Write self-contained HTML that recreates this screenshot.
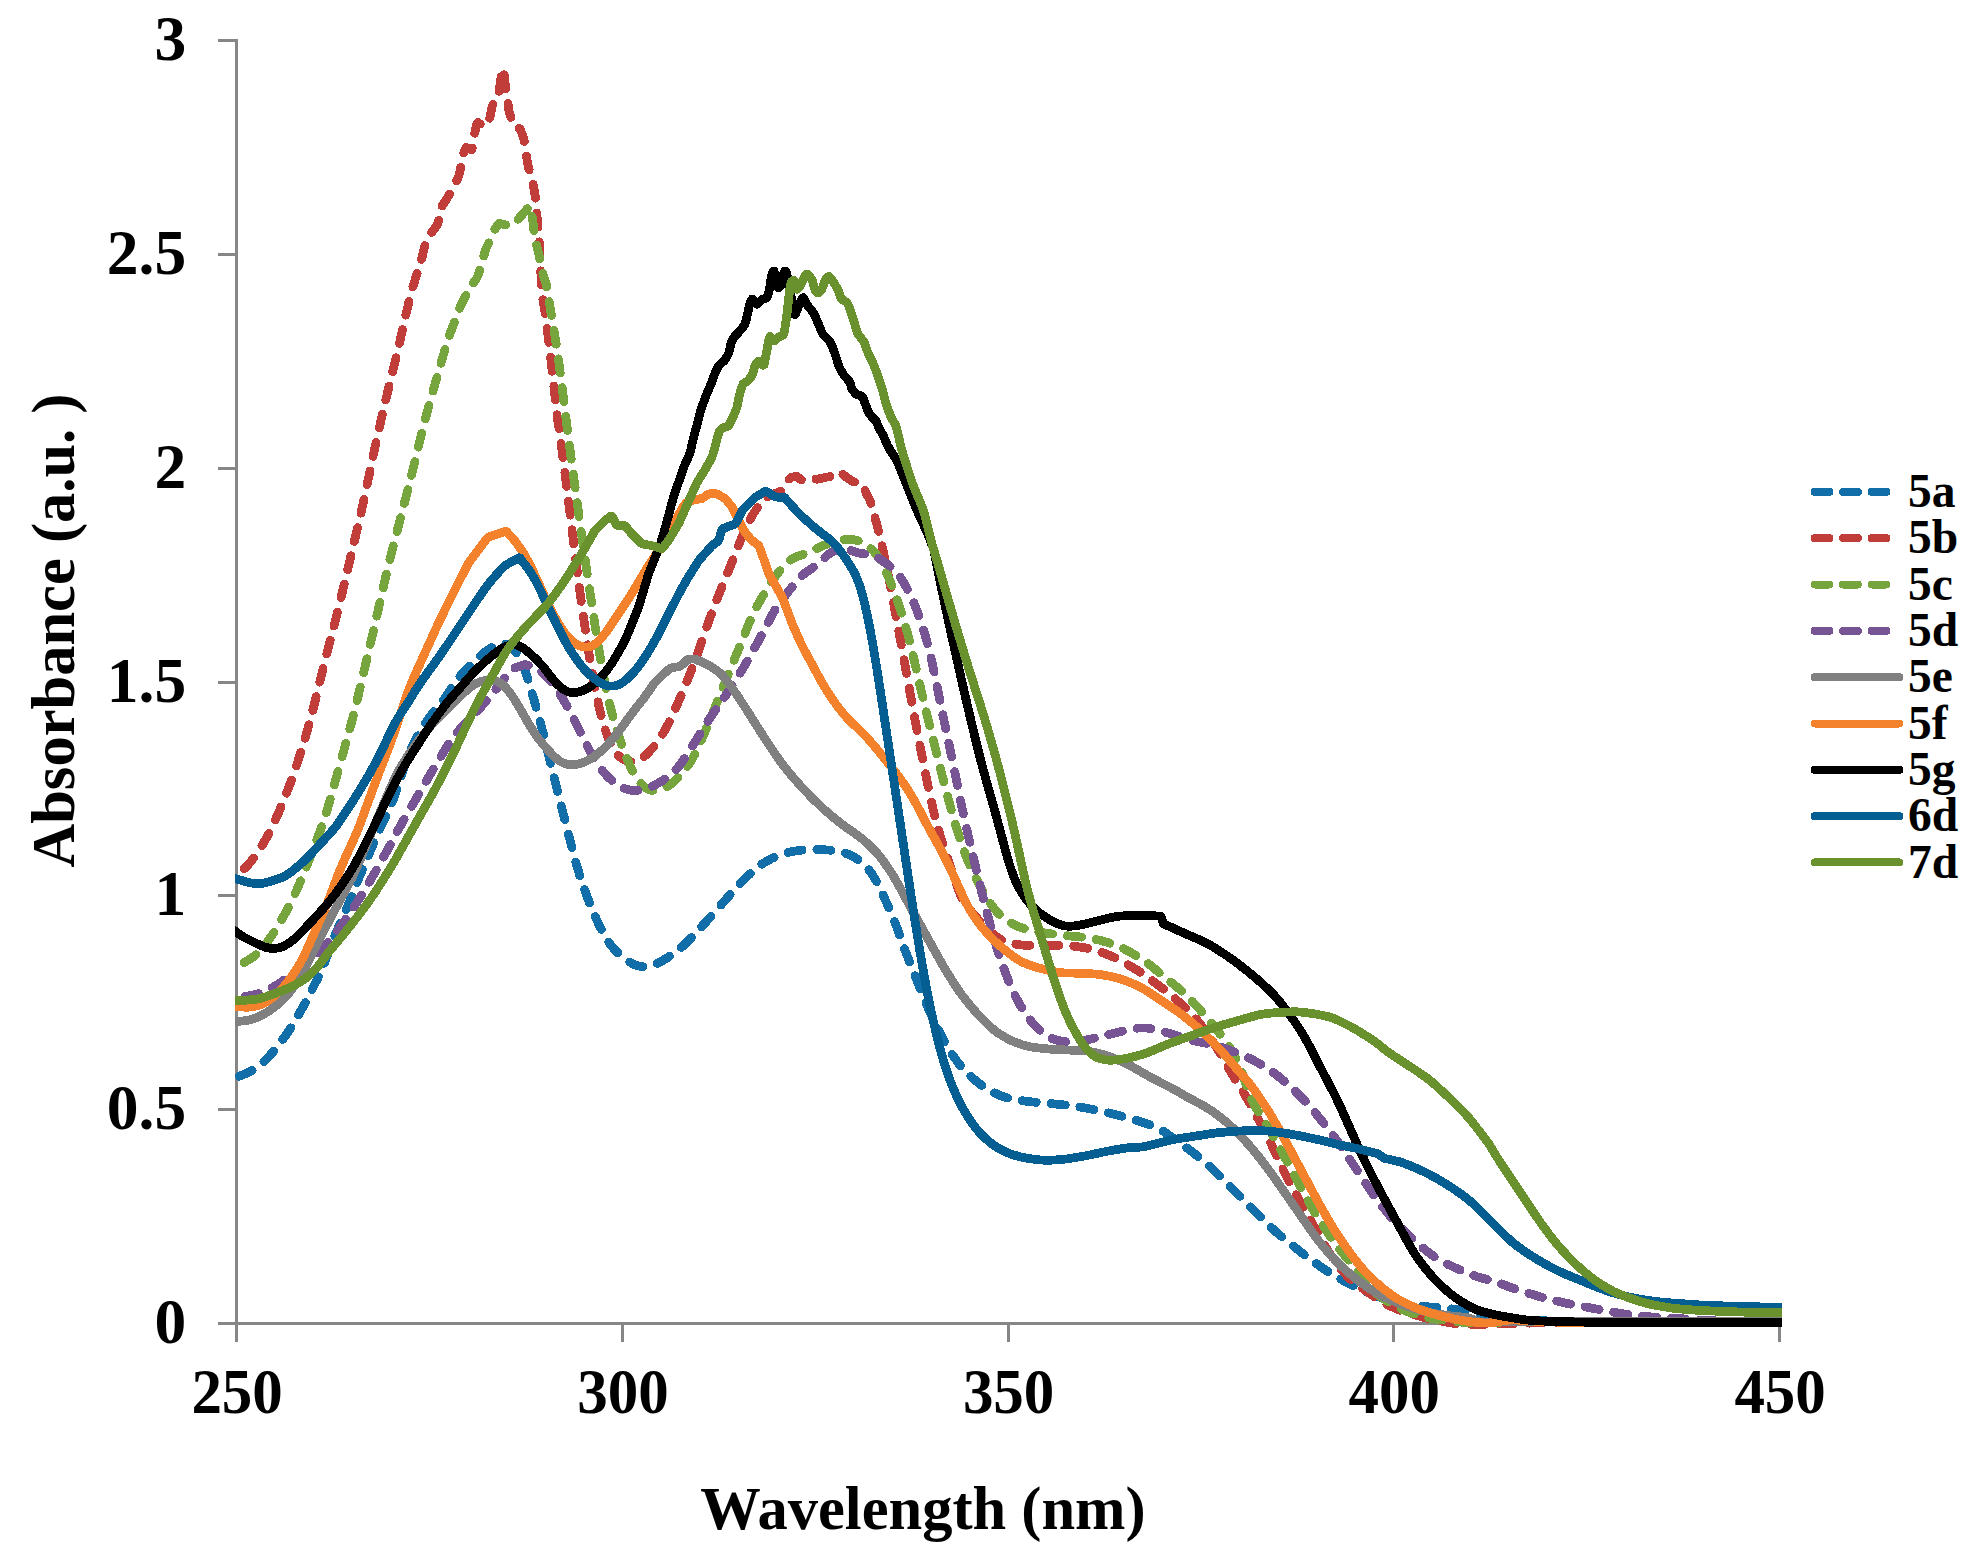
<!DOCTYPE html>
<html><head><meta charset="utf-8"><title>UV-Vis absorbance spectra</title>
<style>html,body{margin:0;padding:0;background:#fff}svg{display:block}</style></head>
<body>
<svg width="1972" height="1554" viewBox="0 0 1972 1554">
<rect width="1972" height="1554" fill="#fff"/>
<g stroke="#868686" stroke-width="3" fill="none" shape-rendering="crispEdges">
<path d="M236.5,39.0 V1342.0"/>
<path d="M218.0,1323.5 H1781.0"/>
<path d="M218.0,1109.7 H236.5"/>
<path d="M218.0,895.8 H236.5"/>
<path d="M218.0,682.0 H236.5"/>
<path d="M218.0,468.2 H236.5"/>
<path d="M218.0,254.3 H236.5"/>
<path d="M218.0,40.5 H236.5"/>
<path d="M622.2,1323.5 V1342.0"/>
<path d="M1008.0,1323.5 V1342.0"/>
<path d="M1393.8,1323.5 V1342.0"/>
<path d="M1779.5,1323.5 V1342.0"/>
</g>
<g font-family="'Liberation Serif', 'Times New Roman', serif" font-weight="bold" fill="#000">
<g font-size="63.5" text-anchor="end">
<text x="186.2" y="1343.1">0</text>
<text x="186.2" y="1129.3">0.5</text>
<text x="186.2" y="915.4">1</text>
<text x="186.2" y="701.6">1.5</text>
<text x="186.2" y="487.8">2</text>
<text x="186.2" y="273.9">2.5</text>
<text x="186.2" y="60.1">3</text>
</g>
<g font-size="63.5" text-anchor="middle">
<text transform="translate(237.1,1412.8) scale(0.96,1)">250</text>
<text transform="translate(622.9,1412.8) scale(0.96,1)">300</text>
<text transform="translate(1008.6,1412.8) scale(0.96,1)">350</text>
<text transform="translate(1394.3,1412.8) scale(0.96,1)">400</text>
<text transform="translate(1780.1,1412.8) scale(0.96,1)">450</text>
</g>
<text x="923" y="1528.7" font-size="60.5" text-anchor="middle">Wavelength (nm)</text>
<text transform="translate(73.6,630.5) rotate(-90)" font-size="60.5" text-anchor="middle">Absorbance (a.u. )</text>
<g font-size="47.5">
<text x="1908" y="507.0">5a</text>
<text x="1908" y="553.3">5b</text>
<text x="1908" y="599.7">5c</text>
<text x="1908" y="646.0">5d</text>
<text x="1908" y="692.3">5e</text>
<text x="1908" y="738.7">5f</text>
<text x="1908" y="785.0">5g</text>
<text x="1908" y="831.3">6d</text>
<text x="1908" y="877.6">7d</text>
</g>
</g>
<clipPath id="plotclip"><rect x="235" y="0" width="1547" height="1340"/></clipPath>
<g fill="none" stroke-width="8" stroke-linecap="round" stroke-linejoin="round" shape-rendering="crispEdges">
<path d="M1814.6,491.8 H1899.4" stroke="#116EA8" stroke-dasharray="14.8 13.7"/>
<path d="M1814.6,538.1 H1899.4" stroke="#C13D3A" stroke-dasharray="14.8 13.7"/>
<path d="M1814.6,584.5 H1899.4" stroke="#76A53E" stroke-dasharray="14.8 13.7"/>
<path d="M1814.6,630.8 H1899.4" stroke="#775494" stroke-dasharray="14.8 13.7"/>
<path d="M1814.6,677.1 H1899.4" stroke="#808080"/>
<path d="M1814.6,723.5 H1899.4" stroke="#F4822C"/>
<path d="M1814.6,769.8 H1899.4" stroke="#000000"/>
<path d="M1814.6,816.1 H1899.4" stroke="#055E92"/>
<path d="M1814.6,862.4 H1899.4" stroke="#69922F"/>
<g clip-path="url(#plotclip)" stroke-width="8.8">
<path d="M233.0,1078.9 L234.0,1078.5 L235.0,1078.1 L236.0,1077.6 L237.0,1077.2 L238.0,1076.8 L239.0,1076.4 L240.0,1075.9 L241.0,1075.5 L242.0,1075.1 L243.0,1074.7 L244.0,1074.2 L245.0,1073.8 L246.0,1073.4 L247.0,1072.9 L248.0,1072.5 L249.0,1072.0 L250.0,1071.6 L251.0,1071.1 L252.0,1070.6 L253.0,1070.0 L254.0,1069.4 L255.0,1068.8 L256.0,1068.1 L257.0,1067.4 L258.0,1066.7 L259.0,1065.9 L260.0,1065.0 L261.0,1064.1 L262.0,1063.2 L263.0,1062.3 L264.0,1061.3 L265.0,1060.4 L266.0,1059.4 L267.0,1058.4 L268.0,1057.4 L269.0,1056.3 L270.0,1055.3 L271.0,1054.2 L272.0,1053.1 L273.0,1052.0 L274.0,1050.9 L275.0,1049.6 L276.0,1048.4 L277.0,1047.1 L278.0,1045.8 L279.0,1044.5 L280.0,1043.1 L281.0,1041.8 L282.0,1040.4 L283.0,1039.1 L284.0,1037.7 L285.0,1036.4 L286.0,1035.0 L287.0,1033.6 L288.0,1032.2 L289.0,1030.7 L290.0,1029.2 L291.0,1027.6 L292.0,1026.0 L293.0,1024.3 L294.0,1022.5 L295.0,1020.8 L296.0,1019.0 L297.0,1017.3 L298.0,1015.5 L299.0,1013.8 L300.0,1012.1 L301.0,1010.3 L302.0,1008.6 L303.0,1006.9 L304.0,1005.1 L305.0,1003.3 L306.0,1001.4 L307.0,999.5 L308.0,997.5 L309.0,995.5 L310.0,993.5 L311.0,991.5 L312.0,989.5 L313.0,987.5 L314.0,985.6 L315.0,983.6 L316.0,981.7 L317.0,979.7 L318.0,977.7 L319.0,975.6 L320.0,973.4 L321.0,971.2 L322.0,968.8 L323.0,966.4 L324.0,964.0 L325.0,961.4 L326.0,958.8 L327.0,956.2 L328.0,953.6 L329.0,950.9 L330.0,948.3 L331.0,945.7 L332.0,943.1 L333.0,940.5 L334.0,938.0 L335.0,935.5 L336.0,933.0 L337.0,930.6 L338.0,928.2 L339.0,925.9 L340.0,923.6 L341.0,921.3 L342.0,919.0 L343.0,916.7 L344.0,914.5 L345.0,912.2 L346.0,909.9 L347.0,907.6 L348.0,905.2 L349.0,902.8 L350.0,900.4 L351.0,898.0 L352.0,895.5 L353.0,893.0 L354.0,890.5 L355.0,888.0 L356.0,885.4 L357.0,882.9 L358.0,880.4 L359.0,877.9 L360.0,875.4 L361.0,873.0 L362.0,870.5 L363.0,868.1 L364.0,865.7 L365.0,863.3 L366.0,861.0 L367.0,858.6 L368.0,856.2 L369.0,853.9 L370.0,851.6 L371.0,849.2 L372.0,846.9 L373.0,844.6 L374.0,842.2 L375.0,839.9 L376.0,837.6 L377.0,835.4 L378.0,833.1 L379.0,830.9 L380.0,828.7 L381.0,826.5 L382.0,824.4 L383.0,822.2 L384.0,820.1 L385.0,818.0 L386.0,815.9 L387.0,813.8 L388.0,811.6 L389.0,809.4 L390.0,807.2 L391.0,804.9 L392.0,802.5 L393.0,800.0 L394.0,797.4 L395.0,794.8 L396.0,792.0 L397.0,789.2 L398.0,786.2 L399.0,783.2 L400.0,780.2 L401.0,777.2 L402.0,774.1 L403.0,771.0 L404.0,768.0 L405.0,765.0 L406.0,762.1 L407.0,759.2 L408.0,756.5 L409.0,753.9 L410.0,751.4 L411.0,749.0 L412.0,746.8 L413.0,744.7 L414.0,742.7 L415.0,740.8 L416.0,738.9 L417.0,737.1 L418.0,735.4 L419.0,733.7 L420.0,732.0 L421.0,730.4 L422.0,728.7 L423.0,727.1 L424.0,725.5 L425.0,723.9 L426.0,722.4 L427.0,720.9 L428.0,719.4 L429.0,718.0 L430.0,716.6 L431.0,715.2 L432.0,713.9 L433.0,712.7 L434.0,711.4 L435.0,710.2 L436.0,709.1 L437.0,707.9 L438.0,706.7 L439.0,705.6 L440.0,704.4 L441.0,703.1 L442.0,701.9 L443.0,700.6 L444.0,699.2 L445.0,697.9 L446.0,696.4 L447.0,694.9 L448.0,693.4 L449.0,691.9 L450.0,690.4 L451.0,688.8 L452.0,687.3 L453.0,685.8 L454.0,684.3 L455.0,682.8 L456.0,681.4 L457.0,680.0 L458.0,678.7 L459.0,677.4 L460.0,676.2 L461.0,675.0 L462.0,673.8 L463.0,672.7 L464.0,671.7 L465.0,670.6 L466.0,669.6 L467.0,668.5 L468.0,667.5 L469.0,666.5 L470.0,665.6 L471.0,664.6 L472.0,663.6 L473.0,662.7 L474.0,661.7 L475.0,660.8 L476.0,659.9 L477.0,658.9 L478.0,658.0 L479.0,657.2 L480.0,656.3 L481.0,655.4 L482.0,654.6 L483.0,653.7 L484.0,652.9 L485.0,652.1 L486.0,651.4 L487.0,650.7 L488.0,650.0 L489.0,649.3 L490.0,648.7 L491.0,648.1 L492.0,647.5 L493.0,646.9 L494.0,646.4 L495.0,645.9 L496.0,645.4 L497.0,645.0 L498.0,644.6 L499.0,644.2 L500.0,643.9 L501.0,643.7 L502.0,643.5 L503.0,643.5 L504.0,643.6 L505.0,643.7 L506.0,644.0 L507.0,644.4 L508.0,644.9 L509.0,645.5 L510.0,646.2 L511.0,647.0 L512.0,647.9 L513.0,648.9 L514.0,650.0 L515.0,651.2 L516.0,652.5 L517.0,653.8 L518.0,655.4 L519.0,657.0 L520.0,658.8 L521.0,660.8 L522.0,663.0 L523.0,665.3 L524.0,667.8 L525.0,670.5 L526.0,673.4 L527.0,676.4 L528.0,679.5 L529.0,682.7 L530.0,686.0 L531.0,689.4 L532.0,692.8 L533.0,696.3 L534.0,699.7 L535.0,703.2 L536.0,706.8 L537.0,710.4 L538.0,714.0 L539.0,717.6 L540.0,721.3 L541.0,725.0 L542.0,728.8 L543.0,732.6 L544.0,736.5 L545.0,740.5 L546.0,744.5 L547.0,748.5 L548.0,752.6 L549.0,756.7 L550.0,760.9 L551.0,765.0 L552.0,769.1 L553.0,773.2 L554.0,777.3 L555.0,781.3 L556.0,785.3 L557.0,789.3 L558.0,793.2 L559.0,797.1 L560.0,801.0 L561.0,804.9 L562.0,808.8 L563.0,812.7 L564.0,816.6 L565.0,820.5 L566.0,824.4 L567.0,828.4 L568.0,832.3 L569.0,836.3 L570.0,840.3 L571.0,844.2 L572.0,848.1 L573.0,851.9 L574.0,855.7 L575.0,859.4 L576.0,863.0 L577.0,866.4 L578.0,869.8 L579.0,873.1 L580.0,876.3 L581.0,879.3 L582.0,882.3 L583.0,885.3 L584.0,888.1 L585.0,890.9 L586.0,893.6 L587.0,896.3 L588.0,899.0 L589.0,901.5 L590.0,904.1 L591.0,906.6 L592.0,909.1 L593.0,911.5 L594.0,913.8 L595.0,916.1 L596.0,918.3 L597.0,920.5 L598.0,922.6 L599.0,924.7 L600.0,926.7 L601.0,928.7 L602.0,930.6 L603.0,932.5 L604.0,934.3 L605.0,936.0 L606.0,937.7 L607.0,939.4 L608.0,940.9 L609.0,942.4 L610.0,943.9 L611.0,945.2 L612.0,946.5 L613.0,947.7 L614.0,948.9 L615.0,950.0 L616.0,951.0 L617.0,952.0 L618.0,953.0 L619.0,953.9 L620.0,954.8 L621.0,955.7 L622.0,956.6 L623.0,957.4 L624.0,958.2 L625.0,958.9 L626.0,959.7 L627.0,960.4 L628.0,961.0 L629.0,961.7 L630.0,962.3 L631.0,962.8 L632.0,963.4 L633.0,963.9 L634.0,964.4 L635.0,964.8 L636.0,965.2 L637.0,965.5 L638.0,965.9 L639.0,966.1 L640.0,966.3 L641.0,966.5 L642.0,966.6 L643.0,966.7 L644.0,966.7 L645.0,966.7 L646.0,966.7 L647.0,966.5 L648.0,966.4 L649.0,966.2 L650.0,966.0 L651.0,965.7 L652.0,965.4 L653.0,965.1 L654.0,964.8 L655.0,964.4 L656.0,963.9 L657.0,963.5 L658.0,963.0 L659.0,962.5 L660.0,962.0 L661.0,961.4 L662.0,960.9 L663.0,960.3 L664.0,959.7 L665.0,959.1 L666.0,958.5 L667.0,957.9 L668.0,957.2 L669.0,956.6 L670.0,955.9 L671.0,955.2 L672.0,954.5 L673.0,953.9 L674.0,953.1 L675.0,952.4 L676.0,951.7 L677.0,950.9 L678.0,950.1 L679.0,949.3 L680.0,948.5 L681.0,947.7 L682.0,946.8 L683.0,945.9 L684.0,945.0 L685.0,944.0 L686.0,943.0 L687.0,942.0 L688.0,941.0 L689.0,940.0 L690.0,939.0 L691.0,938.0 L692.0,936.9 L693.0,935.9 L694.0,934.8 L695.0,933.8 L696.0,932.7 L697.0,931.7 L698.0,930.6 L699.0,929.6 L700.0,928.5 L701.0,927.4 L702.0,926.3 L703.0,925.2 L704.0,924.1 L705.0,923.0 L706.0,921.9 L707.0,920.8 L708.0,919.7 L709.0,918.5 L710.0,917.4 L711.0,916.3 L712.0,915.2 L713.0,914.0 L714.0,912.9 L715.0,911.8 L716.0,910.6 L717.0,909.5 L718.0,908.4 L719.0,907.2 L720.0,906.1 L721.0,905.0 L722.0,903.8 L723.0,902.7 L724.0,901.6 L725.0,900.4 L726.0,899.3 L727.0,898.2 L728.0,897.0 L729.0,895.9 L730.0,894.8 L731.0,893.6 L732.0,892.5 L733.0,891.4 L734.0,890.3 L735.0,889.2 L736.0,888.1 L737.0,887.0 L738.0,885.9 L739.0,884.8 L740.0,883.7 L741.0,882.7 L742.0,881.7 L743.0,880.6 L744.0,879.6 L745.0,878.6 L746.0,877.6 L747.0,876.7 L748.0,875.7 L749.0,874.8 L750.0,873.8 L751.0,872.9 L752.0,872.0 L753.0,871.2 L754.0,870.3 L755.0,869.4 L756.0,868.6 L757.0,867.8 L758.0,867.0 L759.0,866.3 L760.0,865.5 L761.0,864.8 L762.0,864.1 L763.0,863.4 L764.0,862.8 L765.0,862.2 L766.0,861.6 L767.0,861.0 L768.0,860.4 L769.0,859.9 L770.0,859.3 L771.0,858.8 L772.0,858.3 L773.0,857.9 L774.0,857.4 L775.0,857.0 L776.0,856.5 L777.0,856.1 L778.0,855.7 L779.0,855.3 L780.0,855.0 L781.0,854.6 L782.0,854.3 L783.0,853.9 L784.0,853.6 L785.0,853.3 L786.0,853.0 L787.0,852.7 L788.0,852.5 L789.0,852.2 L790.0,852.0 L791.0,851.8 L792.0,851.6 L793.0,851.4 L794.0,851.2 L795.0,851.0 L796.0,850.9 L797.0,850.7 L798.0,850.6 L799.0,850.5 L800.0,850.3 L801.0,850.2 L802.0,850.1 L803.0,850.0 L804.0,849.9 L805.0,849.9 L806.0,849.8 L807.0,849.7 L808.0,849.7 L809.0,849.6 L810.0,849.6 L811.0,849.6 L812.0,849.5 L813.0,849.5 L814.0,849.5 L815.0,849.5 L816.0,849.5 L817.0,849.5 L818.0,849.5 L819.0,849.6 L820.0,849.6 L821.0,849.6 L822.0,849.7 L823.0,849.7 L824.0,849.8 L825.0,849.8 L826.0,849.9 L827.0,849.9 L828.0,850.0 L829.0,850.1 L830.0,850.2 L831.0,850.3 L832.0,850.4 L833.0,850.5 L834.0,850.6 L835.0,850.7 L836.0,850.9 L837.0,851.0 L838.0,851.2 L839.0,851.4 L840.0,851.6 L841.0,851.9 L842.0,852.1 L843.0,852.4 L844.0,852.7 L845.0,853.1 L846.0,853.4 L847.0,853.8 L848.0,854.2 L849.0,854.6 L850.0,855.1 L851.0,855.6 L852.0,856.1 L853.0,856.6 L854.0,857.1 L855.0,857.7 L856.0,858.3 L857.0,858.9 L858.0,859.6 L859.0,860.3 L860.0,861.0 L861.0,861.8 L862.0,862.6 L863.0,863.5 L864.0,864.4 L865.0,865.4 L866.0,866.4 L867.0,867.5 L868.0,868.7 L869.0,869.9 L870.0,871.2 L871.0,872.6 L872.0,874.1 L873.0,875.6 L874.0,877.3 L875.0,879.0 L876.0,880.7 L877.0,882.6 L878.0,884.5 L879.0,886.5 L880.0,888.6 L881.0,890.7 L882.0,892.8 L883.0,895.0 L884.0,897.1 L885.0,899.3 L886.0,901.5 L887.0,903.7 L888.0,905.8 L889.0,908.1 L890.0,910.3 L891.0,912.6 L892.0,914.9 L893.0,917.4 L894.0,919.9 L895.0,922.4 L896.0,925.1 L897.0,927.8 L898.0,930.6 L899.0,933.4 L900.0,936.2 L901.0,939.0 L902.0,941.8 L903.0,944.6 L904.0,947.3 L905.0,950.0 L906.0,952.7 L907.0,955.3 L908.0,957.9 L909.0,960.5 L910.0,963.1 L911.0,965.6 L912.0,968.1 L913.0,970.6 L914.0,973.2 L915.0,975.7 L916.0,978.2 L917.0,980.7 L918.0,983.2 L919.0,985.7 L920.0,988.1 L921.0,990.6 L922.0,993.1 L923.0,995.6 L924.0,998.0 L925.0,1000.5 L926.0,1002.9 L927.0,1005.3 L928.0,1007.6 L929.0,1010.0 L930.0,1012.2 L931.0,1014.5 L932.0,1016.7 L933.0,1018.8 L934.0,1021.0 L935.0,1023.1 L936.0,1025.1 L937.0,1027.2 L938.0,1029.2 L939.0,1031.2 L940.0,1033.2 L941.0,1035.1 L942.0,1037.1 L943.0,1039.0 L944.0,1040.8 L945.0,1042.6 L946.0,1044.4 L947.0,1046.1 L948.0,1047.8 L949.0,1049.4 L950.0,1051.0 L951.0,1052.6 L952.0,1054.1 L953.0,1055.5 L954.0,1057.0 L955.0,1058.4 L956.0,1059.8 L957.0,1061.2 L958.0,1062.5 L959.0,1063.9 L960.0,1065.1 L961.0,1066.4 L962.0,1067.6 L963.0,1068.8 L964.0,1069.9 L965.0,1071.0 L966.0,1072.0 L967.0,1073.0 L968.0,1074.0 L969.0,1074.9 L970.0,1075.8 L971.0,1076.7 L972.0,1077.6 L973.0,1078.4 L974.0,1079.3 L975.0,1080.1 L976.0,1080.9 L977.0,1081.7 L978.0,1082.5 L979.0,1083.3 L980.0,1084.1 L981.0,1084.9 L982.0,1085.6 L983.0,1086.3 L984.0,1087.0 L985.0,1087.6 L986.0,1088.2 L987.0,1088.8 L988.0,1089.4 L989.0,1090.0 L990.0,1090.5 L991.0,1091.0 L992.0,1091.6 L993.0,1092.1 L994.0,1092.6 L995.0,1093.1 L996.0,1093.5 L997.0,1094.0 L998.0,1094.5 L999.0,1095.0 L1000.0,1095.4 L1001.0,1095.8 L1002.0,1096.2 L1003.0,1096.6 L1004.0,1096.9 L1005.0,1097.2 L1006.0,1097.5 L1007.0,1097.8 L1008.0,1098.1 L1009.0,1098.3 L1010.0,1098.5 L1011.0,1098.7 L1012.0,1098.9 L1013.0,1099.1 L1014.0,1099.3 L1015.0,1099.4 L1016.0,1099.6 L1017.0,1099.8 L1018.0,1100.0 L1019.0,1100.1 L1020.0,1100.3 L1021.0,1100.5 L1022.0,1100.6 L1023.0,1100.8 L1024.0,1100.9 L1025.0,1101.1 L1026.0,1101.2 L1027.0,1101.3 L1028.0,1101.5 L1029.0,1101.6 L1030.0,1101.7 L1031.0,1101.8 L1032.0,1101.9 L1033.0,1102.0 L1034.0,1102.1 L1035.0,1102.2 L1036.0,1102.3 L1037.0,1102.4 L1038.0,1102.5 L1039.0,1102.6 L1040.0,1102.6 L1041.0,1102.7 L1042.0,1102.8 L1043.0,1102.9 L1044.0,1103.0 L1045.0,1103.1 L1046.0,1103.2 L1047.0,1103.3 L1048.0,1103.3 L1049.0,1103.4 L1050.0,1103.5 L1051.0,1103.6 L1052.0,1103.7 L1053.0,1103.8 L1054.0,1103.9 L1055.0,1104.0 L1056.0,1104.1 L1057.0,1104.2 L1058.0,1104.3 L1059.0,1104.4 L1060.0,1104.5 L1061.0,1104.6 L1062.0,1104.7 L1063.0,1104.8 L1064.0,1104.9 L1065.0,1105.0 L1066.0,1105.1 L1067.0,1105.2 L1068.0,1105.3 L1069.0,1105.4 L1070.0,1105.5 L1071.0,1105.7 L1072.0,1105.8 L1073.0,1105.9 L1074.0,1106.1 L1075.0,1106.2 L1076.0,1106.4 L1077.0,1106.5 L1078.0,1106.7 L1079.0,1106.8 L1080.0,1107.0 L1081.0,1107.2 L1082.0,1107.4 L1083.0,1107.6 L1084.0,1107.7 L1085.0,1107.9 L1086.0,1108.1 L1087.0,1108.3 L1088.0,1108.5 L1089.0,1108.7 L1090.0,1108.9 L1091.0,1109.0 L1092.0,1109.2 L1093.0,1109.4 L1094.0,1109.6 L1095.0,1109.8 L1096.0,1110.0 L1097.0,1110.2 L1098.0,1110.5 L1099.0,1110.7 L1100.0,1110.9 L1101.0,1111.1 L1102.0,1111.4 L1103.0,1111.6 L1104.0,1111.8 L1105.0,1112.1 L1106.0,1112.3 L1107.0,1112.5 L1108.0,1112.8 L1109.0,1113.0 L1110.0,1113.3 L1111.0,1113.5 L1112.0,1113.8 L1113.0,1114.0 L1114.0,1114.2 L1115.0,1114.5 L1116.0,1114.7 L1117.0,1115.0 L1118.0,1115.2 L1119.0,1115.5 L1120.0,1115.8 L1121.0,1116.0 L1122.0,1116.3 L1123.0,1116.6 L1124.0,1116.8 L1125.0,1117.1 L1126.0,1117.4 L1127.0,1117.7 L1128.0,1117.9 L1129.0,1118.2 L1130.0,1118.5 L1131.0,1118.8 L1132.0,1119.1 L1133.0,1119.4 L1134.0,1119.7 L1135.0,1119.9 L1136.0,1120.2 L1137.0,1120.5 L1138.0,1120.8 L1139.0,1121.1 L1140.0,1121.4 L1141.0,1121.7 L1142.0,1122.1 L1143.0,1122.4 L1144.0,1122.7 L1145.0,1123.1 L1146.0,1123.4 L1147.0,1123.8 L1148.0,1124.1 L1149.0,1124.5 L1150.0,1124.9 L1151.0,1125.3 L1152.0,1125.7 L1153.0,1126.1 L1154.0,1126.5 L1155.0,1126.9 L1156.0,1127.4 L1157.0,1127.8 L1158.0,1128.3 L1159.0,1128.8 L1160.0,1129.4 L1161.0,1129.9 L1162.0,1130.5 L1163.0,1131.1 L1164.0,1131.7 L1165.0,1132.4 L1166.0,1133.1 L1167.0,1133.8 L1168.0,1134.5 L1169.0,1135.2 L1170.0,1135.9 L1171.0,1136.7 L1172.0,1137.4 L1173.0,1138.1 L1174.0,1138.8 L1175.0,1139.6 L1176.0,1140.3 L1177.0,1141.0 L1178.0,1141.7 L1179.0,1142.4 L1180.0,1143.1 L1181.0,1143.8 L1182.0,1144.6 L1183.0,1145.3 L1184.0,1146.0 L1185.0,1146.7 L1186.0,1147.4 L1187.0,1148.1 L1188.0,1148.8 L1189.0,1149.6 L1190.0,1150.3 L1191.0,1151.0 L1192.0,1151.8 L1193.0,1152.6 L1194.0,1153.3 L1195.0,1154.1 L1196.0,1154.9 L1197.0,1155.7 L1198.0,1156.5 L1199.0,1157.2 L1200.0,1158.1 L1201.0,1158.9 L1202.0,1159.7 L1203.0,1160.5 L1204.0,1161.3 L1205.0,1162.2 L1206.0,1163.0 L1207.0,1163.9 L1208.0,1164.8 L1209.0,1165.7 L1210.0,1166.6 L1211.0,1167.6 L1212.0,1168.5 L1213.0,1169.5 L1214.0,1170.5 L1215.0,1171.4 L1216.0,1172.4 L1217.0,1173.4 L1218.0,1174.4 L1219.0,1175.4 L1220.0,1176.4 L1221.0,1177.4 L1222.0,1178.4 L1223.0,1179.4 L1224.0,1180.4 L1225.0,1181.4 L1226.0,1182.4 L1227.0,1183.4 L1228.0,1184.4 L1229.0,1185.4 L1230.0,1186.4 L1231.0,1187.4 L1232.0,1188.4 L1233.0,1189.4 L1234.0,1190.4 L1235.0,1191.4 L1236.0,1192.4 L1237.0,1193.4 L1238.0,1194.4 L1239.0,1195.4 L1240.0,1196.4 L1241.0,1197.4 L1242.0,1198.4 L1243.0,1199.4 L1244.0,1200.4 L1245.0,1201.4 L1246.0,1202.4 L1247.0,1203.4 L1248.0,1204.4 L1249.0,1205.4 L1250.0,1206.4 L1251.0,1207.4 L1252.0,1208.4 L1253.0,1209.4 L1254.0,1210.4 L1255.0,1211.4 L1256.0,1212.4 L1257.0,1213.4 L1258.0,1214.4 L1259.0,1215.4 L1260.0,1216.4 L1261.0,1217.4 L1262.0,1218.4 L1263.0,1219.4 L1264.0,1220.4 L1265.0,1221.4 L1266.0,1222.4 L1267.0,1223.4 L1268.0,1224.4 L1269.0,1225.4 L1270.0,1226.3 L1271.0,1227.3 L1272.0,1228.2 L1273.0,1229.2 L1274.0,1230.1 L1275.0,1231.0 L1276.0,1231.9 L1277.0,1232.8 L1278.0,1233.6 L1279.0,1234.5 L1280.0,1235.3 L1281.0,1236.2 L1282.0,1237.0 L1283.0,1237.8 L1284.0,1238.6 L1285.0,1239.4 L1286.0,1240.2 L1287.0,1241.0 L1288.0,1241.8 L1289.0,1242.6 L1290.0,1243.4 L1291.0,1244.2 L1292.0,1245.0 L1293.0,1245.8 L1294.0,1246.6 L1295.0,1247.4 L1296.0,1248.2 L1297.0,1249.0 L1298.0,1249.8 L1299.0,1250.6 L1300.0,1251.4 L1301.0,1252.2 L1302.0,1253.0 L1303.0,1253.8 L1304.0,1254.6 L1305.0,1255.3 L1306.0,1256.1 L1307.0,1256.9 L1308.0,1257.6 L1309.0,1258.4 L1310.0,1259.1 L1311.0,1259.9 L1312.0,1260.6 L1313.0,1261.3 L1314.0,1262.0 L1315.0,1262.7 L1316.0,1263.4 L1317.0,1264.1 L1318.0,1264.8 L1319.0,1265.5 L1320.0,1266.2 L1321.0,1266.9 L1322.0,1267.6 L1323.0,1268.3 L1324.0,1268.9 L1325.0,1269.6 L1326.0,1270.2 L1327.0,1270.9 L1328.0,1271.5 L1329.0,1272.1 L1330.0,1272.7 L1331.0,1273.3 L1332.0,1274.0 L1333.0,1274.6 L1334.0,1275.2 L1335.0,1275.8 L1336.0,1276.4 L1337.0,1276.9 L1338.0,1277.5 L1339.0,1278.1 L1340.0,1278.7 L1341.0,1279.2 L1342.0,1279.8 L1343.0,1280.3 L1344.0,1280.9 L1345.0,1281.4 L1346.0,1281.9 L1347.0,1282.4 L1348.0,1282.9 L1349.0,1283.5 L1350.0,1284.0 L1351.0,1284.5 L1352.0,1285.0 L1353.0,1285.5 L1354.0,1286.0 L1355.0,1286.5 L1356.0,1287.0 L1357.0,1287.4 L1358.0,1287.9 L1359.0,1288.4 L1360.0,1288.9 L1361.0,1289.4 L1362.0,1289.8 L1363.0,1290.3 L1364.0,1290.7 L1365.0,1291.2 L1366.0,1291.6 L1367.0,1292.0 L1368.0,1292.5 L1369.0,1292.9 L1370.0,1293.3 L1371.0,1293.7 L1372.0,1294.1 L1373.0,1294.5 L1374.0,1295.0 L1375.0,1295.4 L1376.0,1295.8 L1377.0,1296.2 L1378.0,1296.6 L1379.0,1296.9 L1380.0,1297.3 L1381.0,1297.6 L1382.0,1298.0 L1383.0,1298.3 L1384.0,1298.6 L1385.0,1298.9 L1386.0,1299.2 L1387.0,1299.5 L1388.0,1299.8 L1389.0,1300.0 L1390.0,1300.3 L1391.0,1300.6 L1392.0,1300.8 L1393.0,1301.1 L1394.0,1301.3 L1395.0,1301.6 L1396.0,1301.8 L1397.0,1302.0 L1398.0,1302.3 L1399.0,1302.5 L1400.0,1302.7 L1401.0,1302.9 L1402.0,1303.1 L1403.0,1303.3 L1404.0,1303.5 L1405.0,1303.7 L1406.0,1303.9 L1407.0,1304.0 L1408.0,1304.2 L1409.0,1304.3 L1410.0,1304.5 L1411.0,1304.6 L1412.0,1304.8 L1413.0,1304.9 L1414.0,1305.1 L1415.0,1305.2 L1416.0,1305.3 L1417.0,1305.5 L1418.0,1305.6 L1419.0,1305.8 L1420.0,1305.9 L1421.0,1306.0 L1422.0,1306.2 L1423.0,1306.3 L1424.0,1306.4 L1425.0,1306.5 L1426.0,1306.6 L1427.0,1306.7 L1428.0,1306.8 L1429.0,1306.9 L1430.0,1307.0 L1431.0,1307.1 L1432.0,1307.2 L1433.0,1307.2 L1434.0,1307.3 L1435.0,1307.4 L1436.0,1307.5 L1437.0,1307.5 L1438.0,1307.6 L1439.0,1307.7 L1440.0,1307.8 L1441.0,1307.8 L1442.0,1307.9 L1443.0,1308.0 L1444.0,1308.1 L1445.0,1308.1 L1446.0,1308.2 L1447.0,1308.3 L1448.0,1308.4 L1449.0,1308.5 L1450.0,1308.6 L1451.0,1308.8 L1452.0,1308.9 L1453.0,1309.0 L1454.0,1309.1 L1455.0,1309.3 L1456.0,1309.4 L1457.0,1309.5 L1458.0,1309.7 L1459.0,1309.8 L1460.0,1310.0 L1461.0,1310.1 L1462.0,1310.2 L1463.0,1310.4 L1464.0,1310.5 L1465.0,1310.7 L1466.0,1310.8 L1467.0,1311.0 L1468.0,1311.1 L1469.0,1311.3 L1470.0,1311.4 L1471.0,1311.6 L1472.0,1311.8 L1473.0,1311.9 L1474.0,1312.1 L1475.0,1312.3 L1476.0,1312.5 L1477.0,1312.6 L1478.0,1312.8 L1479.0,1313.0 L1480.0,1313.2 L1481.0,1313.4 L1482.0,1313.6 L1483.0,1313.8 L1484.0,1313.9 L1485.0,1314.1 L1486.0,1314.3 L1487.0,1314.5 L1488.0,1314.7 L1489.0,1314.9 L1490.0,1315.1 L1491.0,1315.3 L1492.0,1315.5 L1493.0,1315.7 L1494.0,1315.8 L1495.0,1316.0 L1496.0,1316.2 L1497.0,1316.4 L1498.0,1316.5 L1499.0,1316.7 L1500.0,1316.9 L1501.0,1317.0 L1502.0,1317.1 L1503.0,1317.3 L1504.0,1317.4 L1505.0,1317.6 L1506.0,1317.7 L1507.0,1317.8 L1508.0,1317.9 L1509.0,1318.0 L1510.0,1318.2 L1511.0,1318.3 L1512.0,1318.4 L1513.0,1318.5 L1514.0,1318.6 L1515.0,1318.8 L1516.0,1318.9 L1517.0,1319.0 L1518.0,1319.1 L1519.0,1319.2 L1520.0,1319.3 L1521.0,1319.4 L1522.0,1319.6 L1523.0,1319.7 L1524.0,1319.8 L1525.0,1319.9 L1526.0,1320.0 L1527.0,1320.1 L1528.0,1320.2 L1529.0,1320.2 L1530.0,1320.3 L1531.0,1320.4 L1532.0,1320.4 L1533.0,1320.5 L1534.0,1320.5 L1535.0,1320.6 L1536.0,1320.6 L1537.0,1320.6 L1538.0,1320.7 L1539.0,1320.7 L1540.0,1320.7 L1541.0,1320.7 L1542.0,1320.8 L1543.0,1320.8 L1544.0,1320.8 L1545.0,1320.8 L1546.0,1320.8 L1547.0,1320.9 L1548.0,1320.9 L1549.0,1320.9 L1550.0,1320.9 L1551.0,1320.9 L1552.0,1321.0 L1553.0,1321.0 L1554.0,1321.0 L1555.0,1321.0 L1556.0,1321.1 L1557.0,1321.1 L1558.0,1321.1 L1559.0,1321.1 L1560.0,1321.1 L1561.0,1321.2 L1562.0,1321.2 L1563.0,1321.2 L1564.0,1321.2 L1565.0,1321.3 L1566.0,1321.3 L1567.0,1321.3 L1568.0,1321.3 L1569.0,1321.3 L1570.0,1321.4 L1571.0,1321.4 L1572.0,1321.4 L1573.0,1321.4 L1574.0,1321.4 L1575.0,1321.5 L1576.0,1321.5 L1577.0,1321.5 L1578.0,1321.5 L1579.0,1321.6 L1580.0,1321.6 L1581.0,1321.6 L1582.0,1321.6 L1583.0,1321.6 L1584.0,1321.7 L1585.0,1321.7 L1586.0,1321.7 L1587.0,1321.7 L1588.0,1321.7 L1589.0,1321.8 L1590.0,1321.8 L1591.0,1321.8 L1592.0,1321.8 L1593.0,1321.8 L1594.0,1321.9 L1595.0,1321.9 L1596.0,1321.9 L1597.0,1321.9 L1598.0,1321.9 L1599.0,1322.0 L1600.0,1322.0 L1601.0,1322.0 L1602.0,1322.0 L1603.0,1322.0 L1604.0,1322.0 L1605.0,1322.0 L1606.0,1322.0 L1607.0,1322.0 L1608.0,1322.0 L1609.0,1322.0 L1610.0,1322.0 L1611.0,1322.0 L1612.0,1322.0 L1613.0,1322.0 L1614.0,1322.0 L1615.0,1322.0 L1616.0,1322.0 L1617.0,1322.0 L1618.0,1322.0 L1619.0,1322.1 L1620.0,1322.1 L1621.0,1322.1 L1622.0,1322.1 L1623.0,1322.1 L1624.0,1322.1 L1625.0,1322.1 L1626.0,1322.1 L1627.0,1322.1 L1628.0,1322.1 L1629.0,1322.1 L1630.0,1322.1 L1631.0,1322.1 L1632.0,1322.1 L1633.0,1322.1 L1634.0,1322.1 L1635.0,1322.1 L1636.0,1322.1 L1637.0,1322.1 L1638.0,1322.1 L1639.0,1322.1 L1640.0,1322.1 L1641.0,1322.1 L1642.0,1322.1 L1643.0,1322.1 L1644.0,1322.1 L1645.0,1322.1 L1646.0,1322.1 L1647.0,1322.1 L1648.0,1322.1 L1649.0,1322.1 L1650.0,1322.1 L1651.0,1322.1 L1652.0,1322.1 L1653.0,1322.1 L1654.0,1322.1 L1655.0,1322.1 L1656.0,1322.2 L1657.0,1322.2 L1658.0,1322.2 L1659.0,1322.2 L1660.0,1322.2 L1661.0,1322.2 L1662.0,1322.2 L1663.0,1322.2 L1664.0,1322.2 L1665.0,1322.2 L1666.0,1322.2 L1667.0,1322.2 L1668.0,1322.2 L1669.0,1322.2 L1670.0,1322.2 L1671.0,1322.2 L1672.0,1322.2 L1673.0,1322.2 L1674.0,1322.2 L1675.0,1322.2 L1676.0,1322.2 L1677.0,1322.2 L1678.0,1322.2 L1679.0,1322.2 L1680.0,1322.2 L1681.0,1322.2 L1682.0,1322.2 L1683.0,1322.2 L1684.0,1322.2 L1685.0,1322.2 L1686.0,1322.2 L1687.0,1322.2 L1688.0,1322.2 L1689.0,1322.2 L1690.0,1322.2 L1691.0,1322.2 L1692.0,1322.2 L1693.0,1322.3 L1694.0,1322.3 L1695.0,1322.3 L1696.0,1322.3 L1697.0,1322.3 L1698.0,1322.3 L1699.0,1322.3 L1700.0,1322.3 L1701.0,1322.3 L1702.0,1322.3 L1703.0,1322.3 L1704.0,1322.3 L1705.0,1322.3 L1706.0,1322.3 L1707.0,1322.3 L1708.0,1322.3 L1709.0,1322.3 L1710.0,1322.3 L1711.0,1322.3 L1712.0,1322.3 L1713.0,1322.3 L1714.0,1322.3 L1715.0,1322.3 L1716.0,1322.3 L1717.0,1322.3 L1718.0,1322.3 L1719.0,1322.3 L1720.0,1322.3 L1721.0,1322.3 L1722.0,1322.3 L1723.0,1322.3 L1724.0,1322.3 L1725.0,1322.3 L1726.0,1322.3 L1727.0,1322.3 L1728.0,1322.3 L1729.0,1322.3 L1730.0,1322.4 L1731.0,1322.4 L1732.0,1322.4 L1733.0,1322.4 L1734.0,1322.4 L1735.0,1322.4 L1736.0,1322.4 L1737.0,1322.4 L1738.0,1322.4 L1739.0,1322.4 L1740.0,1322.4 L1741.0,1322.4 L1742.0,1322.4 L1743.0,1322.4 L1744.0,1322.4 L1745.0,1322.4 L1746.0,1322.4 L1747.0,1322.4 L1748.0,1322.4 L1749.0,1322.4 L1750.0,1322.4 L1751.0,1322.4 L1752.0,1322.4 L1753.0,1322.4 L1754.0,1322.4 L1755.0,1322.4 L1756.0,1322.4 L1757.0,1322.4 L1758.0,1322.4 L1759.0,1322.4 L1760.0,1322.4 L1761.0,1322.4 L1762.0,1322.4 L1763.0,1322.4 L1764.0,1322.4 L1765.0,1322.4 L1766.0,1322.4 L1767.0,1322.5 L1768.0,1322.5 L1769.0,1322.5 L1770.0,1322.5 L1771.0,1322.5 L1772.0,1322.5 L1773.0,1322.5 L1774.0,1322.5 L1775.0,1322.5 L1776.0,1322.5 L1777.0,1322.5 L1778.0,1322.5 L1779.0,1322.5 L1780.0,1322.5 L1781.0,1322.5 L1782.0,1322.5 L1783.0,1322.5 L1784.0,1322.5 L1785.0,1322.5" stroke="#116EA8" stroke-dasharray="14.2 14.8" stroke-dashoffset="22.2"/>
<path d="M233.0,878.9 L234.0,878.0 L235.0,877.1 L236.0,876.2 L237.0,875.3 L238.0,874.4 L239.0,873.5 L240.0,872.6 L241.0,871.7 L242.0,870.8 L243.0,869.9 L244.0,868.9 L245.0,868.0 L246.0,867.0 L247.0,865.9 L248.0,864.9 L249.0,863.7 L250.0,862.6 L251.0,861.4 L252.0,860.1 L253.0,858.8 L254.0,857.5 L255.0,856.1 L256.0,854.7 L257.0,853.2 L258.0,851.7 L259.0,850.2 L260.0,848.7 L261.0,847.1 L262.0,845.5 L263.0,843.9 L264.0,842.3 L265.0,840.5 L266.0,838.8 L267.0,836.9 L268.0,835.1 L269.0,833.1 L270.0,831.1 L271.0,829.1 L272.0,827.0 L273.0,824.9 L274.0,822.8 L275.0,820.6 L276.0,818.4 L277.0,816.2 L278.0,813.9 L279.0,811.6 L280.0,809.3 L281.0,807.0 L282.0,804.6 L283.0,802.2 L284.0,799.7 L285.0,797.2 L286.0,794.6 L287.0,792.0 L288.0,789.4 L289.0,786.7 L290.0,784.0 L291.0,781.3 L292.0,778.5 L293.0,775.7 L294.0,772.8 L295.0,769.9 L296.0,767.0 L297.0,764.0 L298.0,761.0 L299.0,757.9 L300.0,754.8 L301.0,751.6 L302.0,748.5 L303.0,745.2 L304.0,741.9 L305.0,738.6 L306.0,735.2 L307.0,731.8 L308.0,728.2 L309.0,724.6 L310.0,721.0 L311.0,717.2 L312.0,713.4 L313.0,709.5 L314.0,705.5 L315.0,701.5 L316.0,697.4 L317.0,693.3 L318.0,689.2 L319.0,685.1 L320.0,681.0 L321.0,676.9 L322.0,672.8 L323.0,668.7 L324.0,664.7 L325.0,660.7 L326.0,656.8 L327.0,652.9 L328.0,649.0 L329.0,645.2 L330.0,641.3 L331.0,637.5 L332.0,633.6 L333.0,629.8 L334.0,625.9 L335.0,622.0 L336.0,618.0 L337.0,614.1 L338.0,610.0 L339.0,606.0 L340.0,601.9 L341.0,597.8 L342.0,593.6 L343.0,589.4 L344.0,585.2 L345.0,581.0 L346.0,576.7 L347.0,572.5 L348.0,568.2 L349.0,564.0 L350.0,559.8 L351.0,555.5 L352.0,551.3 L353.0,547.1 L354.0,542.8 L355.0,538.6 L356.0,534.4 L357.0,530.2 L358.0,525.9 L359.0,521.6 L360.0,517.3 L361.0,512.9 L362.0,508.4 L363.0,503.9 L364.0,499.3 L365.0,494.7 L366.0,490.0 L367.0,485.2 L368.0,480.5 L369.0,475.7 L370.0,470.9 L371.0,466.1 L372.0,461.4 L373.0,456.6 L374.0,452.0 L375.0,447.4 L376.0,442.8 L377.0,438.3 L378.0,433.8 L379.0,429.3 L380.0,424.9 L381.0,420.5 L382.0,416.1 L383.0,411.8 L384.0,407.5 L385.0,403.2 L386.0,399.0 L387.0,394.8 L388.0,390.6 L389.0,386.5 L390.0,382.4 L391.0,378.3 L392.0,374.2 L393.0,370.2 L394.0,366.1 L395.0,362.0 L396.0,357.8 L397.0,353.7 L398.0,349.4 L399.0,345.1 L400.0,340.8 L401.0,336.4 L402.0,331.9 L403.0,327.5 L404.0,323.0 L405.0,318.6 L406.0,314.2 L407.0,309.9 L408.0,305.7 L409.0,301.6 L410.0,297.6 L411.0,293.8 L412.0,290.2 L413.0,286.6 L414.0,283.3 L415.0,280.0 L416.0,276.8 L417.0,274.0 L418.0,271.3 L419.0,268.1 L420.0,264.8 L421.0,261.3 L422.0,257.6 L423.0,253.2 L424.0,248.7 L425.0,245.0 L426.0,242.8 L427.0,240.8 L428.0,238.8 L429.0,236.8 L430.0,234.9 L431.0,233.3 L432.0,231.9 L433.0,230.6 L434.0,229.3 L435.0,227.9 L436.0,226.6 L437.0,225.2 L438.0,223.2 L439.0,218.6 L440.0,213.6 L441.0,208.8 L442.0,206.2 L443.0,204.6 L444.0,203.0 L445.0,201.4 L446.0,199.9 L447.0,198.3 L448.0,196.6 L449.0,195.0 L450.0,193.3 L451.0,191.6 L452.0,190.0 L453.0,188.3 L454.0,186.6 L455.0,184.7 L456.0,182.4 L457.0,180.1 L458.0,177.7 L459.0,175.2 L460.0,171.2 L461.0,164.9 L462.0,158.6 L463.0,154.9 L464.0,152.1 L465.0,149.5 L466.0,147.5 L467.0,147.7 L468.0,148.2 L469.0,148.8 L470.0,149.3 L471.0,149.8 L472.0,149.6 L473.0,143.9 L474.0,136.8 L475.0,132.0 L476.0,127.5 L477.0,123.4 L478.0,122.6 L479.0,123.2 L480.0,123.9 L481.0,124.5 L482.0,125.2 L483.0,125.9 L484.0,126.5 L485.0,126.4 L486.0,124.9 L487.0,123.3 L488.0,121.6 L489.0,119.8 L490.0,117.1 L491.0,112.1 L492.0,107.0 L493.0,104.1 L494.0,102.3 L495.0,100.5 L496.0,98.8 L497.0,97.0 L498.0,95.2 L499.0,92.6 L500.0,84.5 L501.0,77.2 L502.0,72.2 L503.0,68.7 L504.0,73.8 L505.0,82.0 L506.0,91.2 L507.0,96.0 L508.0,103.5 L509.0,110.9 L510.0,114.7 L511.0,118.0 L512.0,121.3 L513.0,124.4 L514.0,125.7 L515.0,126.2 L516.0,126.7 L517.0,127.2 L518.0,127.7 L519.0,128.3 L520.0,129.1 L521.0,131.3 L522.0,133.7 L523.0,136.1 L524.0,139.1 L525.0,145.7 L526.0,153.0 L527.0,159.4 L528.0,165.3 L529.0,169.5 L530.0,172.7 L531.0,175.9 L532.0,179.3 L533.0,183.6 L534.0,188.9 L535.0,194.7 L536.0,203.7 L537.0,215.7 L538.0,227.9 L539.0,237.3 L540.0,253.6 L541.0,275.6 L542.0,293.1 L543.0,300.5 L544.0,306.5 L545.0,312.6 L546.0,319.7 L547.0,327.6 L548.0,335.6 L549.0,343.7 L550.0,352.2 L551.0,360.8 L552.0,369.5 L553.0,378.4 L554.0,387.3 L555.0,396.1 L556.0,405.4 L557.0,414.5 L558.0,422.3 L559.0,428.5 L560.0,435.5 L561.0,443.1 L562.0,450.6 L563.0,458.2 L564.0,465.8 L565.0,473.5 L566.0,481.4 L567.0,489.3 L568.0,497.3 L569.0,505.4 L570.0,513.6 L571.0,521.7 L572.0,529.8 L573.0,537.9 L574.0,545.9 L575.0,553.8 L576.0,561.7 L577.0,569.4 L578.0,577.0 L579.0,584.6 L580.0,592.0 L581.0,599.4 L582.0,606.6 L583.0,613.7 L584.0,620.8 L585.0,627.6 L586.0,634.4 L587.0,641.0 L588.0,647.4 L589.0,653.7 L590.0,659.8 L591.0,665.8 L592.0,671.5 L593.0,677.1 L594.0,682.5 L595.0,687.8 L596.0,692.8 L597.0,697.6 L598.0,702.3 L599.0,706.7 L600.0,710.9 L601.0,714.9 L602.0,718.7 L603.0,722.4 L604.0,725.8 L605.0,729.0 L606.0,732.0 L607.0,734.9 L608.0,737.5 L609.0,740.0 L610.0,742.3 L611.0,744.5 L612.0,746.5 L613.0,748.3 L614.0,750.0 L615.0,751.5 L616.0,752.9 L617.0,754.1 L618.0,755.2 L619.0,756.2 L620.0,757.0 L621.0,757.8 L622.0,758.5 L623.0,759.1 L624.0,759.6 L625.0,760.1 L626.0,760.5 L627.0,760.8 L628.0,761.1 L629.0,761.4 L630.0,761.6 L631.0,761.7 L632.0,761.8 L633.0,761.8 L634.0,761.7 L635.0,761.6 L636.0,761.4 L637.0,761.0 L638.0,760.7 L639.0,760.2 L640.0,759.6 L641.0,759.0 L642.0,758.3 L643.0,757.5 L644.0,756.7 L645.0,755.8 L646.0,754.9 L647.0,753.9 L648.0,752.9 L649.0,751.9 L650.0,750.8 L651.0,749.7 L652.0,748.6 L653.0,747.4 L654.0,746.2 L655.0,745.0 L656.0,743.7 L657.0,742.4 L658.0,741.0 L659.0,739.6 L660.0,738.2 L661.0,736.6 L662.0,735.1 L663.0,733.4 L664.0,731.7 L665.0,730.0 L666.0,728.2 L667.0,726.3 L668.0,724.4 L669.0,722.4 L670.0,720.4 L671.0,718.3 L672.0,716.1 L673.0,713.9 L674.0,711.7 L675.0,709.5 L676.0,707.2 L677.0,704.9 L678.0,702.6 L679.0,700.3 L680.0,697.9 L681.0,695.6 L682.0,693.2 L683.0,690.8 L684.0,688.5 L685.0,686.1 L686.0,683.6 L687.0,681.2 L688.0,678.7 L689.0,676.2 L690.0,673.7 L691.0,671.1 L692.0,668.5 L693.0,665.9 L694.0,663.2 L695.0,660.5 L696.0,657.8 L697.0,655.1 L698.0,652.3 L699.0,649.5 L700.0,646.6 L701.0,643.8 L702.0,640.9 L703.0,638.0 L704.0,635.1 L705.0,632.2 L706.0,629.3 L707.0,626.4 L708.0,623.6 L709.0,620.8 L710.0,618.0 L711.0,615.2 L712.0,612.5 L713.0,609.8 L714.0,607.1 L715.0,604.4 L716.0,601.8 L717.0,599.3 L718.0,596.7 L719.0,594.2 L720.0,591.7 L721.0,589.2 L722.0,586.8 L723.0,584.3 L724.0,581.9 L725.0,579.4 L726.0,577.0 L727.0,574.5 L728.0,572.1 L729.0,569.6 L730.0,567.1 L731.0,564.5 L732.0,562.0 L733.0,559.4 L734.0,556.9 L735.0,554.3 L736.0,551.8 L737.0,549.3 L738.0,546.8 L739.0,544.3 L740.0,541.9 L741.0,539.5 L742.0,537.2 L743.0,534.9 L744.0,532.6 L745.0,530.3 L746.0,528.1 L747.0,526.0 L748.0,523.9 L749.0,521.8 L750.0,519.9 L751.0,518.0 L752.0,516.2 L753.0,514.5 L754.0,512.8 L755.0,511.3 L756.0,509.8 L757.0,508.3 L758.0,507.0 L759.0,505.7 L760.0,504.5 L761.0,503.3 L762.0,502.2 L763.0,501.2 L764.0,500.2 L765.0,499.3 L766.0,498.3 L767.0,497.5 L768.0,496.8 L769.0,496.1 L770.0,495.6 L771.0,495.1 L772.0,494.7 L773.0,494.2 L774.0,493.8 L775.0,493.5 L776.0,493.1 L777.0,492.7 L778.0,492.3 L779.0,491.9 L780.0,491.6 L781.0,491.1 L782.0,489.9 L783.0,488.3 L784.0,486.6 L785.0,484.9 L786.0,483.1 L787.0,481.5 L788.0,480.3 L789.0,479.2 L790.0,478.3 L791.0,477.6 L792.0,477.2 L793.0,476.9 L794.0,476.7 L795.0,476.4 L796.0,476.2 L797.0,476.5 L798.0,477.2 L799.0,478.1 L800.0,478.9 L801.0,479.7 L802.0,480.0 L803.0,479.9 L804.0,479.7 L805.0,479.5 L806.0,479.3 L807.0,479.1 L808.0,479.0 L809.0,478.8 L810.0,478.6 L811.0,478.5 L812.0,478.6 L813.0,478.8 L814.0,478.9 L815.0,479.0 L816.0,479.1 L817.0,479.2 L818.0,479.1 L819.0,478.9 L820.0,478.6 L821.0,478.4 L822.0,478.1 L823.0,477.9 L824.0,477.7 L825.0,477.5 L826.0,477.3 L827.0,477.1 L828.0,477.0 L829.0,476.8 L830.0,476.4 L831.0,475.9 L832.0,475.5 L833.0,475.0 L834.0,474.5 L835.0,474.1 L836.0,473.6 L837.0,473.1 L838.0,472.7 L839.0,472.2 L840.0,471.9 L841.0,472.6 L842.0,473.5 L843.0,474.4 L844.0,475.2 L845.0,476.1 L846.0,476.9 L847.0,477.6 L848.0,478.3 L849.0,479.1 L850.0,479.8 L851.0,480.5 L852.0,481.0 L853.0,481.4 L854.0,481.7 L855.0,482.0 L856.0,482.3 L857.0,482.6 L858.0,482.9 L859.0,483.2 L860.0,483.5 L861.0,483.8 L862.0,484.2 L863.0,485.5 L864.0,487.9 L865.0,490.4 L866.0,492.8 L867.0,494.7 L868.0,496.6 L869.0,498.5 L870.0,500.5 L871.0,503.8 L872.0,507.3 L873.0,510.8 L874.0,514.3 L875.0,517.8 L876.0,521.4 L877.0,525.2 L878.0,529.2 L879.0,533.2 L880.0,537.3 L881.0,541.4 L882.0,545.6 L883.0,550.0 L884.0,554.5 L885.0,559.3 L886.0,564.0 L887.0,568.8 L888.0,573.8 L889.0,578.9 L890.0,584.1 L891.0,589.4 L892.0,594.7 L893.0,600.1 L894.0,605.5 L895.0,610.9 L896.0,616.3 L897.0,621.7 L898.0,627.1 L899.0,632.5 L900.0,637.9 L901.0,643.3 L902.0,648.7 L903.0,654.2 L904.0,659.6 L905.0,665.1 L906.0,670.6 L907.0,676.1 L908.0,681.6 L909.0,687.1 L910.0,692.6 L911.0,698.0 L912.0,703.5 L913.0,708.9 L914.0,714.3 L915.0,719.7 L916.0,725.0 L917.0,730.2 L918.0,735.4 L919.0,740.6 L920.0,745.7 L921.0,750.8 L922.0,755.9 L923.0,760.9 L924.0,765.9 L925.0,770.9 L926.0,775.9 L927.0,780.8 L928.0,785.7 L929.0,790.5 L930.0,795.2 L931.0,799.8 L932.0,804.3 L933.0,808.7 L934.0,812.9 L935.0,816.9 L936.0,820.8 L937.0,824.6 L938.0,828.2 L939.0,831.6 L940.0,835.0 L941.0,838.3 L942.0,841.4 L943.0,844.6 L944.0,847.7 L945.0,850.7 L946.0,853.8 L947.0,856.8 L948.0,859.8 L949.0,862.8 L950.0,865.8 L951.0,868.8 L952.0,871.7 L953.0,874.7 L954.0,877.6 L955.0,880.5 L956.0,883.3 L957.0,886.0 L958.0,888.6 L959.0,891.2 L960.0,893.5 L961.0,895.8 L962.0,897.9 L963.0,899.8 L964.0,901.6 L965.0,903.2 L966.0,904.7 L967.0,906.1 L968.0,907.4 L969.0,908.7 L970.0,909.9 L971.0,911.1 L972.0,912.2 L973.0,913.4 L974.0,914.5 L975.0,915.7 L976.0,916.9 L977.0,918.0 L978.0,919.2 L979.0,920.4 L980.0,921.5 L981.0,922.7 L982.0,923.8 L983.0,924.9 L984.0,926.0 L985.0,927.0 L986.0,928.1 L987.0,929.0 L988.0,930.0 L989.0,930.9 L990.0,931.7 L991.0,932.6 L992.0,933.4 L993.0,934.1 L994.0,934.9 L995.0,935.6 L996.0,936.3 L997.0,937.0 L998.0,937.6 L999.0,938.3 L1000.0,938.9 L1001.0,939.4 L1002.0,940.0 L1003.0,940.5 L1004.0,941.0 L1005.0,941.4 L1006.0,941.8 L1007.0,942.1 L1008.0,942.4 L1009.0,942.7 L1010.0,943.0 L1011.0,943.2 L1012.0,943.5 L1013.0,943.7 L1014.0,943.9 L1015.0,944.1 L1016.0,944.2 L1017.0,944.4 L1018.0,944.5 L1019.0,944.7 L1020.0,944.8 L1021.0,944.9 L1022.0,945.0 L1023.0,945.1 L1024.0,945.1 L1025.0,945.2 L1026.0,945.2 L1027.0,945.2 L1028.0,945.2 L1029.0,945.2 L1030.0,945.3 L1031.0,945.3 L1032.0,945.3 L1033.0,945.3 L1034.0,945.3 L1035.0,945.3 L1036.0,945.3 L1037.0,945.3 L1038.0,945.3 L1039.0,945.3 L1040.0,945.3 L1041.0,945.3 L1042.0,945.3 L1043.0,945.3 L1044.0,945.3 L1045.0,945.3 L1046.0,945.3 L1047.0,945.3 L1048.0,945.3 L1049.0,945.3 L1050.0,945.3 L1051.0,945.3 L1052.0,945.3 L1053.0,945.3 L1054.0,945.3 L1055.0,945.3 L1056.0,945.3 L1057.0,945.3 L1058.0,945.3 L1059.0,945.3 L1060.0,945.3 L1061.0,945.3 L1062.0,945.3 L1063.0,945.3 L1064.0,945.4 L1065.0,945.4 L1066.0,945.5 L1067.0,945.5 L1068.0,945.6 L1069.0,945.7 L1070.0,945.8 L1071.0,945.9 L1072.0,946.0 L1073.0,946.1 L1074.0,946.2 L1075.0,946.4 L1076.0,946.5 L1077.0,946.6 L1078.0,946.8 L1079.0,946.9 L1080.0,947.1 L1081.0,947.2 L1082.0,947.3 L1083.0,947.5 L1084.0,947.7 L1085.0,947.8 L1086.0,948.0 L1087.0,948.2 L1088.0,948.4 L1089.0,948.6 L1090.0,948.8 L1091.0,949.1 L1092.0,949.3 L1093.0,949.6 L1094.0,949.9 L1095.0,950.2 L1096.0,950.5 L1097.0,950.8 L1098.0,951.2 L1099.0,951.5 L1100.0,951.9 L1101.0,952.2 L1102.0,952.6 L1103.0,952.9 L1104.0,953.3 L1105.0,953.6 L1106.0,954.0 L1107.0,954.4 L1108.0,954.8 L1109.0,955.1 L1110.0,955.5 L1111.0,955.9 L1112.0,956.4 L1113.0,956.8 L1114.0,957.2 L1115.0,957.7 L1116.0,958.2 L1117.0,958.7 L1118.0,959.2 L1119.0,959.7 L1120.0,960.3 L1121.0,960.8 L1122.0,961.4 L1123.0,961.9 L1124.0,962.5 L1125.0,963.1 L1126.0,963.6 L1127.0,964.2 L1128.0,964.8 L1129.0,965.4 L1130.0,965.9 L1131.0,966.5 L1132.0,967.1 L1133.0,967.7 L1134.0,968.3 L1135.0,968.9 L1136.0,969.5 L1137.0,970.1 L1138.0,970.8 L1139.0,971.4 L1140.0,972.1 L1141.0,972.8 L1142.0,973.5 L1143.0,974.1 L1144.0,974.8 L1145.0,975.5 L1146.0,976.2 L1147.0,977.0 L1148.0,977.7 L1149.0,978.4 L1150.0,979.1 L1151.0,979.8 L1152.0,980.5 L1153.0,981.2 L1154.0,982.0 L1155.0,982.7 L1156.0,983.4 L1157.0,984.2 L1158.0,984.9 L1159.0,985.6 L1160.0,986.4 L1161.0,987.2 L1162.0,987.9 L1163.0,988.7 L1164.0,989.5 L1165.0,990.3 L1166.0,991.1 L1167.0,992.0 L1168.0,992.8 L1169.0,993.6 L1170.0,994.4 L1171.0,995.3 L1172.0,996.1 L1173.0,996.9 L1174.0,997.8 L1175.0,998.6 L1176.0,999.5 L1177.0,1000.3 L1178.0,1001.2 L1179.0,1002.1 L1180.0,1003.0 L1181.0,1003.9 L1182.0,1004.8 L1183.0,1005.7 L1184.0,1006.7 L1185.0,1007.6 L1186.0,1008.6 L1187.0,1009.6 L1188.0,1010.6 L1189.0,1011.6 L1190.0,1012.6 L1191.0,1013.6 L1192.0,1014.6 L1193.0,1015.7 L1194.0,1016.8 L1195.0,1017.9 L1196.0,1019.0 L1197.0,1020.1 L1198.0,1021.3 L1199.0,1022.5 L1200.0,1023.8 L1201.0,1025.1 L1202.0,1026.4 L1203.0,1027.7 L1204.0,1029.0 L1205.0,1030.4 L1206.0,1031.8 L1207.0,1033.2 L1208.0,1034.6 L1209.0,1036.0 L1210.0,1037.5 L1211.0,1038.9 L1212.0,1040.4 L1213.0,1042.0 L1214.0,1043.5 L1215.0,1045.1 L1216.0,1046.7 L1217.0,1048.3 L1218.0,1049.9 L1219.0,1051.6 L1220.0,1053.3 L1221.0,1055.0 L1222.0,1056.7 L1223.0,1058.4 L1224.0,1060.2 L1225.0,1061.9 L1226.0,1063.6 L1227.0,1065.4 L1228.0,1067.1 L1229.0,1068.8 L1230.0,1070.5 L1231.0,1072.2 L1232.0,1073.9 L1233.0,1075.6 L1234.0,1077.3 L1235.0,1078.9 L1236.0,1080.5 L1237.0,1082.1 L1238.0,1083.7 L1239.0,1085.3 L1240.0,1086.9 L1241.0,1088.5 L1242.0,1090.1 L1243.0,1091.8 L1244.0,1093.4 L1245.0,1095.1 L1246.0,1096.8 L1247.0,1098.5 L1248.0,1100.2 L1249.0,1102.0 L1250.0,1103.8 L1251.0,1105.6 L1252.0,1107.5 L1253.0,1109.3 L1254.0,1111.2 L1255.0,1113.0 L1256.0,1114.9 L1257.0,1116.8 L1258.0,1118.6 L1259.0,1120.5 L1260.0,1122.4 L1261.0,1124.3 L1262.0,1126.2 L1263.0,1128.0 L1264.0,1129.9 L1265.0,1131.8 L1266.0,1133.7 L1267.0,1135.7 L1268.0,1137.6 L1269.0,1139.6 L1270.0,1141.6 L1271.0,1143.6 L1272.0,1145.7 L1273.0,1147.7 L1274.0,1149.9 L1275.0,1152.0 L1276.0,1154.2 L1277.0,1156.3 L1278.0,1158.5 L1279.0,1160.7 L1280.0,1162.9 L1281.0,1165.1 L1282.0,1167.2 L1283.0,1169.3 L1284.0,1171.4 L1285.0,1173.5 L1286.0,1175.5 L1287.0,1177.5 L1288.0,1179.5 L1289.0,1181.4 L1290.0,1183.3 L1291.0,1185.2 L1292.0,1187.1 L1293.0,1188.9 L1294.0,1190.8 L1295.0,1192.6 L1296.0,1194.4 L1297.0,1196.2 L1298.0,1198.0 L1299.0,1199.7 L1300.0,1201.5 L1301.0,1203.2 L1302.0,1204.9 L1303.0,1206.7 L1304.0,1208.4 L1305.0,1210.2 L1306.0,1211.9 L1307.0,1213.7 L1308.0,1215.4 L1309.0,1217.2 L1310.0,1219.0 L1311.0,1220.9 L1312.0,1222.7 L1313.0,1224.5 L1314.0,1226.3 L1315.0,1228.2 L1316.0,1230.0 L1317.0,1231.8 L1318.0,1233.6 L1319.0,1235.4 L1320.0,1237.2 L1321.0,1239.0 L1322.0,1240.7 L1323.0,1242.4 L1324.0,1244.1 L1325.0,1245.8 L1326.0,1247.4 L1327.0,1249.0 L1328.0,1250.6 L1329.0,1252.2 L1330.0,1253.8 L1331.0,1255.3 L1332.0,1256.8 L1333.0,1258.3 L1334.0,1259.8 L1335.0,1261.2 L1336.0,1262.6 L1337.0,1263.9 L1338.0,1265.2 L1339.0,1266.5 L1340.0,1267.8 L1341.0,1269.0 L1342.0,1270.2 L1343.0,1271.4 L1344.0,1272.6 L1345.0,1273.7 L1346.0,1274.8 L1347.0,1275.9 L1348.0,1276.9 L1349.0,1277.9 L1350.0,1278.9 L1351.0,1279.8 L1352.0,1280.7 L1353.0,1281.5 L1354.0,1282.3 L1355.0,1283.1 L1356.0,1283.8 L1357.0,1284.6 L1358.0,1285.3 L1359.0,1286.0 L1360.0,1286.7 L1361.0,1287.4 L1362.0,1288.1 L1363.0,1288.8 L1364.0,1289.5 L1365.0,1290.2 L1366.0,1290.9 L1367.0,1291.6 L1368.0,1292.3 L1369.0,1293.0 L1370.0,1293.7 L1371.0,1294.4 L1372.0,1295.1 L1373.0,1295.8 L1374.0,1296.5 L1375.0,1297.2 L1376.0,1297.9 L1377.0,1298.5 L1378.0,1299.2 L1379.0,1299.9 L1380.0,1300.5 L1381.0,1301.1 L1382.0,1301.7 L1383.0,1302.3 L1384.0,1302.9 L1385.0,1303.4 L1386.0,1303.9 L1387.0,1304.4 L1388.0,1304.9 L1389.0,1305.4 L1390.0,1305.9 L1391.0,1306.4 L1392.0,1306.8 L1393.0,1307.3 L1394.0,1307.8 L1395.0,1308.2 L1396.0,1308.6 L1397.0,1309.1 L1398.0,1309.5 L1399.0,1309.9 L1400.0,1310.3 L1401.0,1310.7 L1402.0,1311.1 L1403.0,1311.5 L1404.0,1311.8 L1405.0,1312.2 L1406.0,1312.5 L1407.0,1312.8 L1408.0,1313.1 L1409.0,1313.4 L1410.0,1313.7 L1411.0,1313.9 L1412.0,1314.2 L1413.0,1314.5 L1414.0,1314.8 L1415.0,1315.0 L1416.0,1315.3 L1417.0,1315.5 L1418.0,1315.8 L1419.0,1316.1 L1420.0,1316.3 L1421.0,1316.6 L1422.0,1316.9 L1423.0,1317.1 L1424.0,1317.4 L1425.0,1317.6 L1426.0,1317.9 L1427.0,1318.2 L1428.0,1318.4 L1429.0,1318.6 L1430.0,1318.9 L1431.0,1319.1 L1432.0,1319.3 L1433.0,1319.5 L1434.0,1319.8 L1435.0,1320.0 L1436.0,1320.2 L1437.0,1320.4 L1438.0,1320.6 L1439.0,1320.8 L1440.0,1320.9 L1441.0,1321.1 L1442.0,1321.3 L1443.0,1321.5 L1444.0,1321.7 L1445.0,1321.9 L1446.0,1322.1 L1447.0,1322.3 L1448.0,1322.4 L1449.0,1322.6 L1450.0,1322.8 L1451.0,1323.0 L1452.0,1323.1 L1453.0,1323.3 L1454.0,1323.4 L1455.0,1323.6 L1456.0,1323.7 L1457.0,1323.8 L1458.0,1323.9 L1459.0,1324.0 L1460.0,1324.0 L1461.0,1324.1 L1462.0,1324.1 L1463.0,1324.2 L1464.0,1324.2 L1465.0,1324.2 L1466.0,1324.2 L1467.0,1324.2 L1468.0,1324.3 L1469.0,1324.3 L1470.0,1324.3 L1471.0,1324.3 L1472.0,1324.3 L1473.0,1324.3 L1474.0,1324.4 L1475.0,1324.4 L1476.0,1324.4 L1477.0,1324.4 L1478.0,1324.4 L1479.0,1324.4 L1480.0,1324.4 L1481.0,1324.4 L1482.0,1324.4 L1483.0,1324.4 L1484.0,1324.3 L1485.0,1324.3 L1486.0,1324.3 L1487.0,1324.3 L1488.0,1324.3 L1489.0,1324.2 L1490.0,1324.2 L1491.0,1324.2 L1492.0,1324.1 L1493.0,1324.1 L1494.0,1324.1 L1495.0,1324.0 L1496.0,1324.0 L1497.0,1324.0 L1498.0,1324.0 L1499.0,1323.9 L1500.0,1323.9 L1501.0,1323.9 L1502.0,1323.8 L1503.0,1323.8 L1504.0,1323.8 L1505.0,1323.8 L1506.0,1323.7 L1507.0,1323.7 L1508.0,1323.7 L1509.0,1323.6 L1510.0,1323.6 L1511.0,1323.6 L1512.0,1323.5 L1513.0,1323.5 L1514.0,1323.5 L1515.0,1323.5 L1516.0,1323.4 L1517.0,1323.4 L1518.0,1323.4 L1519.0,1323.3 L1520.0,1323.3 L1521.0,1323.3 L1522.0,1323.2 L1523.0,1323.2 L1524.0,1323.2 L1525.0,1323.2 L1526.0,1323.1 L1527.0,1323.1 L1528.0,1323.1 L1529.0,1323.1 L1530.0,1323.1 L1531.0,1323.0 L1532.0,1323.0 L1533.0,1323.0 L1534.0,1323.0 L1535.0,1323.0 L1536.0,1323.0 L1537.0,1323.0 L1538.0,1323.0 L1539.0,1323.0 L1540.0,1323.0 L1541.0,1323.0 L1542.0,1323.0 L1543.0,1323.0 L1544.0,1323.0 L1545.0,1323.0 L1546.0,1323.0 L1547.0,1323.0 L1548.0,1323.0 L1549.0,1323.0 L1550.0,1323.0 L1551.0,1323.0 L1552.0,1323.0 L1553.0,1323.0 L1554.0,1323.0 L1555.0,1323.0 L1556.0,1322.9 L1557.0,1322.9 L1558.0,1322.9 L1559.0,1322.9 L1560.0,1322.9 L1561.0,1322.9 L1562.0,1322.9 L1563.0,1322.9 L1564.0,1322.9 L1565.0,1322.9 L1566.0,1322.9 L1567.0,1322.9 L1568.0,1322.9 L1569.0,1322.9 L1570.0,1322.9 L1571.0,1322.9 L1572.0,1322.9 L1573.0,1322.9 L1574.0,1322.9 L1575.0,1322.9 L1576.0,1322.9 L1577.0,1322.9 L1578.0,1322.9 L1579.0,1322.9 L1580.0,1322.9 L1581.0,1322.9 L1582.0,1322.9 L1583.0,1322.9 L1584.0,1322.9 L1585.0,1322.9 L1586.0,1322.9 L1587.0,1322.9 L1588.0,1322.9 L1589.0,1322.9 L1590.0,1322.9 L1591.0,1322.9 L1592.0,1322.9 L1593.0,1322.9 L1594.0,1322.9 L1595.0,1322.9 L1596.0,1322.9 L1597.0,1322.9 L1598.0,1322.9 L1599.0,1322.9 L1600.0,1322.9 L1601.0,1322.9 L1602.0,1322.9 L1603.0,1322.9 L1604.0,1322.9 L1605.0,1322.9 L1606.0,1322.9 L1607.0,1322.8 L1608.0,1322.8 L1609.0,1322.8 L1610.0,1322.8 L1611.0,1322.8 L1612.0,1322.8 L1613.0,1322.8 L1614.0,1322.8 L1615.0,1322.8 L1616.0,1322.8 L1617.0,1322.8 L1618.0,1322.8 L1619.0,1322.8 L1620.0,1322.8 L1621.0,1322.8 L1622.0,1322.8 L1623.0,1322.8 L1624.0,1322.8 L1625.0,1322.8 L1626.0,1322.8 L1627.0,1322.8 L1628.0,1322.8 L1629.0,1322.8 L1630.0,1322.8 L1631.0,1322.8 L1632.0,1322.8 L1633.0,1322.8 L1634.0,1322.8 L1635.0,1322.8 L1636.0,1322.8 L1637.0,1322.8 L1638.0,1322.8 L1639.0,1322.8 L1640.0,1322.8 L1641.0,1322.8 L1642.0,1322.8 L1643.0,1322.8 L1644.0,1322.8 L1645.0,1322.8 L1646.0,1322.8 L1647.0,1322.8 L1648.0,1322.8 L1649.0,1322.8 L1650.0,1322.8 L1651.0,1322.8 L1652.0,1322.8 L1653.0,1322.8 L1654.0,1322.8 L1655.0,1322.8 L1656.0,1322.8 L1657.0,1322.8 L1658.0,1322.7 L1659.0,1322.7 L1660.0,1322.7 L1661.0,1322.7 L1662.0,1322.7 L1663.0,1322.7 L1664.0,1322.7 L1665.0,1322.7 L1666.0,1322.7 L1667.0,1322.7 L1668.0,1322.7 L1669.0,1322.7 L1670.0,1322.7 L1671.0,1322.7 L1672.0,1322.7 L1673.0,1322.7 L1674.0,1322.7 L1675.0,1322.7 L1676.0,1322.7 L1677.0,1322.7 L1678.0,1322.7 L1679.0,1322.7 L1680.0,1322.7 L1681.0,1322.7 L1682.0,1322.7 L1683.0,1322.7 L1684.0,1322.7 L1685.0,1322.7 L1686.0,1322.7 L1687.0,1322.7 L1688.0,1322.7 L1689.0,1322.7 L1690.0,1322.7 L1691.0,1322.7 L1692.0,1322.7 L1693.0,1322.7 L1694.0,1322.7 L1695.0,1322.7 L1696.0,1322.7 L1697.0,1322.7 L1698.0,1322.7 L1699.0,1322.7 L1700.0,1322.7 L1701.0,1322.7 L1702.0,1322.7 L1703.0,1322.7 L1704.0,1322.7 L1705.0,1322.7 L1706.0,1322.7 L1707.0,1322.7 L1708.0,1322.7 L1709.0,1322.6 L1710.0,1322.6 L1711.0,1322.6 L1712.0,1322.6 L1713.0,1322.6 L1714.0,1322.6 L1715.0,1322.6 L1716.0,1322.6 L1717.0,1322.6 L1718.0,1322.6 L1719.0,1322.6 L1720.0,1322.6 L1721.0,1322.6 L1722.0,1322.6 L1723.0,1322.6 L1724.0,1322.6 L1725.0,1322.6 L1726.0,1322.6 L1727.0,1322.6 L1728.0,1322.6 L1729.0,1322.6 L1730.0,1322.6 L1731.0,1322.6 L1732.0,1322.6 L1733.0,1322.6 L1734.0,1322.6 L1735.0,1322.6 L1736.0,1322.6 L1737.0,1322.6 L1738.0,1322.6 L1739.0,1322.6 L1740.0,1322.6 L1741.0,1322.6 L1742.0,1322.6 L1743.0,1322.6 L1744.0,1322.6 L1745.0,1322.6 L1746.0,1322.6 L1747.0,1322.6 L1748.0,1322.6 L1749.0,1322.6 L1750.0,1322.6 L1751.0,1322.6 L1752.0,1322.6 L1753.0,1322.6 L1754.0,1322.6 L1755.0,1322.6 L1756.0,1322.6 L1757.0,1322.6 L1758.0,1322.6 L1759.0,1322.6 L1760.0,1322.5 L1761.0,1322.5 L1762.0,1322.5 L1763.0,1322.5 L1764.0,1322.5 L1765.0,1322.5 L1766.0,1322.5 L1767.0,1322.5 L1768.0,1322.5 L1769.0,1322.5 L1770.0,1322.5 L1771.0,1322.5 L1772.0,1322.5 L1773.0,1322.5 L1774.0,1322.5 L1775.0,1322.5 L1776.0,1322.5 L1777.0,1322.5 L1778.0,1322.5 L1779.0,1322.5 L1780.0,1322.5 L1781.0,1322.5 L1782.0,1322.5 L1783.0,1322.5 L1784.0,1322.5 L1785.0,1322.5" stroke="#C13D3A" stroke-dasharray="14.2 14.8" stroke-dashoffset="13.7"/>
<path d="M233.0,968.6 L234.0,968.0 L235.0,967.5 L236.0,966.9 L237.0,966.4 L238.0,965.8 L239.0,965.2 L240.0,964.7 L241.0,964.1 L242.0,963.6 L243.0,963.0 L244.0,962.5 L245.0,961.9 L246.0,961.3 L247.0,960.8 L248.0,960.2 L249.0,959.6 L250.0,959.0 L251.0,958.4 L252.0,957.7 L253.0,957.0 L254.0,956.3 L255.0,955.5 L256.0,954.7 L257.0,953.8 L258.0,952.9 L259.0,951.9 L260.0,950.9 L261.0,949.8 L262.0,948.6 L263.0,947.4 L264.0,946.2 L265.0,945.0 L266.0,943.7 L267.0,942.4 L268.0,941.0 L269.0,939.6 L270.0,938.2 L271.0,936.8 L272.0,935.3 L273.0,933.8 L274.0,932.3 L275.0,930.7 L276.0,929.1 L277.0,927.5 L278.0,925.9 L279.0,924.2 L280.0,922.5 L281.0,920.8 L282.0,919.1 L283.0,917.3 L284.0,915.5 L285.0,913.6 L286.0,911.8 L287.0,909.9 L288.0,907.9 L289.0,906.0 L290.0,904.0 L291.0,902.0 L292.0,900.0 L293.0,897.9 L294.0,895.8 L295.0,893.7 L296.0,891.5 L297.0,889.3 L298.0,887.0 L299.0,884.8 L300.0,882.4 L301.0,880.1 L302.0,877.7 L303.0,875.3 L304.0,872.8 L305.0,870.4 L306.0,867.9 L307.0,865.4 L308.0,862.9 L309.0,860.3 L310.0,857.8 L311.0,855.2 L312.0,852.7 L313.0,850.1 L314.0,847.4 L315.0,844.8 L316.0,842.1 L317.0,839.4 L318.0,836.7 L319.0,834.0 L320.0,831.2 L321.0,828.4 L322.0,825.5 L323.0,822.6 L324.0,819.6 L325.0,816.6 L326.0,813.5 L327.0,810.3 L328.0,807.0 L329.0,803.6 L330.0,800.2 L331.0,796.7 L332.0,793.2 L333.0,789.6 L334.0,786.0 L335.0,782.3 L336.0,778.7 L337.0,775.0 L338.0,771.4 L339.0,767.7 L340.0,764.1 L341.0,760.5 L342.0,757.0 L343.0,753.4 L344.0,749.8 L345.0,746.3 L346.0,742.7 L347.0,739.2 L348.0,735.6 L349.0,731.9 L350.0,728.2 L351.0,724.5 L352.0,720.7 L353.0,716.8 L354.0,712.9 L355.0,708.9 L356.0,704.8 L357.0,700.7 L358.0,696.5 L359.0,692.4 L360.0,688.1 L361.0,683.9 L362.0,679.7 L363.0,675.4 L364.0,671.1 L365.0,666.9 L366.0,662.6 L367.0,658.3 L368.0,654.1 L369.0,649.8 L370.0,645.5 L371.0,641.3 L372.0,637.0 L373.0,632.7 L374.0,628.3 L375.0,624.0 L376.0,619.6 L377.0,615.3 L378.0,610.9 L379.0,606.4 L380.0,602.0 L381.0,597.5 L382.0,593.1 L383.0,588.7 L384.0,584.2 L385.0,579.9 L386.0,575.5 L387.0,571.2 L388.0,567.0 L389.0,562.9 L390.0,558.8 L391.0,554.8 L392.0,550.8 L393.0,546.9 L394.0,543.0 L395.0,539.2 L396.0,535.3 L397.0,531.5 L398.0,527.7 L399.0,523.9 L400.0,520.0 L401.0,516.2 L402.0,512.3 L403.0,508.4 L404.0,504.5 L405.0,500.7 L406.0,496.8 L407.0,492.9 L408.0,489.0 L409.0,485.0 L410.0,481.1 L411.0,477.1 L412.0,473.1 L413.0,469.1 L414.0,465.0 L415.0,460.9 L416.0,456.8 L417.0,452.7 L418.0,448.6 L419.0,444.4 L420.0,440.3 L421.0,436.2 L422.0,432.1 L423.0,428.1 L424.0,424.1 L425.0,420.2 L426.0,416.4 L427.0,412.6 L428.0,408.9 L429.0,405.2 L430.0,401.6 L431.0,398.0 L432.0,394.5 L433.0,390.9 L434.0,387.4 L435.0,383.9 L436.0,380.5 L437.0,377.0 L438.0,373.5 L439.0,370.0 L440.0,366.5 L441.0,363.0 L442.0,359.5 L443.0,356.2 L444.0,352.9 L445.0,349.7 L446.0,346.5 L447.0,343.3 L448.0,340.1 L449.0,336.9 L450.0,333.7 L451.0,331.0 L452.0,328.4 L453.0,325.8 L454.0,323.2 L455.0,320.6 L456.0,318.0 L457.0,315.3 L458.0,312.7 L459.0,310.1 L460.0,307.5 L461.0,305.0 L462.0,302.9 L463.0,301.0 L464.0,299.0 L465.0,297.0 L466.0,295.0 L467.0,293.0 L468.0,291.0 L469.0,289.2 L470.0,287.7 L471.0,286.3 L472.0,284.9 L473.0,283.5 L474.0,282.1 L475.0,280.7 L476.0,279.3 L477.0,277.8 L478.0,275.3 L479.0,272.3 L480.0,269.3 L481.0,266.3 L482.0,263.2 L483.0,259.5 L484.0,255.5 L485.0,251.6 L486.0,248.5 L487.0,246.4 L488.0,244.4 L489.0,242.4 L490.0,240.3 L491.0,238.2 L492.0,235.8 L493.0,233.4 L494.0,231.0 L495.0,228.9 L496.0,227.4 L497.0,226.0 L498.0,224.6 L499.0,223.4 L500.0,223.5 L501.0,223.7 L502.0,224.0 L503.0,224.2 L504.0,224.5 L505.0,224.7 L506.0,225.0 L507.0,225.2 L508.0,225.5 L509.0,225.7 L510.0,225.4 L511.0,225.1 L512.0,224.8 L513.0,224.4 L514.0,224.0 L515.0,222.9 L516.0,221.8 L517.0,220.6 L518.0,219.5 L519.0,218.3 L520.0,217.2 L521.0,216.1 L522.0,214.9 L523.0,213.8 L524.0,212.7 L525.0,211.6 L526.0,210.5 L527.0,209.2 L528.0,207.7 L529.0,206.3 L530.0,205.8 L531.0,210.2 L532.0,215.4 L533.0,222.6 L534.0,231.0 L535.0,237.1 L536.0,242.4 L537.0,247.2 L538.0,251.3 L539.0,255.3 L540.0,259.5 L541.0,264.7 L542.0,269.9 L543.0,274.0 L544.0,277.2 L545.0,280.2 L546.0,283.5 L547.0,287.4 L548.0,293.0 L549.0,299.7 L550.0,306.3 L551.0,312.7 L552.0,318.7 L553.0,324.4 L554.0,330.3 L555.0,336.5 L556.0,342.9 L557.0,349.6 L558.0,356.5 L559.0,363.6 L560.0,371.0 L561.0,378.6 L562.0,386.4 L563.0,394.4 L564.0,402.4 L565.0,410.4 L566.0,418.4 L567.0,426.3 L568.0,434.2 L569.0,441.9 L570.0,449.6 L571.0,457.2 L572.0,464.7 L573.0,472.1 L574.0,479.5 L575.0,486.9 L576.0,494.2 L577.0,501.5 L578.0,508.8 L579.0,516.0 L580.0,523.2 L581.0,530.3 L582.0,537.4 L583.0,544.4 L584.0,551.4 L585.0,558.3 L586.0,565.2 L587.0,572.1 L588.0,578.8 L589.0,585.6 L590.0,592.3 L591.0,599.0 L592.0,605.6 L593.0,612.2 L594.0,618.7 L595.0,625.2 L596.0,631.6 L597.0,637.9 L598.0,644.0 L599.0,650.1 L600.0,656.0 L601.0,661.8 L602.0,667.4 L603.0,672.8 L604.0,678.0 L605.0,683.0 L606.0,687.9 L607.0,692.6 L608.0,697.1 L609.0,701.4 L610.0,705.5 L611.0,709.5 L612.0,713.4 L613.0,717.1 L614.0,720.7 L615.0,724.1 L616.0,727.5 L617.0,730.7 L618.0,733.9 L619.0,736.9 L620.0,739.9 L621.0,742.8 L622.0,745.6 L623.0,748.3 L624.0,751.0 L625.0,753.6 L626.0,756.1 L627.0,758.6 L628.0,761.0 L629.0,763.4 L630.0,765.6 L631.0,767.8 L632.0,769.8 L633.0,771.8 L634.0,773.6 L635.0,775.4 L636.0,777.0 L637.0,778.5 L638.0,779.9 L639.0,781.2 L640.0,782.4 L641.0,783.6 L642.0,784.6 L643.0,785.6 L644.0,786.5 L645.0,787.3 L646.0,788.0 L647.0,788.6 L648.0,789.1 L649.0,789.6 L650.0,789.9 L651.0,790.2 L652.0,790.3 L653.0,790.4 L654.0,790.5 L655.0,790.4 L656.0,790.3 L657.0,790.2 L658.0,790.0 L659.0,789.8 L660.0,789.5 L661.0,789.2 L662.0,788.9 L663.0,788.5 L664.0,788.0 L665.0,787.5 L666.0,787.0 L667.0,786.5 L668.0,785.9 L669.0,785.2 L670.0,784.6 L671.0,783.9 L672.0,783.1 L673.0,782.3 L674.0,781.5 L675.0,780.6 L676.0,779.7 L677.0,778.7 L678.0,777.7 L679.0,776.7 L680.0,775.6 L681.0,774.5 L682.0,773.3 L683.0,772.1 L684.0,770.9 L685.0,769.6 L686.0,768.4 L687.0,767.0 L688.0,765.6 L689.0,764.2 L690.0,762.7 L691.0,761.0 L692.0,759.4 L693.0,757.6 L694.0,755.7 L695.0,753.8 L696.0,751.8 L697.0,749.7 L698.0,747.6 L699.0,745.4 L700.0,743.2 L701.0,741.0 L702.0,738.7 L703.0,736.4 L704.0,734.1 L705.0,731.7 L706.0,729.4 L707.0,727.0 L708.0,724.5 L709.0,722.1 L710.0,719.7 L711.0,717.2 L712.0,714.7 L713.0,712.2 L714.0,709.8 L715.0,707.3 L716.0,704.8 L717.0,702.3 L718.0,699.8 L719.0,697.3 L720.0,694.8 L721.0,692.3 L722.0,689.8 L723.0,687.3 L724.0,684.8 L725.0,682.3 L726.0,679.8 L727.0,677.3 L728.0,674.9 L729.0,672.4 L730.0,670.0 L731.0,667.5 L732.0,665.1 L733.0,662.7 L734.0,660.3 L735.0,657.8 L736.0,655.4 L737.0,653.0 L738.0,650.6 L739.0,648.2 L740.0,645.8 L741.0,643.3 L742.0,640.8 L743.0,638.3 L744.0,635.8 L745.0,633.3 L746.0,630.8 L747.0,628.3 L748.0,625.9 L749.0,623.5 L750.0,621.1 L751.0,618.8 L752.0,616.5 L753.0,614.3 L754.0,612.2 L755.0,610.2 L756.0,608.2 L757.0,606.3 L758.0,604.4 L759.0,602.6 L760.0,600.8 L761.0,599.0 L762.0,597.3 L763.0,595.6 L764.0,593.9 L765.0,592.3 L766.0,590.7 L767.0,589.0 L768.0,587.5 L769.0,585.9 L770.0,584.4 L771.0,582.8 L772.0,581.3 L773.0,579.9 L774.0,578.4 L775.0,577.0 L776.0,575.6 L777.0,574.3 L778.0,573.0 L779.0,571.7 L780.0,570.5 L781.0,569.3 L782.0,568.1 L783.0,567.0 L784.0,566.0 L785.0,564.9 L786.0,564.0 L787.0,563.0 L788.0,562.1 L789.0,561.3 L790.0,560.5 L791.0,559.7 L792.0,559.0 L793.0,558.4 L794.0,557.9 L795.0,557.4 L796.0,556.9 L797.0,556.5 L798.0,556.1 L799.0,555.8 L800.0,555.4 L801.0,555.1 L802.0,554.8 L803.0,554.4 L804.0,554.1 L805.0,553.8 L806.0,553.4 L807.0,553.0 L808.0,552.6 L809.0,552.2 L810.0,551.7 L811.0,551.3 L812.0,550.8 L813.0,550.3 L814.0,549.8 L815.0,549.3 L816.0,548.9 L817.0,548.4 L818.0,547.9 L819.0,547.4 L820.0,547.0 L821.0,546.5 L822.0,546.1 L823.0,545.6 L824.0,545.2 L825.0,544.8 L826.0,544.4 L827.0,544.0 L828.0,543.6 L829.0,543.2 L830.0,542.9 L831.0,542.5 L832.0,542.2 L833.0,541.9 L834.0,541.6 L835.0,541.3 L836.0,541.1 L837.0,540.9 L838.0,540.7 L839.0,540.5 L840.0,540.3 L841.0,540.2 L842.0,540.0 L843.0,539.9 L844.0,539.8 L845.0,539.7 L846.0,539.6 L847.0,539.6 L848.0,539.5 L849.0,539.5 L850.0,539.5 L851.0,539.5 L852.0,539.6 L853.0,539.6 L854.0,539.8 L855.0,539.9 L856.0,540.2 L857.0,540.4 L858.0,540.7 L859.0,541.1 L860.0,541.5 L861.0,542.0 L862.0,542.5 L863.0,543.0 L864.0,543.6 L865.0,544.2 L866.0,544.9 L867.0,545.6 L868.0,546.3 L869.0,547.1 L870.0,547.9 L871.0,548.8 L872.0,549.7 L873.0,550.7 L874.0,551.8 L875.0,552.9 L876.0,554.1 L877.0,555.4 L878.0,556.7 L879.0,558.2 L880.0,559.8 L881.0,561.5 L882.0,563.4 L883.0,565.3 L884.0,567.3 L885.0,569.4 L886.0,571.6 L887.0,573.9 L888.0,576.2 L889.0,578.5 L890.0,581.0 L891.0,583.5 L892.0,586.0 L893.0,588.6 L894.0,591.2 L895.0,593.9 L896.0,596.7 L897.0,599.6 L898.0,602.5 L899.0,605.4 L900.0,608.5 L901.0,611.6 L902.0,614.7 L903.0,617.9 L904.0,621.2 L905.0,624.6 L906.0,628.0 L907.0,631.6 L908.0,635.2 L909.0,639.0 L910.0,642.9 L911.0,646.9 L912.0,651.0 L913.0,655.2 L914.0,659.5 L915.0,663.8 L916.0,668.1 L917.0,672.5 L918.0,676.9 L919.0,681.2 L920.0,685.5 L921.0,689.8 L922.0,694.1 L923.0,698.3 L924.0,702.4 L925.0,706.6 L926.0,710.7 L927.0,714.7 L928.0,718.8 L929.0,722.8 L930.0,726.8 L931.0,730.8 L932.0,734.8 L933.0,738.9 L934.0,742.9 L935.0,746.9 L936.0,750.8 L937.0,754.8 L938.0,758.8 L939.0,762.8 L940.0,766.8 L941.0,770.7 L942.0,774.7 L943.0,778.6 L944.0,782.5 L945.0,786.4 L946.0,790.2 L947.0,794.0 L948.0,797.8 L949.0,801.5 L950.0,805.2 L951.0,808.8 L952.0,812.4 L953.0,815.9 L954.0,819.4 L955.0,822.8 L956.0,826.2 L957.0,829.5 L958.0,832.8 L959.0,836.0 L960.0,839.1 L961.0,842.1 L962.0,845.1 L963.0,847.9 L964.0,850.7 L965.0,853.4 L966.0,856.0 L967.0,858.6 L968.0,861.0 L969.0,863.4 L970.0,865.7 L971.0,867.9 L972.0,870.1 L973.0,872.2 L974.0,874.3 L975.0,876.3 L976.0,878.2 L977.0,880.2 L978.0,882.1 L979.0,884.0 L980.0,885.9 L981.0,887.7 L982.0,889.6 L983.0,891.4 L984.0,893.2 L985.0,895.0 L986.0,896.7 L987.0,898.3 L988.0,899.9 L989.0,901.5 L990.0,902.9 L991.0,904.4 L992.0,905.7 L993.0,907.0 L994.0,908.3 L995.0,909.6 L996.0,910.7 L997.0,911.9 L998.0,913.0 L999.0,914.0 L1000.0,915.0 L1001.0,915.9 L1002.0,916.8 L1003.0,917.6 L1004.0,918.4 L1005.0,919.1 L1006.0,919.8 L1007.0,920.5 L1008.0,921.2 L1009.0,921.8 L1010.0,922.4 L1011.0,923.0 L1012.0,923.5 L1013.0,924.1 L1014.0,924.6 L1015.0,925.1 L1016.0,925.6 L1017.0,926.0 L1018.0,926.5 L1019.0,926.8 L1020.0,927.2 L1021.0,927.6 L1022.0,927.9 L1023.0,928.2 L1024.0,928.5 L1025.0,928.7 L1026.0,929.0 L1027.0,929.3 L1028.0,929.5 L1029.0,929.8 L1030.0,930.0 L1031.0,930.3 L1032.0,930.5 L1033.0,930.7 L1034.0,931.0 L1035.0,931.2 L1036.0,931.4 L1037.0,931.6 L1038.0,931.8 L1039.0,932.0 L1040.0,932.1 L1041.0,932.3 L1042.0,932.5 L1043.0,932.6 L1044.0,932.8 L1045.0,933.0 L1046.0,933.1 L1047.0,933.2 L1048.0,933.4 L1049.0,933.5 L1050.0,933.7 L1051.0,933.8 L1052.0,934.0 L1053.0,934.1 L1054.0,934.2 L1055.0,934.4 L1056.0,934.5 L1057.0,934.6 L1058.0,934.8 L1059.0,934.9 L1060.0,935.0 L1061.0,935.1 L1062.0,935.2 L1063.0,935.3 L1064.0,935.4 L1065.0,935.5 L1066.0,935.6 L1067.0,935.7 L1068.0,935.8 L1069.0,935.9 L1070.0,936.0 L1071.0,936.1 L1072.0,936.2 L1073.0,936.2 L1074.0,936.3 L1075.0,936.4 L1076.0,936.5 L1077.0,936.6 L1078.0,936.7 L1079.0,936.8 L1080.0,937.0 L1081.0,937.1 L1082.0,937.2 L1083.0,937.3 L1084.0,937.5 L1085.0,937.6 L1086.0,937.8 L1087.0,937.9 L1088.0,938.1 L1089.0,938.3 L1090.0,938.4 L1091.0,938.6 L1092.0,938.8 L1093.0,938.9 L1094.0,939.1 L1095.0,939.3 L1096.0,939.5 L1097.0,939.7 L1098.0,939.9 L1099.0,940.1 L1100.0,940.3 L1101.0,940.6 L1102.0,940.8 L1103.0,941.1 L1104.0,941.4 L1105.0,941.7 L1106.0,942.0 L1107.0,942.3 L1108.0,942.6 L1109.0,942.9 L1110.0,943.3 L1111.0,943.6 L1112.0,943.9 L1113.0,944.3 L1114.0,944.6 L1115.0,945.0 L1116.0,945.3 L1117.0,945.7 L1118.0,946.1 L1119.0,946.5 L1120.0,946.9 L1121.0,947.4 L1122.0,947.8 L1123.0,948.3 L1124.0,948.8 L1125.0,949.3 L1126.0,949.9 L1127.0,950.4 L1128.0,950.9 L1129.0,951.5 L1130.0,952.1 L1131.0,952.6 L1132.0,953.2 L1133.0,953.8 L1134.0,954.3 L1135.0,954.9 L1136.0,955.5 L1137.0,956.1 L1138.0,956.7 L1139.0,957.3 L1140.0,957.9 L1141.0,958.5 L1142.0,959.2 L1143.0,959.8 L1144.0,960.5 L1145.0,961.2 L1146.0,961.9 L1147.0,962.7 L1148.0,963.4 L1149.0,964.2 L1150.0,965.0 L1151.0,965.8 L1152.0,966.6 L1153.0,967.4 L1154.0,968.3 L1155.0,969.1 L1156.0,969.9 L1157.0,970.8 L1158.0,971.6 L1159.0,972.4 L1160.0,973.2 L1161.0,974.1 L1162.0,974.9 L1163.0,975.7 L1164.0,976.5 L1165.0,977.3 L1166.0,978.2 L1167.0,979.0 L1168.0,979.8 L1169.0,980.6 L1170.0,981.4 L1171.0,982.2 L1172.0,983.0 L1173.0,983.8 L1174.0,984.6 L1175.0,985.5 L1176.0,986.3 L1177.0,987.1 L1178.0,988.0 L1179.0,988.8 L1180.0,989.7 L1181.0,990.6 L1182.0,991.5 L1183.0,992.4 L1184.0,993.3 L1185.0,994.3 L1186.0,995.2 L1187.0,996.2 L1188.0,997.2 L1189.0,998.2 L1190.0,999.2 L1191.0,1000.2 L1192.0,1001.2 L1193.0,1002.2 L1194.0,1003.3 L1195.0,1004.3 L1196.0,1005.4 L1197.0,1006.4 L1198.0,1007.5 L1199.0,1008.6 L1200.0,1009.8 L1201.0,1010.9 L1202.0,1012.1 L1203.0,1013.2 L1204.0,1014.4 L1205.0,1015.6 L1206.0,1016.8 L1207.0,1018.0 L1208.0,1019.2 L1209.0,1020.4 L1210.0,1021.6 L1211.0,1022.8 L1212.0,1024.0 L1213.0,1025.2 L1214.0,1026.4 L1215.0,1027.6 L1216.0,1028.9 L1217.0,1030.1 L1218.0,1031.4 L1219.0,1032.6 L1220.0,1033.9 L1221.0,1035.1 L1222.0,1036.4 L1223.0,1037.7 L1224.0,1039.1 L1225.0,1040.4 L1226.0,1041.8 L1227.0,1043.3 L1228.0,1044.8 L1229.0,1046.3 L1230.0,1047.9 L1231.0,1049.5 L1232.0,1051.1 L1233.0,1052.9 L1234.0,1054.7 L1235.0,1056.6 L1236.0,1058.5 L1237.0,1060.6 L1238.0,1062.8 L1239.0,1065.1 L1240.0,1067.6 L1241.0,1070.2 L1242.0,1072.9 L1243.0,1075.7 L1244.0,1078.6 L1245.0,1081.5 L1246.0,1084.4 L1247.0,1087.3 L1248.0,1090.1 L1249.0,1092.8 L1250.0,1095.3 L1251.0,1097.7 L1252.0,1100.0 L1253.0,1102.1 L1254.0,1104.1 L1255.0,1106.0 L1256.0,1107.8 L1257.0,1109.5 L1258.0,1111.2 L1259.0,1112.9 L1260.0,1114.5 L1261.0,1116.1 L1262.0,1117.7 L1263.0,1119.3 L1264.0,1120.9 L1265.0,1122.6 L1266.0,1124.2 L1267.0,1125.9 L1268.0,1127.5 L1269.0,1129.2 L1270.0,1130.9 L1271.0,1132.6 L1272.0,1134.4 L1273.0,1136.1 L1274.0,1137.9 L1275.0,1139.6 L1276.0,1141.4 L1277.0,1143.2 L1278.0,1145.0 L1279.0,1146.8 L1280.0,1148.6 L1281.0,1150.4 L1282.0,1152.2 L1283.0,1154.1 L1284.0,1155.9 L1285.0,1157.7 L1286.0,1159.6 L1287.0,1161.4 L1288.0,1163.2 L1289.0,1165.1 L1290.0,1167.0 L1291.0,1168.8 L1292.0,1170.7 L1293.0,1172.6 L1294.0,1174.4 L1295.0,1176.3 L1296.0,1178.2 L1297.0,1180.1 L1298.0,1181.9 L1299.0,1183.8 L1300.0,1185.7 L1301.0,1187.6 L1302.0,1189.4 L1303.0,1191.3 L1304.0,1193.2 L1305.0,1195.1 L1306.0,1196.9 L1307.0,1198.8 L1308.0,1200.6 L1309.0,1202.4 L1310.0,1204.3 L1311.0,1206.0 L1312.0,1207.8 L1313.0,1209.5 L1314.0,1211.2 L1315.0,1212.9 L1316.0,1214.6 L1317.0,1216.2 L1318.0,1217.8 L1319.0,1219.4 L1320.0,1221.0 L1321.0,1222.6 L1322.0,1224.1 L1323.0,1225.7 L1324.0,1227.2 L1325.0,1228.7 L1326.0,1230.2 L1327.0,1231.7 L1328.0,1233.2 L1329.0,1234.7 L1330.0,1236.1 L1331.0,1237.5 L1332.0,1238.9 L1333.0,1240.4 L1334.0,1241.7 L1335.0,1243.1 L1336.0,1244.5 L1337.0,1245.8 L1338.0,1247.2 L1339.0,1248.5 L1340.0,1249.8 L1341.0,1251.1 L1342.0,1252.4 L1343.0,1253.6 L1344.0,1254.8 L1345.0,1256.0 L1346.0,1257.1 L1347.0,1258.3 L1348.0,1259.4 L1349.0,1260.5 L1350.0,1261.7 L1351.0,1262.8 L1352.0,1264.0 L1353.0,1265.3 L1354.0,1266.6 L1355.0,1267.9 L1356.0,1269.4 L1357.0,1270.9 L1358.0,1272.4 L1359.0,1274.0 L1360.0,1275.5 L1361.0,1277.1 L1362.0,1278.6 L1363.0,1280.0 L1364.0,1281.4 L1365.0,1282.7 L1366.0,1283.9 L1367.0,1285.1 L1368.0,1286.1 L1369.0,1287.1 L1370.0,1288.1 L1371.0,1289.0 L1372.0,1289.9 L1373.0,1290.7 L1374.0,1291.6 L1375.0,1292.4 L1376.0,1293.2 L1377.0,1294.0 L1378.0,1294.8 L1379.0,1295.6 L1380.0,1296.3 L1381.0,1297.1 L1382.0,1297.8 L1383.0,1298.5 L1384.0,1299.2 L1385.0,1299.8 L1386.0,1300.5 L1387.0,1301.1 L1388.0,1301.7 L1389.0,1302.3 L1390.0,1302.9 L1391.0,1303.5 L1392.0,1304.1 L1393.0,1304.7 L1394.0,1305.3 L1395.0,1305.8 L1396.0,1306.4 L1397.0,1306.9 L1398.0,1307.5 L1399.0,1308.0 L1400.0,1308.5 L1401.0,1309.0 L1402.0,1309.4 L1403.0,1309.9 L1404.0,1310.3 L1405.0,1310.7 L1406.0,1311.1 L1407.0,1311.5 L1408.0,1311.8 L1409.0,1312.1 L1410.0,1312.5 L1411.0,1312.8 L1412.0,1313.1 L1413.0,1313.4 L1414.0,1313.8 L1415.0,1314.1 L1416.0,1314.4 L1417.0,1314.7 L1418.0,1315.0 L1419.0,1315.3 L1420.0,1315.6 L1421.0,1315.9 L1422.0,1316.2 L1423.0,1316.5 L1424.0,1316.8 L1425.0,1317.1 L1426.0,1317.4 L1427.0,1317.6 L1428.0,1317.8 L1429.0,1318.1 L1430.0,1318.3 L1431.0,1318.5 L1432.0,1318.6 L1433.0,1318.8 L1434.0,1319.0 L1435.0,1319.1 L1436.0,1319.2 L1437.0,1319.4 L1438.0,1319.5 L1439.0,1319.6 L1440.0,1319.8 L1441.0,1319.9 L1442.0,1320.0 L1443.0,1320.1 L1444.0,1320.2 L1445.0,1320.4 L1446.0,1320.5 L1447.0,1320.6 L1448.0,1320.7 L1449.0,1320.8 L1450.0,1321.0 L1451.0,1321.1 L1452.0,1321.2 L1453.0,1321.3 L1454.0,1321.4 L1455.0,1321.5 L1456.0,1321.7 L1457.0,1321.8 L1458.0,1321.9 L1459.0,1322.0 L1460.0,1322.0 L1461.0,1322.1 L1462.0,1322.2 L1463.0,1322.3 L1464.0,1322.3 L1465.0,1322.3 L1466.0,1322.4 L1467.0,1322.4 L1468.0,1322.4 L1469.0,1322.4 L1470.0,1322.5 L1471.0,1322.5 L1472.0,1322.5 L1473.0,1322.5 L1474.0,1322.5 L1475.0,1322.5 L1476.0,1322.5 L1477.0,1322.5 L1478.0,1322.5 L1479.0,1322.5 L1480.0,1322.5 L1481.0,1322.5 L1482.0,1322.4 L1483.0,1322.4 L1484.0,1322.4 L1485.0,1322.4 L1486.0,1322.4 L1487.0,1322.4 L1488.0,1322.4 L1489.0,1322.3 L1490.0,1322.3 L1491.0,1322.3 L1492.0,1322.3 L1493.0,1322.3 L1494.0,1322.3 L1495.0,1322.2 L1496.0,1322.2 L1497.0,1322.2 L1498.0,1322.2 L1499.0,1322.2 L1500.0,1322.2 L1501.0,1322.2 L1502.0,1322.1 L1503.0,1322.1 L1504.0,1322.1 L1505.0,1322.1 L1506.0,1322.1 L1507.0,1322.1 L1508.0,1322.0 L1509.0,1322.0 L1510.0,1322.0 L1511.0,1322.0 L1512.0,1322.0 L1513.0,1322.0 L1514.0,1321.9 L1515.0,1321.9 L1516.0,1321.9 L1517.0,1321.9 L1518.0,1321.9 L1519.0,1321.8 L1520.0,1321.8 L1521.0,1321.8 L1522.0,1321.8 L1523.0,1321.8 L1524.0,1321.8 L1525.0,1321.8 L1526.0,1321.7 L1527.0,1321.7 L1528.0,1321.7 L1529.0,1321.7 L1530.0,1321.7 L1531.0,1321.7 L1532.0,1321.6 L1533.0,1321.6 L1534.0,1321.6 L1535.0,1321.6 L1536.0,1321.6 L1537.0,1321.6 L1538.0,1321.6 L1539.0,1321.5 L1540.0,1321.5 L1541.0,1321.5 L1542.0,1321.5 L1543.0,1321.5 L1544.0,1321.5 L1545.0,1321.5 L1546.0,1321.5 L1547.0,1321.5 L1548.0,1321.5 L1549.0,1321.5 L1550.0,1321.5 L1551.0,1321.5 L1552.0,1321.5 L1553.0,1321.5 L1554.0,1321.5 L1555.0,1321.5 L1556.0,1321.5 L1557.0,1321.5 L1558.0,1321.5 L1559.0,1321.5 L1560.0,1321.5 L1561.0,1321.5 L1562.0,1321.5 L1563.0,1321.5 L1564.0,1321.5 L1565.0,1321.5 L1566.0,1321.5 L1567.0,1321.5 L1568.0,1321.5 L1569.0,1321.5 L1570.0,1321.5 L1571.0,1321.5 L1572.0,1321.5 L1573.0,1321.5 L1574.0,1321.5 L1575.0,1321.5 L1576.0,1321.5 L1577.0,1321.5 L1578.0,1321.5 L1579.0,1321.5 L1580.0,1321.5 L1581.0,1321.5 L1582.0,1321.5 L1583.0,1321.5 L1584.0,1321.5 L1585.0,1321.5 L1586.0,1321.5 L1587.0,1321.5 L1588.0,1321.5 L1589.0,1321.5 L1590.0,1321.5 L1591.0,1321.5 L1592.0,1321.5 L1593.0,1321.5 L1594.0,1321.5 L1595.0,1321.5 L1596.0,1321.5 L1597.0,1321.5 L1598.0,1321.5 L1599.0,1321.5 L1600.0,1321.5 L1601.0,1321.5 L1602.0,1321.4 L1603.0,1321.4 L1604.0,1321.4 L1605.0,1321.4 L1606.0,1321.4 L1607.0,1321.4 L1608.0,1321.4 L1609.0,1321.4 L1610.0,1321.4 L1611.0,1321.4 L1612.0,1321.4 L1613.0,1321.4 L1614.0,1321.4 L1615.0,1321.4 L1616.0,1321.4 L1617.0,1321.4 L1618.0,1321.4 L1619.0,1321.4 L1620.0,1321.4 L1621.0,1321.4 L1622.0,1321.4 L1623.0,1321.4 L1624.0,1321.4 L1625.0,1321.4 L1626.0,1321.4 L1627.0,1321.4 L1628.0,1321.4 L1629.0,1321.4 L1630.0,1321.4 L1631.0,1321.4 L1632.0,1321.4 L1633.0,1321.4 L1634.0,1321.4 L1635.0,1321.4 L1636.0,1321.4 L1637.0,1321.4 L1638.0,1321.4 L1639.0,1321.4 L1640.0,1321.4 L1641.0,1321.4 L1642.0,1321.4 L1643.0,1321.4 L1644.0,1321.4 L1645.0,1321.4 L1646.0,1321.4 L1647.0,1321.4 L1648.0,1321.4 L1649.0,1321.4 L1650.0,1321.4 L1651.0,1321.4 L1652.0,1321.4 L1653.0,1321.4 L1654.0,1321.4 L1655.0,1321.4 L1656.0,1321.4 L1657.0,1321.4 L1658.0,1321.4 L1659.0,1321.4 L1660.0,1321.4 L1661.0,1321.4 L1662.0,1321.4 L1663.0,1321.4 L1664.0,1321.4 L1665.0,1321.4 L1666.0,1321.4 L1667.0,1321.4 L1668.0,1321.4 L1669.0,1321.4 L1670.0,1321.4 L1671.0,1321.4 L1672.0,1321.4 L1673.0,1321.4 L1674.0,1321.4 L1675.0,1321.4 L1676.0,1321.4 L1677.0,1321.4 L1678.0,1321.4 L1679.0,1321.4 L1680.0,1321.4 L1681.0,1321.4 L1682.0,1321.4 L1683.0,1321.4 L1684.0,1321.4 L1685.0,1321.4 L1686.0,1321.4 L1687.0,1321.4 L1688.0,1321.4 L1689.0,1321.4 L1690.0,1321.4 L1691.0,1321.4 L1692.0,1321.4 L1693.0,1321.4 L1694.0,1321.4 L1695.0,1321.4 L1696.0,1321.4 L1697.0,1321.4 L1698.0,1321.4 L1699.0,1321.4 L1700.0,1321.4 L1701.0,1321.4 L1702.0,1321.4 L1703.0,1321.4 L1704.0,1321.4 L1705.0,1321.4 L1706.0,1321.4 L1707.0,1321.4 L1708.0,1321.4 L1709.0,1321.4 L1710.0,1321.4 L1711.0,1321.4 L1712.0,1321.4 L1713.0,1321.4 L1714.0,1321.4 L1715.0,1321.4 L1716.0,1321.4 L1717.0,1321.4 L1718.0,1321.4 L1719.0,1321.4 L1720.0,1321.4 L1721.0,1321.4 L1722.0,1321.4 L1723.0,1321.4 L1724.0,1321.3 L1725.0,1321.3 L1726.0,1321.3 L1727.0,1321.3 L1728.0,1321.3 L1729.0,1321.3 L1730.0,1321.3 L1731.0,1321.3 L1732.0,1321.3 L1733.0,1321.3 L1734.0,1321.3 L1735.0,1321.3 L1736.0,1321.3 L1737.0,1321.3 L1738.0,1321.3 L1739.0,1321.3 L1740.0,1321.3 L1741.0,1321.3 L1742.0,1321.3 L1743.0,1321.3 L1744.0,1321.3 L1745.0,1321.3 L1746.0,1321.3 L1747.0,1321.3 L1748.0,1321.3 L1749.0,1321.3 L1750.0,1321.3 L1751.0,1321.3 L1752.0,1321.3 L1753.0,1321.3 L1754.0,1321.3 L1755.0,1321.3 L1756.0,1321.3 L1757.0,1321.3 L1758.0,1321.3 L1759.0,1321.3 L1760.0,1321.3 L1761.0,1321.3 L1762.0,1321.3 L1763.0,1321.3 L1764.0,1321.3 L1765.0,1321.3 L1766.0,1321.3 L1767.0,1321.3 L1768.0,1321.3 L1769.0,1321.3 L1770.0,1321.3 L1771.0,1321.3 L1772.0,1321.3 L1773.0,1321.3 L1774.0,1321.3 L1775.0,1321.3 L1776.0,1321.3 L1777.0,1321.3 L1778.0,1321.3 L1779.0,1321.3 L1780.0,1321.3 L1781.0,1321.3 L1782.0,1321.3 L1783.0,1321.3 L1784.0,1321.3 L1785.0,1321.3" stroke="#76A53E" stroke-dasharray="14.2 14.8" stroke-dashoffset="16.4"/>
<path d="M233.0,998.3 L234.0,998.2 L235.0,998.0 L236.0,997.9 L237.0,997.8 L238.0,997.6 L239.0,997.5 L240.0,997.3 L241.0,997.2 L242.0,997.0 L243.0,996.9 L244.0,996.7 L245.0,996.5 L246.0,996.4 L247.0,996.2 L248.0,996.0 L249.0,995.8 L250.0,995.6 L251.0,995.5 L252.0,995.3 L253.0,995.1 L254.0,994.9 L255.0,994.6 L256.0,994.4 L257.0,994.1 L258.0,993.9 L259.0,993.6 L260.0,993.2 L261.0,992.9 L262.0,992.5 L263.0,992.1 L264.0,991.7 L265.0,991.3 L266.0,990.8 L267.0,990.3 L268.0,989.9 L269.0,989.4 L270.0,988.9 L271.0,988.3 L272.0,987.8 L273.0,987.3 L274.0,986.7 L275.0,986.1 L276.0,985.5 L277.0,984.9 L278.0,984.3 L279.0,983.6 L280.0,983.0 L281.0,982.3 L282.0,981.6 L283.0,980.8 L284.0,980.1 L285.0,979.4 L286.0,978.6 L287.0,977.9 L288.0,977.1 L289.0,976.4 L290.0,975.6 L291.0,974.9 L292.0,974.1 L293.0,973.4 L294.0,972.6 L295.0,971.8 L296.0,971.0 L297.0,970.2 L298.0,969.5 L299.0,968.7 L300.0,967.8 L301.0,967.0 L302.0,966.2 L303.0,965.4 L304.0,964.6 L305.0,963.7 L306.0,962.9 L307.0,962.1 L308.0,961.3 L309.0,960.4 L310.0,959.6 L311.0,958.8 L312.0,957.9 L313.0,957.1 L314.0,956.3 L315.0,955.4 L316.0,954.6 L317.0,953.8 L318.0,952.9 L319.0,952.0 L320.0,951.1 L321.0,950.2 L322.0,949.2 L323.0,948.2 L324.0,947.1 L325.0,946.0 L326.0,944.9 L327.0,943.7 L328.0,942.5 L329.0,941.3 L330.0,940.1 L331.0,938.9 L332.0,937.6 L333.0,936.3 L334.0,935.1 L335.0,933.8 L336.0,932.5 L337.0,931.2 L338.0,929.9 L339.0,928.5 L340.0,927.2 L341.0,925.8 L342.0,924.4 L343.0,923.0 L344.0,921.6 L345.0,920.2 L346.0,918.8 L347.0,917.3 L348.0,915.9 L349.0,914.4 L350.0,912.9 L351.0,911.4 L352.0,909.9 L353.0,908.4 L354.0,906.9 L355.0,905.4 L356.0,903.8 L357.0,902.3 L358.0,900.7 L359.0,899.1 L360.0,897.5 L361.0,895.9 L362.0,894.2 L363.0,892.6 L364.0,891.0 L365.0,889.3 L366.0,887.6 L367.0,886.0 L368.0,884.3 L369.0,882.6 L370.0,880.9 L371.0,879.2 L372.0,877.5 L373.0,875.8 L374.0,874.0 L375.0,872.3 L376.0,870.6 L377.0,868.8 L378.0,867.1 L379.0,865.3 L380.0,863.5 L381.0,861.7 L382.0,859.9 L383.0,858.1 L384.0,856.3 L385.0,854.5 L386.0,852.7 L387.0,850.8 L388.0,849.0 L389.0,847.1 L390.0,845.3 L391.0,843.4 L392.0,841.5 L393.0,839.6 L394.0,837.7 L395.0,835.9 L396.0,834.0 L397.0,832.1 L398.0,830.3 L399.0,828.4 L400.0,826.6 L401.0,824.8 L402.0,823.0 L403.0,821.2 L404.0,819.5 L405.0,817.8 L406.0,816.0 L407.0,814.3 L408.0,812.6 L409.0,810.9 L410.0,809.2 L411.0,807.5 L412.0,805.8 L413.0,804.1 L414.0,802.4 L415.0,800.7 L416.0,798.9 L417.0,797.2 L418.0,795.5 L419.0,793.7 L420.0,792.0 L421.0,790.3 L422.0,788.5 L423.0,786.8 L424.0,785.0 L425.0,783.3 L426.0,781.6 L427.0,779.9 L428.0,778.1 L429.0,776.4 L430.0,774.7 L431.0,773.0 L432.0,771.3 L433.0,769.6 L434.0,768.0 L435.0,766.3 L436.0,764.6 L437.0,762.9 L438.0,761.3 L439.0,759.6 L440.0,757.9 L441.0,756.3 L442.0,754.7 L443.0,753.0 L444.0,751.4 L445.0,749.8 L446.0,748.2 L447.0,746.6 L448.0,745.0 L449.0,743.5 L450.0,742.0 L451.0,740.5 L452.0,739.1 L453.0,737.7 L454.0,736.3 L455.0,735.1 L456.0,733.8 L457.0,732.6 L458.0,731.4 L459.0,730.3 L460.0,729.2 L461.0,728.2 L462.0,727.1 L463.0,726.1 L464.0,725.1 L465.0,724.1 L466.0,723.0 L467.0,722.0 L468.0,721.0 L469.0,720.0 L470.0,719.0 L471.0,717.9 L472.0,716.9 L473.0,715.8 L474.0,714.8 L475.0,713.7 L476.0,712.6 L477.0,711.5 L478.0,710.3 L479.0,709.2 L480.0,708.1 L481.0,706.9 L482.0,705.8 L483.0,704.6 L484.0,703.4 L485.0,702.3 L486.0,701.1 L487.0,699.9 L488.0,698.8 L489.0,697.6 L490.0,696.4 L491.0,695.2 L492.0,694.0 L493.0,692.8 L494.0,691.6 L495.0,690.3 L496.0,689.1 L497.0,687.9 L498.0,686.6 L499.0,685.3 L500.0,684.0 L501.0,682.8 L502.0,681.5 L503.0,680.2 L504.0,678.9 L505.0,677.6 L506.0,676.3 L507.0,675.0 L508.0,673.7 L509.0,672.4 L510.0,671.1 L511.0,669.8 L512.0,669.2 L513.0,668.8 L514.0,668.4 L515.0,668.0 L516.0,667.6 L517.0,667.3 L518.0,666.9 L519.0,666.5 L520.0,666.1 L521.0,665.8 L522.0,665.4 L523.0,665.0 L524.0,664.7 L525.0,664.5 L526.0,664.8 L527.0,665.1 L528.0,665.4 L529.0,665.6 L530.0,665.9 L531.0,666.2 L532.0,666.4 L533.0,666.8 L534.0,667.2 L535.0,667.6 L536.0,668.1 L537.0,668.6 L538.0,669.2 L539.0,669.9 L540.0,670.6 L541.0,671.4 L542.0,672.2 L543.0,673.1 L544.0,674.0 L545.0,675.0 L546.0,676.0 L547.0,677.0 L548.0,678.1 L549.0,679.2 L550.0,680.4 L551.0,681.6 L552.0,682.9 L553.0,684.2 L554.0,685.5 L555.0,686.9 L556.0,688.3 L557.0,689.7 L558.0,691.2 L559.0,692.7 L560.0,694.3 L561.0,695.8 L562.0,697.5 L563.0,699.1 L564.0,700.8 L565.0,702.5 L566.0,704.3 L567.0,706.1 L568.0,708.0 L569.0,709.9 L570.0,711.8 L571.0,713.7 L572.0,715.7 L573.0,717.7 L574.0,719.6 L575.0,721.6 L576.0,723.6 L577.0,725.6 L578.0,727.6 L579.0,729.6 L580.0,731.6 L581.0,733.6 L582.0,735.6 L583.0,737.6 L584.0,739.6 L585.0,741.6 L586.0,743.6 L587.0,745.5 L588.0,747.5 L589.0,749.4 L590.0,751.3 L591.0,753.2 L592.0,755.0 L593.0,756.7 L594.0,758.4 L595.0,760.1 L596.0,761.7 L597.0,763.2 L598.0,764.7 L599.0,766.1 L600.0,767.5 L601.0,768.8 L602.0,770.1 L603.0,771.3 L604.0,772.5 L605.0,773.6 L606.0,774.8 L607.0,775.8 L608.0,776.9 L609.0,777.9 L610.0,778.8 L611.0,779.7 L612.0,780.6 L613.0,781.4 L614.0,782.2 L615.0,783.0 L616.0,783.7 L617.0,784.4 L618.0,785.1 L619.0,785.7 L620.0,786.3 L621.0,786.9 L622.0,787.4 L623.0,787.9 L624.0,788.3 L625.0,788.7 L626.0,789.0 L627.0,789.3 L628.0,789.6 L629.0,789.9 L630.0,790.1 L631.0,790.2 L632.0,790.4 L633.0,790.5 L634.0,790.6 L635.0,790.6 L636.0,790.6 L637.0,790.5 L638.0,790.4 L639.0,790.3 L640.0,790.1 L641.0,789.9 L642.0,789.7 L643.0,789.5 L644.0,789.2 L645.0,788.9 L646.0,788.6 L647.0,788.3 L648.0,787.9 L649.0,787.5 L650.0,787.1 L651.0,786.7 L652.0,786.3 L653.0,785.8 L654.0,785.4 L655.0,784.9 L656.0,784.4 L657.0,783.8 L658.0,783.3 L659.0,782.7 L660.0,782.1 L661.0,781.5 L662.0,780.9 L663.0,780.2 L664.0,779.5 L665.0,778.8 L666.0,778.1 L667.0,777.3 L668.0,776.5 L669.0,775.7 L670.0,774.9 L671.0,774.1 L672.0,773.3 L673.0,772.4 L674.0,771.5 L675.0,770.5 L676.0,769.5 L677.0,768.4 L678.0,767.3 L679.0,766.1 L680.0,764.8 L681.0,763.5 L682.0,762.1 L683.0,760.7 L684.0,759.2 L685.0,757.7 L686.0,756.2 L687.0,754.6 L688.0,753.1 L689.0,751.5 L690.0,749.9 L691.0,748.3 L692.0,746.7 L693.0,745.1 L694.0,743.5 L695.0,741.9 L696.0,740.3 L697.0,738.7 L698.0,737.1 L699.0,735.5 L700.0,733.9 L701.0,732.3 L702.0,730.7 L703.0,729.1 L704.0,727.5 L705.0,725.9 L706.0,724.4 L707.0,722.8 L708.0,721.2 L709.0,719.7 L710.0,718.1 L711.0,716.6 L712.0,715.1 L713.0,713.6 L714.0,712.1 L715.0,710.7 L716.0,709.2 L717.0,707.8 L718.0,706.4 L719.0,704.9 L720.0,703.5 L721.0,702.1 L722.0,700.7 L723.0,699.2 L724.0,697.8 L725.0,696.4 L726.0,694.9 L727.0,693.5 L728.0,692.0 L729.0,690.5 L730.0,689.0 L731.0,687.4 L732.0,685.9 L733.0,684.4 L734.0,682.8 L735.0,681.2 L736.0,679.6 L737.0,678.0 L738.0,676.4 L739.0,674.8 L740.0,673.2 L741.0,671.6 L742.0,669.9 L743.0,668.3 L744.0,666.6 L745.0,664.9 L746.0,663.2 L747.0,661.5 L748.0,659.8 L749.0,658.0 L750.0,656.3 L751.0,654.5 L752.0,652.7 L753.0,650.9 L754.0,649.1 L755.0,647.3 L756.0,645.5 L757.0,643.7 L758.0,641.9 L759.0,640.0 L760.0,638.2 L761.0,636.3 L762.0,634.4 L763.0,632.5 L764.0,630.6 L765.0,628.7 L766.0,626.7 L767.0,624.8 L768.0,622.9 L769.0,620.9 L770.0,619.0 L771.0,617.2 L772.0,615.3 L773.0,613.5 L774.0,611.8 L775.0,610.1 L776.0,608.4 L777.0,606.9 L778.0,605.4 L779.0,603.9 L780.0,602.5 L781.0,601.1 L782.0,599.8 L783.0,598.4 L784.0,597.1 L785.0,595.9 L786.0,594.6 L787.0,593.3 L788.0,592.1 L789.0,590.8 L790.0,589.6 L791.0,588.3 L792.0,587.1 L793.0,585.9 L794.0,584.6 L795.0,583.4 L796.0,582.2 L797.0,581.1 L798.0,579.9 L799.0,578.8 L800.0,577.7 L801.0,576.7 L802.0,575.7 L803.0,574.8 L804.0,573.9 L805.0,573.1 L806.0,572.3 L807.0,571.6 L808.0,570.9 L809.0,570.2 L810.0,569.6 L811.0,568.9 L812.0,568.2 L813.0,567.6 L814.0,566.9 L815.0,566.2 L816.0,565.5 L817.0,564.7 L818.0,563.9 L819.0,563.0 L820.0,562.2 L821.0,561.3 L822.0,560.3 L823.0,559.4 L824.0,558.4 L825.0,557.5 L826.0,556.5 L827.0,555.6 L828.0,554.8 L829.0,554.0 L830.0,553.3 L831.0,552.6 L832.0,552.0 L833.0,551.4 L834.0,550.9 L835.0,550.4 L836.0,550.0 L837.0,549.7 L838.0,549.4 L839.0,549.2 L840.0,549.0 L841.0,548.8 L842.0,548.8 L843.0,548.8 L844.0,548.8 L845.0,549.0 L846.0,549.1 L847.0,549.3 L848.0,549.6 L849.0,549.9 L850.0,550.2 L851.0,550.5 L852.0,550.9 L853.0,551.2 L854.0,551.6 L855.0,551.9 L856.0,552.2 L857.0,552.5 L858.0,552.7 L859.0,553.0 L860.0,553.2 L861.0,553.4 L862.0,553.5 L863.0,553.7 L864.0,553.8 L865.0,553.9 L866.0,554.0 L867.0,554.1 L868.0,554.2 L869.0,554.3 L870.0,554.5 L871.0,554.7 L872.0,555.0 L873.0,555.3 L874.0,555.7 L875.0,556.1 L876.0,556.6 L877.0,557.2 L878.0,557.8 L879.0,558.4 L880.0,559.1 L881.0,559.7 L882.0,560.4 L883.0,561.1 L884.0,561.9 L885.0,562.6 L886.0,563.3 L887.0,564.0 L888.0,564.8 L889.0,565.5 L890.0,566.3 L891.0,567.1 L892.0,567.9 L893.0,568.8 L894.0,569.7 L895.0,570.7 L896.0,571.7 L897.0,572.9 L898.0,574.1 L899.0,575.4 L900.0,576.8 L901.0,578.3 L902.0,579.9 L903.0,581.5 L904.0,583.1 L905.0,584.9 L906.0,586.6 L907.0,588.5 L908.0,590.4 L909.0,592.3 L910.0,594.4 L911.0,596.4 L912.0,598.6 L913.0,600.9 L914.0,603.2 L915.0,605.6 L916.0,608.1 L917.0,610.7 L918.0,613.4 L919.0,616.2 L920.0,619.1 L921.0,622.0 L922.0,625.0 L923.0,628.2 L924.0,631.4 L925.0,634.7 L926.0,638.2 L927.0,641.8 L928.0,645.5 L929.0,649.4 L930.0,653.5 L931.0,657.8 L932.0,662.2 L933.0,666.8 L934.0,671.4 L935.0,676.2 L936.0,681.1 L937.0,686.1 L938.0,691.1 L939.0,696.1 L940.0,701.0 L941.0,706.0 L942.0,710.9 L943.0,715.7 L944.0,720.5 L945.0,725.2 L946.0,729.9 L947.0,734.6 L948.0,739.3 L949.0,744.0 L950.0,748.7 L951.0,753.5 L952.0,758.3 L953.0,763.2 L954.0,768.1 L955.0,773.1 L956.0,778.1 L957.0,783.1 L958.0,788.1 L959.0,793.0 L960.0,797.9 L961.0,802.8 L962.0,807.6 L963.0,812.2 L964.0,816.9 L965.0,821.4 L966.0,825.9 L967.0,830.3 L968.0,834.6 L969.0,838.9 L970.0,843.2 L971.0,847.5 L972.0,851.8 L973.0,856.0 L974.0,860.2 L975.0,864.5 L976.0,868.7 L977.0,872.9 L978.0,877.0 L979.0,881.1 L980.0,885.2 L981.0,889.3 L982.0,893.3 L983.0,897.2 L984.0,901.2 L985.0,905.0 L986.0,908.9 L987.0,912.7 L988.0,916.5 L989.0,920.3 L990.0,924.0 L991.0,927.7 L992.0,931.3 L993.0,934.8 L994.0,938.2 L995.0,941.6 L996.0,945.0 L997.0,948.2 L998.0,951.4 L999.0,954.5 L1000.0,957.5 L1001.0,960.4 L1002.0,963.3 L1003.0,966.2 L1004.0,968.9 L1005.0,971.7 L1006.0,974.3 L1007.0,976.9 L1008.0,979.4 L1009.0,981.9 L1010.0,984.3 L1011.0,986.6 L1012.0,988.9 L1013.0,991.1 L1014.0,993.3 L1015.0,995.3 L1016.0,997.4 L1017.0,999.3 L1018.0,1001.2 L1019.0,1003.0 L1020.0,1004.8 L1021.0,1006.5 L1022.0,1008.2 L1023.0,1009.8 L1024.0,1011.3 L1025.0,1012.8 L1026.0,1014.3 L1027.0,1015.7 L1028.0,1017.1 L1029.0,1018.4 L1030.0,1019.7 L1031.0,1021.0 L1032.0,1022.2 L1033.0,1023.4 L1034.0,1024.6 L1035.0,1025.7 L1036.0,1026.7 L1037.0,1027.7 L1038.0,1028.7 L1039.0,1029.7 L1040.0,1030.6 L1041.0,1031.5 L1042.0,1032.3 L1043.0,1033.1 L1044.0,1033.9 L1045.0,1034.6 L1046.0,1035.3 L1047.0,1035.9 L1048.0,1036.5 L1049.0,1037.0 L1050.0,1037.5 L1051.0,1038.0 L1052.0,1038.4 L1053.0,1038.8 L1054.0,1039.1 L1055.0,1039.5 L1056.0,1039.8 L1057.0,1040.1 L1058.0,1040.4 L1059.0,1040.6 L1060.0,1040.9 L1061.0,1041.1 L1062.0,1041.3 L1063.0,1041.4 L1064.0,1041.5 L1065.0,1041.6 L1066.0,1041.7 L1067.0,1041.8 L1068.0,1041.8 L1069.0,1041.8 L1070.0,1041.7 L1071.0,1041.7 L1072.0,1041.6 L1073.0,1041.6 L1074.0,1041.5 L1075.0,1041.4 L1076.0,1041.3 L1077.0,1041.2 L1078.0,1041.1 L1079.0,1041.0 L1080.0,1040.9 L1081.0,1040.8 L1082.0,1040.7 L1083.0,1040.5 L1084.0,1040.4 L1085.0,1040.2 L1086.0,1040.0 L1087.0,1039.8 L1088.0,1039.6 L1089.0,1039.4 L1090.0,1039.2 L1091.0,1038.9 L1092.0,1038.7 L1093.0,1038.4 L1094.0,1038.2 L1095.0,1038.0 L1096.0,1037.7 L1097.0,1037.5 L1098.0,1037.2 L1099.0,1037.0 L1100.0,1036.7 L1101.0,1036.5 L1102.0,1036.2 L1103.0,1036.0 L1104.0,1035.7 L1105.0,1035.5 L1106.0,1035.2 L1107.0,1035.0 L1108.0,1034.7 L1109.0,1034.5 L1110.0,1034.2 L1111.0,1034.0 L1112.0,1033.7 L1113.0,1033.5 L1114.0,1033.2 L1115.0,1033.0 L1116.0,1032.7 L1117.0,1032.5 L1118.0,1032.2 L1119.0,1032.0 L1120.0,1031.7 L1121.0,1031.5 L1122.0,1031.3 L1123.0,1031.0 L1124.0,1030.8 L1125.0,1030.6 L1126.0,1030.4 L1127.0,1030.1 L1128.0,1029.9 L1129.0,1029.7 L1130.0,1029.5 L1131.0,1029.3 L1132.0,1029.1 L1133.0,1028.9 L1134.0,1028.7 L1135.0,1028.6 L1136.0,1028.4 L1137.0,1028.3 L1138.0,1028.1 L1139.0,1028.0 L1140.0,1028.0 L1141.0,1027.9 L1142.0,1027.9 L1143.0,1027.9 L1144.0,1027.9 L1145.0,1028.0 L1146.0,1028.0 L1147.0,1028.1 L1148.0,1028.2 L1149.0,1028.3 L1150.0,1028.5 L1151.0,1028.6 L1152.0,1028.8 L1153.0,1029.0 L1154.0,1029.2 L1155.0,1029.4 L1156.0,1029.6 L1157.0,1029.9 L1158.0,1030.1 L1159.0,1030.4 L1160.0,1030.6 L1161.0,1030.9 L1162.0,1031.2 L1163.0,1031.5 L1164.0,1031.8 L1165.0,1032.1 L1166.0,1032.4 L1167.0,1032.7 L1168.0,1033.0 L1169.0,1033.3 L1170.0,1033.6 L1171.0,1033.9 L1172.0,1034.3 L1173.0,1034.6 L1174.0,1034.9 L1175.0,1035.2 L1176.0,1035.6 L1177.0,1035.9 L1178.0,1036.2 L1179.0,1036.5 L1180.0,1036.9 L1181.0,1037.2 L1182.0,1037.5 L1183.0,1037.9 L1184.0,1038.2 L1185.0,1038.5 L1186.0,1038.8 L1187.0,1039.1 L1188.0,1039.4 L1189.0,1039.7 L1190.0,1040.0 L1191.0,1040.2 L1192.0,1040.5 L1193.0,1040.7 L1194.0,1040.9 L1195.0,1041.1 L1196.0,1041.3 L1197.0,1041.5 L1198.0,1041.7 L1199.0,1041.9 L1200.0,1042.1 L1201.0,1042.3 L1202.0,1042.4 L1203.0,1042.6 L1204.0,1042.8 L1205.0,1043.0 L1206.0,1043.2 L1207.0,1043.3 L1208.0,1043.5 L1209.0,1043.8 L1210.0,1044.0 L1211.0,1044.2 L1212.0,1044.5 L1213.0,1044.7 L1214.0,1045.0 L1215.0,1045.3 L1216.0,1045.6 L1217.0,1045.9 L1218.0,1046.2 L1219.0,1046.5 L1220.0,1046.9 L1221.0,1047.2 L1222.0,1047.5 L1223.0,1047.9 L1224.0,1048.2 L1225.0,1048.5 L1226.0,1048.9 L1227.0,1049.2 L1228.0,1049.6 L1229.0,1049.9 L1230.0,1050.3 L1231.0,1050.7 L1232.0,1051.0 L1233.0,1051.4 L1234.0,1051.8 L1235.0,1052.2 L1236.0,1052.6 L1237.0,1053.0 L1238.0,1053.4 L1239.0,1053.8 L1240.0,1054.2 L1241.0,1054.7 L1242.0,1055.1 L1243.0,1055.5 L1244.0,1055.9 L1245.0,1056.3 L1246.0,1056.8 L1247.0,1057.2 L1248.0,1057.7 L1249.0,1058.1 L1250.0,1058.6 L1251.0,1059.1 L1252.0,1059.6 L1253.0,1060.1 L1254.0,1060.6 L1255.0,1061.2 L1256.0,1061.7 L1257.0,1062.3 L1258.0,1062.8 L1259.0,1063.4 L1260.0,1064.0 L1261.0,1064.6 L1262.0,1065.1 L1263.0,1065.7 L1264.0,1066.3 L1265.0,1066.9 L1266.0,1067.5 L1267.0,1068.2 L1268.0,1068.8 L1269.0,1069.4 L1270.0,1070.1 L1271.0,1070.8 L1272.0,1071.5 L1273.0,1072.2 L1274.0,1073.0 L1275.0,1073.7 L1276.0,1074.5 L1277.0,1075.3 L1278.0,1076.1 L1279.0,1076.9 L1280.0,1077.7 L1281.0,1078.6 L1282.0,1079.4 L1283.0,1080.2 L1284.0,1081.1 L1285.0,1081.9 L1286.0,1082.8 L1287.0,1083.6 L1288.0,1084.5 L1289.0,1085.4 L1290.0,1086.3 L1291.0,1087.2 L1292.0,1088.1 L1293.0,1089.0 L1294.0,1089.9 L1295.0,1090.9 L1296.0,1091.9 L1297.0,1092.8 L1298.0,1093.8 L1299.0,1094.8 L1300.0,1095.8 L1301.0,1096.8 L1302.0,1097.8 L1303.0,1098.8 L1304.0,1099.9 L1305.0,1100.9 L1306.0,1102.0 L1307.0,1103.1 L1308.0,1104.2 L1309.0,1105.3 L1310.0,1106.5 L1311.0,1107.6 L1312.0,1108.8 L1313.0,1110.0 L1314.0,1111.2 L1315.0,1112.4 L1316.0,1113.7 L1317.0,1114.9 L1318.0,1116.2 L1319.0,1117.4 L1320.0,1118.6 L1321.0,1119.9 L1322.0,1121.1 L1323.0,1122.4 L1324.0,1123.6 L1325.0,1124.9 L1326.0,1126.2 L1327.0,1127.4 L1328.0,1128.7 L1329.0,1130.0 L1330.0,1131.2 L1331.0,1132.5 L1332.0,1133.8 L1333.0,1135.2 L1334.0,1136.5 L1335.0,1137.9 L1336.0,1139.2 L1337.0,1140.6 L1338.0,1142.1 L1339.0,1143.5 L1340.0,1144.9 L1341.0,1146.4 L1342.0,1147.9 L1343.0,1149.4 L1344.0,1150.8 L1345.0,1152.3 L1346.0,1153.8 L1347.0,1155.3 L1348.0,1156.8 L1349.0,1158.3 L1350.0,1159.8 L1351.0,1161.3 L1352.0,1162.8 L1353.0,1164.3 L1354.0,1165.8 L1355.0,1167.3 L1356.0,1168.8 L1357.0,1170.3 L1358.0,1171.8 L1359.0,1173.3 L1360.0,1174.8 L1361.0,1176.3 L1362.0,1177.8 L1363.0,1179.3 L1364.0,1180.8 L1365.0,1182.3 L1366.0,1183.8 L1367.0,1185.3 L1368.0,1186.8 L1369.0,1188.3 L1370.0,1189.7 L1371.0,1191.2 L1372.0,1192.6 L1373.0,1194.1 L1374.0,1195.5 L1375.0,1196.9 L1376.0,1198.3 L1377.0,1199.6 L1378.0,1200.9 L1379.0,1202.3 L1380.0,1203.6 L1381.0,1204.8 L1382.0,1206.1 L1383.0,1207.4 L1384.0,1208.6 L1385.0,1209.8 L1386.0,1211.1 L1387.0,1212.3 L1388.0,1213.5 L1389.0,1214.7 L1390.0,1215.9 L1391.0,1217.0 L1392.0,1218.2 L1393.0,1219.3 L1394.0,1220.5 L1395.0,1221.6 L1396.0,1222.7 L1397.0,1223.8 L1398.0,1224.9 L1399.0,1226.0 L1400.0,1227.0 L1401.0,1228.1 L1402.0,1229.1 L1403.0,1230.1 L1404.0,1231.1 L1405.0,1232.1 L1406.0,1233.0 L1407.0,1234.0 L1408.0,1234.9 L1409.0,1235.8 L1410.0,1236.7 L1411.0,1237.6 L1412.0,1238.5 L1413.0,1239.4 L1414.0,1240.3 L1415.0,1241.2 L1416.0,1242.1 L1417.0,1243.0 L1418.0,1243.8 L1419.0,1244.7 L1420.0,1245.5 L1421.0,1246.4 L1422.0,1247.2 L1423.0,1248.0 L1424.0,1248.8 L1425.0,1249.6 L1426.0,1250.4 L1427.0,1251.2 L1428.0,1252.0 L1429.0,1252.8 L1430.0,1253.6 L1431.0,1254.3 L1432.0,1255.1 L1433.0,1255.8 L1434.0,1256.5 L1435.0,1257.2 L1436.0,1257.8 L1437.0,1258.4 L1438.0,1259.1 L1439.0,1259.6 L1440.0,1260.2 L1441.0,1260.8 L1442.0,1261.3 L1443.0,1261.8 L1444.0,1262.3 L1445.0,1262.8 L1446.0,1263.4 L1447.0,1263.9 L1448.0,1264.4 L1449.0,1264.8 L1450.0,1265.3 L1451.0,1265.8 L1452.0,1266.3 L1453.0,1266.8 L1454.0,1267.3 L1455.0,1267.7 L1456.0,1268.2 L1457.0,1268.6 L1458.0,1269.1 L1459.0,1269.5 L1460.0,1270.0 L1461.0,1270.4 L1462.0,1270.8 L1463.0,1271.2 L1464.0,1271.7 L1465.0,1272.1 L1466.0,1272.5 L1467.0,1272.9 L1468.0,1273.3 L1469.0,1273.7 L1470.0,1274.1 L1471.0,1274.5 L1472.0,1274.9 L1473.0,1275.3 L1474.0,1275.6 L1475.0,1276.0 L1476.0,1276.3 L1477.0,1276.7 L1478.0,1277.0 L1479.0,1277.3 L1480.0,1277.6 L1481.0,1277.8 L1482.0,1278.1 L1483.0,1278.4 L1484.0,1278.6 L1485.0,1278.9 L1486.0,1279.1 L1487.0,1279.4 L1488.0,1279.7 L1489.0,1279.9 L1490.0,1280.2 L1491.0,1280.5 L1492.0,1280.7 L1493.0,1281.0 L1494.0,1281.3 L1495.0,1281.6 L1496.0,1281.9 L1497.0,1282.3 L1498.0,1282.6 L1499.0,1283.0 L1500.0,1283.3 L1501.0,1283.7 L1502.0,1284.1 L1503.0,1284.5 L1504.0,1284.8 L1505.0,1285.2 L1506.0,1285.6 L1507.0,1286.0 L1508.0,1286.4 L1509.0,1286.8 L1510.0,1287.1 L1511.0,1287.5 L1512.0,1287.9 L1513.0,1288.2 L1514.0,1288.6 L1515.0,1288.9 L1516.0,1289.2 L1517.0,1289.6 L1518.0,1289.9 L1519.0,1290.2 L1520.0,1290.5 L1521.0,1290.9 L1522.0,1291.2 L1523.0,1291.5 L1524.0,1291.8 L1525.0,1292.1 L1526.0,1292.4 L1527.0,1292.7 L1528.0,1293.1 L1529.0,1293.4 L1530.0,1293.7 L1531.0,1294.0 L1532.0,1294.3 L1533.0,1294.6 L1534.0,1294.9 L1535.0,1295.2 L1536.0,1295.5 L1537.0,1295.8 L1538.0,1296.1 L1539.0,1296.4 L1540.0,1296.7 L1541.0,1297.0 L1542.0,1297.2 L1543.0,1297.5 L1544.0,1297.8 L1545.0,1298.0 L1546.0,1298.3 L1547.0,1298.5 L1548.0,1298.8 L1549.0,1299.0 L1550.0,1299.3 L1551.0,1299.5 L1552.0,1299.8 L1553.0,1300.0 L1554.0,1300.3 L1555.0,1300.5 L1556.0,1300.8 L1557.0,1301.0 L1558.0,1301.3 L1559.0,1301.5 L1560.0,1301.8 L1561.0,1302.0 L1562.0,1302.3 L1563.0,1302.5 L1564.0,1302.7 L1565.0,1303.0 L1566.0,1303.2 L1567.0,1303.4 L1568.0,1303.6 L1569.0,1303.8 L1570.0,1304.0 L1571.0,1304.2 L1572.0,1304.4 L1573.0,1304.6 L1574.0,1304.8 L1575.0,1305.0 L1576.0,1305.2 L1577.0,1305.4 L1578.0,1305.6 L1579.0,1305.7 L1580.0,1305.9 L1581.0,1306.1 L1582.0,1306.3 L1583.0,1306.5 L1584.0,1306.7 L1585.0,1306.9 L1586.0,1307.1 L1587.0,1307.2 L1588.0,1307.4 L1589.0,1307.6 L1590.0,1307.8 L1591.0,1308.0 L1592.0,1308.2 L1593.0,1308.4 L1594.0,1308.6 L1595.0,1308.7 L1596.0,1308.9 L1597.0,1309.1 L1598.0,1309.3 L1599.0,1309.5 L1600.0,1309.7 L1601.0,1309.9 L1602.0,1310.1 L1603.0,1310.2 L1604.0,1310.4 L1605.0,1310.6 L1606.0,1310.8 L1607.0,1311.0 L1608.0,1311.2 L1609.0,1311.4 L1610.0,1311.6 L1611.0,1311.7 L1612.0,1311.9 L1613.0,1312.1 L1614.0,1312.3 L1615.0,1312.5 L1616.0,1312.6 L1617.0,1312.8 L1618.0,1313.0 L1619.0,1313.1 L1620.0,1313.3 L1621.0,1313.5 L1622.0,1313.6 L1623.0,1313.8 L1624.0,1313.9 L1625.0,1314.0 L1626.0,1314.2 L1627.0,1314.3 L1628.0,1314.4 L1629.0,1314.6 L1630.0,1314.7 L1631.0,1314.8 L1632.0,1314.9 L1633.0,1315.1 L1634.0,1315.2 L1635.0,1315.3 L1636.0,1315.4 L1637.0,1315.6 L1638.0,1315.7 L1639.0,1315.8 L1640.0,1315.9 L1641.0,1316.0 L1642.0,1316.1 L1643.0,1316.2 L1644.0,1316.4 L1645.0,1316.5 L1646.0,1316.5 L1647.0,1316.6 L1648.0,1316.7 L1649.0,1316.8 L1650.0,1316.8 L1651.0,1316.9 L1652.0,1317.0 L1653.0,1317.0 L1654.0,1317.1 L1655.0,1317.1 L1656.0,1317.2 L1657.0,1317.2 L1658.0,1317.3 L1659.0,1317.3 L1660.0,1317.3 L1661.0,1317.4 L1662.0,1317.4 L1663.0,1317.5 L1664.0,1317.5 L1665.0,1317.6 L1666.0,1317.7 L1667.0,1317.7 L1668.0,1317.8 L1669.0,1317.8 L1670.0,1317.9 L1671.0,1318.0 L1672.0,1318.0 L1673.0,1318.1 L1674.0,1318.2 L1675.0,1318.2 L1676.0,1318.3 L1677.0,1318.4 L1678.0,1318.5 L1679.0,1318.5 L1680.0,1318.6 L1681.0,1318.7 L1682.0,1318.7 L1683.0,1318.8 L1684.0,1318.9 L1685.0,1319.0 L1686.0,1319.0 L1687.0,1319.1 L1688.0,1319.2 L1689.0,1319.2 L1690.0,1319.3 L1691.0,1319.4 L1692.0,1319.4 L1693.0,1319.5 L1694.0,1319.6 L1695.0,1319.6 L1696.0,1319.7 L1697.0,1319.7 L1698.0,1319.8 L1699.0,1319.8 L1700.0,1319.9 L1701.0,1319.9 L1702.0,1320.0 L1703.0,1320.0 L1704.0,1320.1 L1705.0,1320.1 L1706.0,1320.2 L1707.0,1320.2 L1708.0,1320.3 L1709.0,1320.3 L1710.0,1320.4 L1711.0,1320.4 L1712.0,1320.5 L1713.0,1320.5 L1714.0,1320.6 L1715.0,1320.6 L1716.0,1320.7 L1717.0,1320.7 L1718.0,1320.7 L1719.0,1320.8 L1720.0,1320.8 L1721.0,1320.9 L1722.0,1320.9 L1723.0,1321.0 L1724.0,1321.0 L1725.0,1321.1 L1726.0,1321.1 L1727.0,1321.2 L1728.0,1321.2 L1729.0,1321.3 L1730.0,1321.3 L1731.0,1321.4 L1732.0,1321.4 L1733.0,1321.5 L1734.0,1321.5 L1735.0,1321.5 L1736.0,1321.6 L1737.0,1321.6 L1738.0,1321.7 L1739.0,1321.7 L1740.0,1321.7 L1741.0,1321.8 L1742.0,1321.8 L1743.0,1321.8 L1744.0,1321.8 L1745.0,1321.8 L1746.0,1321.9 L1747.0,1321.9 L1748.0,1321.9 L1749.0,1321.9 L1750.0,1321.9 L1751.0,1321.9 L1752.0,1321.9 L1753.0,1321.9 L1754.0,1322.0 L1755.0,1322.0 L1756.0,1322.0 L1757.0,1322.0 L1758.0,1322.0 L1759.0,1322.0 L1760.0,1322.0 L1761.0,1322.0 L1762.0,1322.0 L1763.0,1322.1 L1764.0,1322.1 L1765.0,1322.1 L1766.0,1322.1 L1767.0,1322.1 L1768.0,1322.1 L1769.0,1322.1 L1770.0,1322.1 L1771.0,1322.1 L1772.0,1322.2 L1773.0,1322.2 L1774.0,1322.2 L1775.0,1322.2 L1776.0,1322.2 L1777.0,1322.2 L1778.0,1322.2 L1779.0,1322.2 L1780.0,1322.2 L1781.0,1322.3 L1782.0,1322.3 L1783.0,1322.3 L1784.0,1322.3 L1785.0,1322.3" stroke="#775494" stroke-dasharray="14.2 14.8" stroke-dashoffset="17"/>
<path d="M233.0,1021.9 L234.0,1021.8 L235.0,1021.7 L236.0,1021.6 L237.0,1021.5 L238.0,1021.4 L239.0,1021.3 L240.0,1021.2 L241.0,1021.1 L242.0,1021.0 L243.0,1020.9 L244.0,1020.8 L245.0,1020.7 L246.0,1020.5 L247.0,1020.3 L248.0,1020.2 L249.0,1019.9 L250.0,1019.7 L251.0,1019.4 L252.0,1019.2 L253.0,1018.8 L254.0,1018.5 L255.0,1018.2 L256.0,1017.8 L257.0,1017.4 L258.0,1016.9 L259.0,1016.5 L260.0,1016.0 L261.0,1015.6 L262.0,1015.1 L263.0,1014.5 L264.0,1014.0 L265.0,1013.4 L266.0,1012.8 L267.0,1012.2 L268.0,1011.5 L269.0,1010.9 L270.0,1010.2 L271.0,1009.5 L272.0,1008.8 L273.0,1008.1 L274.0,1007.3 L275.0,1006.6 L276.0,1005.8 L277.0,1004.9 L278.0,1004.1 L279.0,1003.2 L280.0,1002.3 L281.0,1001.4 L282.0,1000.4 L283.0,999.5 L284.0,998.4 L285.0,997.4 L286.0,996.3 L287.0,995.2 L288.0,994.1 L289.0,992.9 L290.0,991.7 L291.0,990.4 L292.0,989.0 L293.0,987.7 L294.0,986.2 L295.0,984.7 L296.0,983.2 L297.0,981.6 L298.0,980.0 L299.0,978.4 L300.0,976.7 L301.0,975.0 L302.0,973.2 L303.0,971.4 L304.0,969.6 L305.0,967.8 L306.0,965.9 L307.0,964.1 L308.0,962.2 L309.0,960.3 L310.0,958.4 L311.0,956.5 L312.0,954.5 L313.0,952.6 L314.0,950.6 L315.0,948.6 L316.0,946.6 L317.0,944.6 L318.0,942.6 L319.0,940.6 L320.0,938.6 L321.0,936.6 L322.0,934.5 L323.0,932.5 L324.0,930.6 L325.0,928.6 L326.0,926.6 L327.0,924.7 L328.0,922.8 L329.0,920.9 L330.0,919.0 L331.0,917.1 L332.0,915.2 L333.0,913.3 L334.0,911.4 L335.0,909.6 L336.0,907.7 L337.0,905.8 L338.0,903.9 L339.0,902.1 L340.0,900.2 L341.0,898.3 L342.0,896.5 L343.0,894.6 L344.0,892.8 L345.0,890.9 L346.0,889.1 L347.0,887.3 L348.0,885.4 L349.0,883.5 L350.0,881.6 L351.0,879.7 L352.0,877.7 L353.0,875.7 L354.0,873.6 L355.0,871.5 L356.0,869.3 L357.0,867.0 L358.0,864.8 L359.0,862.4 L360.0,860.1 L361.0,857.7 L362.0,855.3 L363.0,852.9 L364.0,850.5 L365.0,848.1 L366.0,845.7 L367.0,843.3 L368.0,840.9 L369.0,838.5 L370.0,836.1 L371.0,833.7 L372.0,831.3 L373.0,828.9 L374.0,826.5 L375.0,824.1 L376.0,821.8 L377.0,819.4 L378.0,817.0 L379.0,814.7 L380.0,812.3 L381.0,810.0 L382.0,807.6 L383.0,805.3 L384.0,802.9 L385.0,800.6 L386.0,798.3 L387.0,795.9 L388.0,793.6 L389.0,791.3 L390.0,789.0 L391.0,786.8 L392.0,784.5 L393.0,782.3 L394.0,780.2 L395.0,778.1 L396.0,776.0 L397.0,774.1 L398.0,772.1 L399.0,770.3 L400.0,768.5 L401.0,766.8 L402.0,765.1 L403.0,763.5 L404.0,761.9 L405.0,760.3 L406.0,758.8 L407.0,757.2 L408.0,755.7 L409.0,754.2 L410.0,752.7 L411.0,751.3 L412.0,749.8 L413.0,748.4 L414.0,746.9 L415.0,745.5 L416.0,744.1 L417.0,742.8 L418.0,741.4 L419.0,740.1 L420.0,738.8 L421.0,737.6 L422.0,736.3 L423.0,735.1 L424.0,733.9 L425.0,732.7 L426.0,731.5 L427.0,730.4 L428.0,729.2 L429.0,728.0 L430.0,726.9 L431.0,725.7 L432.0,724.6 L433.0,723.4 L434.0,722.3 L435.0,721.2 L436.0,720.1 L437.0,719.0 L438.0,718.0 L439.0,716.9 L440.0,715.9 L441.0,714.9 L442.0,713.9 L443.0,712.9 L444.0,711.9 L445.0,710.9 L446.0,709.9 L447.0,709.0 L448.0,708.0 L449.0,707.0 L450.0,706.1 L451.0,705.1 L452.0,704.2 L453.0,703.2 L454.0,702.2 L455.0,701.3 L456.0,700.3 L457.0,699.4 L458.0,698.4 L459.0,697.4 L460.0,696.5 L461.0,695.5 L462.0,694.6 L463.0,693.6 L464.0,692.7 L465.0,691.8 L466.0,690.9 L467.0,690.0 L468.0,689.1 L469.0,688.3 L470.0,687.5 L471.0,686.7 L472.0,686.0 L473.0,685.4 L474.0,684.7 L475.0,684.1 L476.0,683.6 L477.0,683.1 L478.0,682.7 L479.0,682.2 L480.0,681.9 L481.0,681.5 L482.0,681.2 L483.0,680.9 L484.0,680.7 L485.0,680.5 L486.0,680.3 L487.0,680.2 L488.0,680.1 L489.0,680.0 L490.0,680.0 L491.0,680.0 L492.0,680.1 L493.0,680.2 L494.0,680.4 L495.0,680.7 L496.0,681.0 L497.0,681.3 L498.0,681.8 L499.0,682.3 L500.0,682.9 L501.0,683.6 L502.0,684.3 L503.0,685.1 L504.0,686.0 L505.0,687.0 L506.0,688.0 L507.0,689.2 L508.0,690.3 L509.0,691.6 L510.0,692.9 L511.0,694.3 L512.0,695.7 L513.0,697.2 L514.0,698.8 L515.0,700.4 L516.0,702.0 L517.0,703.6 L518.0,705.3 L519.0,707.0 L520.0,708.7 L521.0,710.4 L522.0,712.1 L523.0,713.9 L524.0,715.6 L525.0,717.3 L526.0,719.1 L527.0,720.8 L528.0,722.5 L529.0,724.2 L530.0,725.8 L531.0,727.5 L532.0,729.1 L533.0,730.7 L534.0,732.2 L535.0,733.7 L536.0,735.2 L537.0,736.6 L538.0,737.9 L539.0,739.2 L540.0,740.5 L541.0,741.8 L542.0,743.0 L543.0,744.2 L544.0,745.4 L545.0,746.6 L546.0,747.7 L547.0,748.8 L548.0,750.0 L549.0,751.1 L550.0,752.2 L551.0,753.2 L552.0,754.3 L553.0,755.3 L554.0,756.3 L555.0,757.2 L556.0,758.1 L557.0,759.0 L558.0,759.8 L559.0,760.5 L560.0,761.2 L561.0,761.8 L562.0,762.3 L563.0,762.8 L564.0,763.2 L565.0,763.6 L566.0,763.9 L567.0,764.2 L568.0,764.4 L569.0,764.5 L570.0,764.7 L571.0,764.7 L572.0,764.7 L573.0,764.7 L574.0,764.6 L575.0,764.5 L576.0,764.4 L577.0,764.2 L578.0,764.0 L579.0,763.7 L580.0,763.4 L581.0,763.1 L582.0,762.8 L583.0,762.5 L584.0,762.1 L585.0,761.7 L586.0,761.2 L587.0,760.8 L588.0,760.3 L589.0,759.7 L590.0,759.1 L591.0,758.5 L592.0,757.9 L593.0,757.3 L594.0,756.6 L595.0,755.9 L596.0,755.1 L597.0,754.4 L598.0,753.6 L599.0,752.8 L600.0,752.0 L601.0,751.1 L602.0,750.2 L603.0,749.3 L604.0,748.4 L605.0,747.4 L606.0,746.4 L607.0,745.4 L608.0,744.3 L609.0,743.2 L610.0,742.1 L611.0,741.0 L612.0,739.8 L613.0,738.6 L614.0,737.4 L615.0,736.1 L616.0,734.9 L617.0,733.6 L618.0,732.3 L619.0,731.0 L620.0,729.7 L621.0,728.3 L622.0,727.0 L623.0,725.6 L624.0,724.3 L625.0,722.9 L626.0,721.5 L627.0,720.1 L628.0,718.7 L629.0,717.4 L630.0,716.0 L631.0,714.6 L632.0,713.3 L633.0,712.0 L634.0,710.7 L635.0,709.4 L636.0,708.1 L637.0,706.8 L638.0,705.6 L639.0,704.3 L640.0,703.1 L641.0,701.8 L642.0,700.5 L643.0,699.2 L644.0,697.9 L645.0,696.5 L646.0,695.2 L647.0,693.8 L648.0,692.4 L649.0,691.0 L650.0,689.6 L651.0,688.1 L652.0,686.6 L653.0,685.1 L654.0,683.7 L655.0,682.6 L656.0,681.6 L657.0,680.6 L658.0,679.6 L659.0,678.6 L660.0,677.6 L661.0,676.6 L662.0,675.6 L663.0,674.6 L664.0,673.6 L665.0,672.7 L666.0,671.9 L667.0,671.0 L668.0,670.1 L669.0,669.2 L670.0,668.4 L671.0,667.9 L672.0,667.7 L673.0,667.6 L674.0,667.4 L675.0,667.2 L676.0,667.1 L677.0,666.9 L678.0,666.7 L679.0,666.6 L680.0,666.3 L681.0,665.7 L682.0,664.8 L683.0,663.8 L684.0,662.8 L685.0,661.8 L686.0,660.8 L687.0,659.9 L688.0,659.5 L689.0,659.4 L690.0,659.3 L691.0,659.1 L692.0,659.0 L693.0,658.9 L694.0,658.9 L695.0,659.2 L696.0,659.6 L697.0,660.0 L698.0,660.4 L699.0,660.8 L700.0,661.2 L701.0,661.6 L702.0,662.0 L703.0,662.5 L704.0,663.0 L705.0,663.5 L706.0,664.0 L707.0,664.5 L708.0,665.0 L709.0,665.6 L710.0,666.1 L711.0,666.7 L712.0,667.2 L713.0,667.9 L714.0,668.5 L715.0,669.2 L716.0,669.9 L717.0,670.6 L718.0,671.4 L719.0,672.2 L720.0,673.1 L721.0,674.0 L722.0,675.0 L723.0,676.1 L724.0,677.2 L725.0,678.4 L726.0,679.6 L727.0,680.9 L728.0,682.2 L729.0,683.6 L730.0,684.9 L731.0,686.4 L732.0,687.8 L733.0,689.2 L734.0,690.7 L735.0,692.2 L736.0,693.7 L737.0,695.1 L738.0,696.6 L739.0,698.1 L740.0,699.6 L741.0,701.2 L742.0,702.7 L743.0,704.2 L744.0,705.7 L745.0,707.3 L746.0,708.8 L747.0,710.4 L748.0,711.9 L749.0,713.5 L750.0,715.1 L751.0,716.7 L752.0,718.3 L753.0,719.9 L754.0,721.4 L755.0,723.0 L756.0,724.6 L757.0,726.2 L758.0,727.8 L759.0,729.4 L760.0,730.9 L761.0,732.5 L762.0,734.1 L763.0,735.6 L764.0,737.2 L765.0,738.7 L766.0,740.2 L767.0,741.7 L768.0,743.2 L769.0,744.8 L770.0,746.3 L771.0,747.8 L772.0,749.3 L773.0,750.8 L774.0,752.2 L775.0,753.7 L776.0,755.2 L777.0,756.7 L778.0,758.1 L779.0,759.5 L780.0,760.9 L781.0,762.3 L782.0,763.7 L783.0,765.0 L784.0,766.3 L785.0,767.6 L786.0,768.8 L787.0,770.1 L788.0,771.3 L789.0,772.5 L790.0,773.7 L791.0,774.9 L792.0,776.0 L793.0,777.2 L794.0,778.4 L795.0,779.5 L796.0,780.7 L797.0,781.8 L798.0,783.0 L799.0,784.1 L800.0,785.2 L801.0,786.3 L802.0,787.4 L803.0,788.5 L804.0,789.6 L805.0,790.6 L806.0,791.7 L807.0,792.7 L808.0,793.7 L809.0,794.8 L810.0,795.8 L811.0,796.8 L812.0,797.8 L813.0,798.8 L814.0,799.8 L815.0,800.8 L816.0,801.8 L817.0,802.7 L818.0,803.7 L819.0,804.7 L820.0,805.6 L821.0,806.6 L822.0,807.5 L823.0,808.4 L824.0,809.3 L825.0,810.2 L826.0,811.1 L827.0,812.0 L828.0,812.8 L829.0,813.7 L830.0,814.5 L831.0,815.4 L832.0,816.2 L833.0,817.0 L834.0,817.9 L835.0,818.7 L836.0,819.5 L837.0,820.3 L838.0,821.1 L839.0,821.9 L840.0,822.7 L841.0,823.5 L842.0,824.3 L843.0,825.0 L844.0,825.8 L845.0,826.5 L846.0,827.2 L847.0,827.9 L848.0,828.6 L849.0,829.3 L850.0,830.0 L851.0,830.7 L852.0,831.4 L853.0,832.1 L854.0,832.8 L855.0,833.5 L856.0,834.2 L857.0,834.9 L858.0,835.7 L859.0,836.4 L860.0,837.2 L861.0,838.0 L862.0,838.8 L863.0,839.7 L864.0,840.5 L865.0,841.4 L866.0,842.2 L867.0,843.1 L868.0,844.0 L869.0,844.9 L870.0,845.9 L871.0,846.8 L872.0,847.8 L873.0,848.8 L874.0,849.8 L875.0,850.9 L876.0,852.0 L877.0,853.1 L878.0,854.3 L879.0,855.5 L880.0,856.8 L881.0,858.1 L882.0,859.4 L883.0,860.7 L884.0,862.1 L885.0,863.5 L886.0,864.9 L887.0,866.3 L888.0,867.8 L889.0,869.2 L890.0,870.7 L891.0,872.3 L892.0,873.8 L893.0,875.4 L894.0,877.1 L895.0,878.8 L896.0,880.5 L897.0,882.2 L898.0,884.0 L899.0,885.8 L900.0,887.7 L901.0,889.5 L902.0,891.4 L903.0,893.2 L904.0,895.1 L905.0,896.9 L906.0,898.8 L907.0,900.7 L908.0,902.5 L909.0,904.4 L910.0,906.2 L911.0,908.1 L912.0,909.9 L913.0,911.7 L914.0,913.6 L915.0,915.4 L916.0,917.2 L917.0,919.0 L918.0,920.8 L919.0,922.6 L920.0,924.4 L921.0,926.2 L922.0,928.0 L923.0,929.8 L924.0,931.6 L925.0,933.4 L926.0,935.2 L927.0,937.0 L928.0,938.8 L929.0,940.6 L930.0,942.4 L931.0,944.2 L932.0,946.0 L933.0,947.8 L934.0,949.6 L935.0,951.4 L936.0,953.2 L937.0,955.0 L938.0,956.7 L939.0,958.5 L940.0,960.3 L941.0,962.0 L942.0,963.8 L943.0,965.5 L944.0,967.2 L945.0,968.9 L946.0,970.5 L947.0,972.2 L948.0,973.8 L949.0,975.5 L950.0,977.1 L951.0,978.7 L952.0,980.3 L953.0,981.9 L954.0,983.4 L955.0,985.0 L956.0,986.5 L957.0,988.1 L958.0,989.5 L959.0,991.0 L960.0,992.4 L961.0,993.8 L962.0,995.2 L963.0,996.5 L964.0,997.8 L965.0,999.1 L966.0,1000.4 L967.0,1001.6 L968.0,1002.8 L969.0,1004.1 L970.0,1005.3 L971.0,1006.4 L972.0,1007.6 L973.0,1008.8 L974.0,1009.9 L975.0,1011.1 L976.0,1012.2 L977.0,1013.3 L978.0,1014.4 L979.0,1015.5 L980.0,1016.6 L981.0,1017.6 L982.0,1018.6 L983.0,1019.7 L984.0,1020.7 L985.0,1021.7 L986.0,1022.7 L987.0,1023.7 L988.0,1024.6 L989.0,1025.6 L990.0,1026.5 L991.0,1027.4 L992.0,1028.3 L993.0,1029.1 L994.0,1029.9 L995.0,1030.7 L996.0,1031.4 L997.0,1032.2 L998.0,1032.9 L999.0,1033.5 L1000.0,1034.2 L1001.0,1034.8 L1002.0,1035.4 L1003.0,1036.0 L1004.0,1036.6 L1005.0,1037.2 L1006.0,1037.8 L1007.0,1038.3 L1008.0,1038.9 L1009.0,1039.4 L1010.0,1039.9 L1011.0,1040.4 L1012.0,1040.8 L1013.0,1041.3 L1014.0,1041.7 L1015.0,1042.1 L1016.0,1042.5 L1017.0,1042.9 L1018.0,1043.3 L1019.0,1043.6 L1020.0,1044.0 L1021.0,1044.3 L1022.0,1044.7 L1023.0,1045.0 L1024.0,1045.3 L1025.0,1045.6 L1026.0,1045.9 L1027.0,1046.1 L1028.0,1046.3 L1029.0,1046.6 L1030.0,1046.8 L1031.0,1046.9 L1032.0,1047.1 L1033.0,1047.3 L1034.0,1047.4 L1035.0,1047.5 L1036.0,1047.7 L1037.0,1047.8 L1038.0,1047.9 L1039.0,1048.0 L1040.0,1048.1 L1041.0,1048.3 L1042.0,1048.4 L1043.0,1048.5 L1044.0,1048.6 L1045.0,1048.7 L1046.0,1048.8 L1047.0,1048.8 L1048.0,1048.9 L1049.0,1049.0 L1050.0,1049.1 L1051.0,1049.1 L1052.0,1049.2 L1053.0,1049.3 L1054.0,1049.3 L1055.0,1049.4 L1056.0,1049.4 L1057.0,1049.5 L1058.0,1049.5 L1059.0,1049.6 L1060.0,1049.6 L1061.0,1049.7 L1062.0,1049.7 L1063.0,1049.8 L1064.0,1049.8 L1065.0,1049.9 L1066.0,1049.9 L1067.0,1050.0 L1068.0,1050.0 L1069.0,1050.0 L1070.0,1050.1 L1071.0,1050.1 L1072.0,1050.2 L1073.0,1050.2 L1074.0,1050.2 L1075.0,1050.3 L1076.0,1050.3 L1077.0,1050.3 L1078.0,1050.4 L1079.0,1050.4 L1080.0,1050.5 L1081.0,1050.5 L1082.0,1050.6 L1083.0,1050.6 L1084.0,1050.7 L1085.0,1050.8 L1086.0,1050.9 L1087.0,1051.0 L1088.0,1051.2 L1089.0,1051.3 L1090.0,1051.5 L1091.0,1051.7 L1092.0,1051.9 L1093.0,1052.1 L1094.0,1052.3 L1095.0,1052.6 L1096.0,1052.8 L1097.0,1053.1 L1098.0,1053.3 L1099.0,1053.6 L1100.0,1053.8 L1101.0,1054.1 L1102.0,1054.3 L1103.0,1054.6 L1104.0,1054.9 L1105.0,1055.2 L1106.0,1055.5 L1107.0,1055.8 L1108.0,1056.2 L1109.0,1056.5 L1110.0,1056.9 L1111.0,1057.2 L1112.0,1057.6 L1113.0,1058.0 L1114.0,1058.4 L1115.0,1058.8 L1116.0,1059.2 L1117.0,1059.6 L1118.0,1060.0 L1119.0,1060.4 L1120.0,1060.9 L1121.0,1061.3 L1122.0,1061.7 L1123.0,1062.2 L1124.0,1062.6 L1125.0,1063.1 L1126.0,1063.6 L1127.0,1064.0 L1128.0,1064.5 L1129.0,1065.0 L1130.0,1065.6 L1131.0,1066.1 L1132.0,1066.6 L1133.0,1067.2 L1134.0,1067.8 L1135.0,1068.3 L1136.0,1068.9 L1137.0,1069.5 L1138.0,1070.1 L1139.0,1070.6 L1140.0,1071.2 L1141.0,1071.8 L1142.0,1072.4 L1143.0,1073.0 L1144.0,1073.5 L1145.0,1074.1 L1146.0,1074.7 L1147.0,1075.2 L1148.0,1075.8 L1149.0,1076.3 L1150.0,1076.9 L1151.0,1077.4 L1152.0,1078.0 L1153.0,1078.5 L1154.0,1079.0 L1155.0,1079.6 L1156.0,1080.1 L1157.0,1080.6 L1158.0,1081.1 L1159.0,1081.6 L1160.0,1082.2 L1161.0,1082.7 L1162.0,1083.2 L1163.0,1083.7 L1164.0,1084.2 L1165.0,1084.7 L1166.0,1085.2 L1167.0,1085.7 L1168.0,1086.2 L1169.0,1086.8 L1170.0,1087.3 L1171.0,1087.8 L1172.0,1088.3 L1173.0,1088.9 L1174.0,1089.4 L1175.0,1090.0 L1176.0,1090.5 L1177.0,1091.1 L1178.0,1091.7 L1179.0,1092.3 L1180.0,1092.8 L1181.0,1093.4 L1182.0,1094.0 L1183.0,1094.6 L1184.0,1095.2 L1185.0,1095.7 L1186.0,1096.3 L1187.0,1096.9 L1188.0,1097.4 L1189.0,1098.0 L1190.0,1098.5 L1191.0,1099.1 L1192.0,1099.6 L1193.0,1100.1 L1194.0,1100.7 L1195.0,1101.2 L1196.0,1101.7 L1197.0,1102.2 L1198.0,1102.8 L1199.0,1103.3 L1200.0,1103.8 L1201.0,1104.4 L1202.0,1104.9 L1203.0,1105.5 L1204.0,1106.1 L1205.0,1106.7 L1206.0,1107.3 L1207.0,1107.9 L1208.0,1108.5 L1209.0,1109.2 L1210.0,1109.8 L1211.0,1110.5 L1212.0,1111.1 L1213.0,1111.8 L1214.0,1112.5 L1215.0,1113.2 L1216.0,1114.0 L1217.0,1114.7 L1218.0,1115.4 L1219.0,1116.2 L1220.0,1117.0 L1221.0,1117.8 L1222.0,1118.5 L1223.0,1119.4 L1224.0,1120.2 L1225.0,1121.0 L1226.0,1121.8 L1227.0,1122.7 L1228.0,1123.6 L1229.0,1124.4 L1230.0,1125.4 L1231.0,1126.3 L1232.0,1127.2 L1233.0,1128.2 L1234.0,1129.1 L1235.0,1130.1 L1236.0,1131.1 L1237.0,1132.2 L1238.0,1133.2 L1239.0,1134.2 L1240.0,1135.3 L1241.0,1136.4 L1242.0,1137.5 L1243.0,1138.5 L1244.0,1139.6 L1245.0,1140.7 L1246.0,1141.8 L1247.0,1142.9 L1248.0,1144.0 L1249.0,1145.1 L1250.0,1146.3 L1251.0,1147.4 L1252.0,1148.6 L1253.0,1149.8 L1254.0,1150.9 L1255.0,1152.2 L1256.0,1153.4 L1257.0,1154.6 L1258.0,1155.9 L1259.0,1157.1 L1260.0,1158.4 L1261.0,1159.7 L1262.0,1161.0 L1263.0,1162.3 L1264.0,1163.6 L1265.0,1164.9 L1266.0,1166.2 L1267.0,1167.6 L1268.0,1168.9 L1269.0,1170.2 L1270.0,1171.6 L1271.0,1173.0 L1272.0,1174.4 L1273.0,1175.8 L1274.0,1177.2 L1275.0,1178.6 L1276.0,1180.0 L1277.0,1181.4 L1278.0,1182.9 L1279.0,1184.3 L1280.0,1185.7 L1281.0,1187.2 L1282.0,1188.6 L1283.0,1190.1 L1284.0,1191.5 L1285.0,1192.9 L1286.0,1194.4 L1287.0,1195.8 L1288.0,1197.3 L1289.0,1198.7 L1290.0,1200.2 L1291.0,1201.6 L1292.0,1203.1 L1293.0,1204.5 L1294.0,1205.9 L1295.0,1207.4 L1296.0,1208.8 L1297.0,1210.3 L1298.0,1211.7 L1299.0,1213.2 L1300.0,1214.6 L1301.0,1216.1 L1302.0,1217.5 L1303.0,1218.9 L1304.0,1220.4 L1305.0,1221.8 L1306.0,1223.3 L1307.0,1224.7 L1308.0,1226.1 L1309.0,1227.6 L1310.0,1229.0 L1311.0,1230.4 L1312.0,1231.8 L1313.0,1233.2 L1314.0,1234.6 L1315.0,1235.9 L1316.0,1237.2 L1317.0,1238.6 L1318.0,1239.9 L1319.0,1241.2 L1320.0,1242.4 L1321.0,1243.7 L1322.0,1244.9 L1323.0,1246.2 L1324.0,1247.4 L1325.0,1248.6 L1326.0,1249.8 L1327.0,1251.0 L1328.0,1252.1 L1329.0,1253.3 L1330.0,1254.4 L1331.0,1255.5 L1332.0,1256.6 L1333.0,1257.7 L1334.0,1258.8 L1335.0,1259.8 L1336.0,1260.8 L1337.0,1261.9 L1338.0,1262.9 L1339.0,1263.9 L1340.0,1264.9 L1341.0,1265.8 L1342.0,1266.8 L1343.0,1267.8 L1344.0,1268.7 L1345.0,1269.6 L1346.0,1270.5 L1347.0,1271.4 L1348.0,1272.3 L1349.0,1273.1 L1350.0,1274.0 L1351.0,1274.8 L1352.0,1275.7 L1353.0,1276.5 L1354.0,1277.3 L1355.0,1278.1 L1356.0,1278.9 L1357.0,1279.6 L1358.0,1280.4 L1359.0,1281.2 L1360.0,1281.9 L1361.0,1282.7 L1362.0,1283.4 L1363.0,1284.1 L1364.0,1284.8 L1365.0,1285.5 L1366.0,1286.2 L1367.0,1286.9 L1368.0,1287.6 L1369.0,1288.2 L1370.0,1288.9 L1371.0,1289.5 L1372.0,1290.1 L1373.0,1290.8 L1374.0,1291.4 L1375.0,1292.0 L1376.0,1292.6 L1377.0,1293.2 L1378.0,1293.8 L1379.0,1294.4 L1380.0,1294.9 L1381.0,1295.5 L1382.0,1296.0 L1383.0,1296.5 L1384.0,1297.0 L1385.0,1297.4 L1386.0,1297.9 L1387.0,1298.3 L1388.0,1298.8 L1389.0,1299.2 L1390.0,1299.6 L1391.0,1300.0 L1392.0,1300.5 L1393.0,1300.9 L1394.0,1301.3 L1395.0,1301.7 L1396.0,1302.1 L1397.0,1302.5 L1398.0,1302.9 L1399.0,1303.3 L1400.0,1303.7 L1401.0,1304.0 L1402.0,1304.4 L1403.0,1304.8 L1404.0,1305.1 L1405.0,1305.5 L1406.0,1305.8 L1407.0,1306.1 L1408.0,1306.5 L1409.0,1306.8 L1410.0,1307.1 L1411.0,1307.4 L1412.0,1307.8 L1413.0,1308.1 L1414.0,1308.4 L1415.0,1308.7 L1416.0,1309.0 L1417.0,1309.3 L1418.0,1309.7 L1419.0,1310.0 L1420.0,1310.3 L1421.0,1310.5 L1422.0,1310.8 L1423.0,1311.1 L1424.0,1311.3 L1425.0,1311.6 L1426.0,1311.8 L1427.0,1312.0 L1428.0,1312.2 L1429.0,1312.4 L1430.0,1312.6 L1431.0,1312.8 L1432.0,1313.0 L1433.0,1313.2 L1434.0,1313.3 L1435.0,1313.5 L1436.0,1313.7 L1437.0,1313.9 L1438.0,1314.0 L1439.0,1314.2 L1440.0,1314.4 L1441.0,1314.5 L1442.0,1314.7 L1443.0,1314.8 L1444.0,1315.0 L1445.0,1315.1 L1446.0,1315.3 L1447.0,1315.4 L1448.0,1315.6 L1449.0,1315.7 L1450.0,1315.8 L1451.0,1316.0 L1452.0,1316.1 L1453.0,1316.2 L1454.0,1316.3 L1455.0,1316.4 L1456.0,1316.5 L1457.0,1316.6 L1458.0,1316.6 L1459.0,1316.7 L1460.0,1316.8 L1461.0,1316.9 L1462.0,1317.0 L1463.0,1317.1 L1464.0,1317.3 L1465.0,1317.4 L1466.0,1317.6 L1467.0,1317.8 L1468.0,1318.0 L1469.0,1318.3 L1470.0,1318.6 L1471.0,1318.9 L1472.0,1319.3 L1473.0,1319.6 L1474.0,1320.0 L1475.0,1320.4 L1476.0,1320.8 L1477.0,1321.1 L1478.0,1321.4 L1479.0,1321.7 L1480.0,1321.9 L1481.0,1322.1 L1482.0,1322.2 L1483.0,1322.3 L1484.0,1322.3 L1485.0,1322.3 L1486.0,1322.3 L1487.0,1322.2 L1488.0,1322.2 L1489.0,1322.1 L1490.0,1322.0 L1491.0,1321.9 L1492.0,1321.8 L1493.0,1321.7 L1494.0,1321.6 L1495.0,1321.6 L1496.0,1321.5 L1497.0,1321.4 L1498.0,1321.3 L1499.0,1321.3 L1500.0,1321.2 L1501.0,1321.2 L1502.0,1321.2 L1503.0,1321.1 L1504.0,1321.1 L1505.0,1321.1 L1506.0,1321.1 L1507.0,1321.1 L1508.0,1321.1 L1509.0,1321.1 L1510.0,1321.1 L1511.0,1321.1 L1512.0,1321.2 L1513.0,1321.2 L1514.0,1321.2 L1515.0,1321.2 L1516.0,1321.2 L1517.0,1321.2 L1518.0,1321.2 L1519.0,1321.3 L1520.0,1321.3 L1521.0,1321.3 L1522.0,1321.3 L1523.0,1321.3 L1524.0,1321.3 L1525.0,1321.3 L1526.0,1321.3 L1527.0,1321.4 L1528.0,1321.4 L1529.0,1321.4 L1530.0,1321.4 L1531.0,1321.4 L1532.0,1321.4 L1533.0,1321.4 L1534.0,1321.5 L1535.0,1321.5 L1536.0,1321.5 L1537.0,1321.5 L1538.0,1321.5 L1539.0,1321.5 L1540.0,1321.5 L1541.0,1321.5 L1542.0,1321.6 L1543.0,1321.6 L1544.0,1321.6 L1545.0,1321.6 L1546.0,1321.6 L1547.0,1321.6 L1548.0,1321.6 L1549.0,1321.7 L1550.0,1321.7 L1551.0,1321.7 L1552.0,1321.7 L1553.0,1321.7 L1554.0,1321.7 L1555.0,1321.7 L1556.0,1321.7 L1557.0,1321.7 L1558.0,1321.8 L1559.0,1321.8 L1560.0,1321.8 L1561.0,1321.8 L1562.0,1321.8 L1563.0,1321.8 L1564.0,1321.8 L1565.0,1321.8 L1566.0,1321.8 L1567.0,1321.8 L1568.0,1321.8 L1569.0,1321.8 L1570.0,1321.8 L1571.0,1321.8 L1572.0,1321.8 L1573.0,1321.8 L1574.0,1321.8 L1575.0,1321.8 L1576.0,1321.8 L1577.0,1321.8 L1578.0,1321.8 L1579.0,1321.8 L1580.0,1321.8 L1581.0,1321.8 L1582.0,1321.8 L1583.0,1321.8 L1584.0,1321.8 L1585.0,1321.8 L1586.0,1321.8 L1587.0,1321.8 L1588.0,1321.8 L1589.0,1321.8 L1590.0,1321.8 L1591.0,1321.8 L1592.0,1321.8 L1593.0,1321.8 L1594.0,1321.8 L1595.0,1321.8 L1596.0,1321.8 L1597.0,1321.8 L1598.0,1321.8 L1599.0,1321.8 L1600.0,1321.8 L1601.0,1321.8 L1602.0,1321.8 L1603.0,1321.8 L1604.0,1321.8 L1605.0,1321.8 L1606.0,1321.8 L1607.0,1321.8 L1608.0,1321.8 L1609.0,1321.8 L1610.0,1321.8 L1611.0,1321.8 L1612.0,1321.8 L1613.0,1321.8 L1614.0,1321.8 L1615.0,1321.8 L1616.0,1321.8 L1617.0,1321.8 L1618.0,1321.8 L1619.0,1321.8 L1620.0,1321.8 L1621.0,1321.8 L1622.0,1321.8 L1623.0,1321.8 L1624.0,1321.8 L1625.0,1321.8 L1626.0,1321.8 L1627.0,1321.8 L1628.0,1321.8 L1629.0,1321.8 L1630.0,1321.8 L1631.0,1321.8 L1632.0,1321.8 L1633.0,1321.8 L1634.0,1321.8 L1635.0,1321.8 L1636.0,1321.8 L1637.0,1321.8 L1638.0,1321.8 L1639.0,1321.8 L1640.0,1321.8 L1641.0,1321.8 L1642.0,1321.8 L1643.0,1321.8 L1644.0,1321.8 L1645.0,1321.8 L1646.0,1321.8 L1647.0,1321.8 L1648.0,1321.8 L1649.0,1321.8 L1650.0,1321.8 L1651.0,1321.8 L1652.0,1321.8 L1653.0,1321.8 L1654.0,1321.8 L1655.0,1321.8 L1656.0,1321.8 L1657.0,1321.8 L1658.0,1321.8 L1659.0,1321.8 L1660.0,1321.8 L1661.0,1321.8 L1662.0,1321.8 L1663.0,1321.8 L1664.0,1321.8 L1665.0,1321.8 L1666.0,1321.8 L1667.0,1321.8 L1668.0,1321.8 L1669.0,1321.8 L1670.0,1321.8 L1671.0,1321.8 L1672.0,1321.8 L1673.0,1321.8 L1674.0,1321.8 L1675.0,1321.8 L1676.0,1321.8 L1677.0,1321.8 L1678.0,1321.8 L1679.0,1321.8 L1680.0,1321.8 L1681.0,1321.8 L1682.0,1321.8 L1683.0,1321.8 L1684.0,1321.8 L1685.0,1321.8 L1686.0,1321.8 L1687.0,1321.8 L1688.0,1321.8 L1689.0,1321.8 L1690.0,1321.8 L1691.0,1321.8 L1692.0,1321.8 L1693.0,1321.8 L1694.0,1321.8 L1695.0,1321.8 L1696.0,1321.8 L1697.0,1321.8 L1698.0,1321.8 L1699.0,1321.8 L1700.0,1321.8 L1701.0,1321.8 L1702.0,1321.8 L1703.0,1321.8 L1704.0,1321.8 L1705.0,1321.8 L1706.0,1321.8 L1707.0,1321.8 L1708.0,1321.8 L1709.0,1321.8 L1710.0,1321.8 L1711.0,1321.8 L1712.0,1321.8 L1713.0,1321.8 L1714.0,1321.8 L1715.0,1321.8 L1716.0,1321.8 L1717.0,1321.8 L1718.0,1321.8 L1719.0,1321.8 L1720.0,1321.8 L1721.0,1321.8 L1722.0,1321.8 L1723.0,1321.8 L1724.0,1321.8 L1725.0,1321.8 L1726.0,1321.8 L1727.0,1321.8 L1728.0,1321.8 L1729.0,1321.8 L1730.0,1321.8 L1731.0,1321.8 L1732.0,1321.8 L1733.0,1321.8 L1734.0,1321.8 L1735.0,1321.8 L1736.0,1321.8 L1737.0,1321.8 L1738.0,1321.8 L1739.0,1321.8 L1740.0,1321.8 L1741.0,1321.8 L1742.0,1321.8 L1743.0,1321.8 L1744.0,1321.8 L1745.0,1321.8 L1746.0,1321.8 L1747.0,1321.8 L1748.0,1321.8 L1749.0,1321.8 L1750.0,1321.8 L1751.0,1321.8 L1752.0,1321.8 L1753.0,1321.8 L1754.0,1321.8 L1755.0,1321.8 L1756.0,1321.8 L1757.0,1321.8 L1758.0,1321.8 L1759.0,1321.8 L1760.0,1321.8 L1761.0,1321.8 L1762.0,1321.8 L1763.0,1321.8 L1764.0,1321.8 L1765.0,1321.8 L1766.0,1321.8 L1767.0,1321.8 L1768.0,1321.8 L1769.0,1321.8 L1770.0,1321.8 L1771.0,1321.8 L1772.0,1321.8 L1773.0,1321.8 L1774.0,1321.8 L1775.0,1321.8 L1776.0,1321.8 L1777.0,1321.8 L1778.0,1321.8 L1779.0,1321.8 L1780.0,1321.8 L1781.0,1321.8 L1782.0,1321.8 L1783.0,1321.8 L1784.0,1321.8 L1785.0,1321.8" stroke="#808080"/>
<path d="M233.0,1006.2 L234.0,1006.3 L235.0,1006.4 L236.0,1006.5 L237.0,1006.5 L238.0,1006.6 L239.0,1006.7 L240.0,1006.8 L241.0,1006.9 L242.0,1007.0 L243.0,1007.0 L244.0,1007.1 L245.0,1007.1 L246.0,1007.1 L247.0,1007.1 L248.0,1007.1 L249.0,1007.1 L250.0,1007.0 L251.0,1006.9 L252.0,1006.8 L253.0,1006.6 L254.0,1006.4 L255.0,1006.2 L256.0,1006.0 L257.0,1005.7 L258.0,1005.4 L259.0,1005.1 L260.0,1004.7 L261.0,1004.4 L262.0,1003.9 L263.0,1003.5 L264.0,1003.0 L265.0,1002.5 L266.0,1001.9 L267.0,1001.3 L268.0,1000.7 L269.0,1000.0 L270.0,999.4 L271.0,998.6 L272.0,997.9 L273.0,997.1 L274.0,996.3 L275.0,995.4 L276.0,994.5 L277.0,993.6 L278.0,992.7 L279.0,991.7 L280.0,990.7 L281.0,989.6 L282.0,988.5 L283.0,987.4 L284.0,986.3 L285.0,985.1 L286.0,983.9 L287.0,982.6 L288.0,981.4 L289.0,980.0 L290.0,978.7 L291.0,977.3 L292.0,975.9 L293.0,974.5 L294.0,973.0 L295.0,971.5 L296.0,970.0 L297.0,968.4 L298.0,966.8 L299.0,965.1 L300.0,963.4 L301.0,961.6 L302.0,959.7 L303.0,957.8 L304.0,955.8 L305.0,953.7 L306.0,951.6 L307.0,949.4 L308.0,947.2 L309.0,945.0 L310.0,942.7 L311.0,940.4 L312.0,938.2 L313.0,935.9 L314.0,933.7 L315.0,931.4 L316.0,929.2 L317.0,926.9 L318.0,924.7 L319.0,922.5 L320.0,920.2 L321.0,917.9 L322.0,915.7 L323.0,913.4 L324.0,911.0 L325.0,908.6 L326.0,906.2 L327.0,903.7 L328.0,901.2 L329.0,898.7 L330.0,896.1 L331.0,893.4 L332.0,890.8 L333.0,888.1 L334.0,885.5 L335.0,882.8 L336.0,880.2 L337.0,877.6 L338.0,875.1 L339.0,872.5 L340.0,870.1 L341.0,867.6 L342.0,865.3 L343.0,862.9 L344.0,860.6 L345.0,858.4 L346.0,856.1 L347.0,854.0 L348.0,851.8 L349.0,849.6 L350.0,847.5 L351.0,845.4 L352.0,843.2 L353.0,841.0 L354.0,838.8 L355.0,836.5 L356.0,834.2 L357.0,831.8 L358.0,829.4 L359.0,826.8 L360.0,824.2 L361.0,821.6 L362.0,818.9 L363.0,816.1 L364.0,813.4 L365.0,810.6 L366.0,807.9 L367.0,805.1 L368.0,802.4 L369.0,799.7 L370.0,797.0 L371.0,794.3 L372.0,791.6 L373.0,788.9 L374.0,786.2 L375.0,783.6 L376.0,780.9 L377.0,778.2 L378.0,775.6 L379.0,773.0 L380.0,770.4 L381.0,767.8 L382.0,765.2 L383.0,762.6 L384.0,760.1 L385.0,757.5 L386.0,754.9 L387.0,752.4 L388.0,749.8 L389.0,747.1 L390.0,744.5 L391.0,741.8 L392.0,739.0 L393.0,736.3 L394.0,733.4 L395.0,730.5 L396.0,727.5 L397.0,724.5 L398.0,721.5 L399.0,718.4 L400.0,715.3 L401.0,712.2 L402.0,709.1 L403.0,706.1 L404.0,703.1 L405.0,700.1 L406.0,697.3 L407.0,694.5 L408.0,691.8 L409.0,689.2 L410.0,686.6 L411.0,684.2 L412.0,681.7 L413.0,679.4 L414.0,677.1 L415.0,674.8 L416.0,672.6 L417.0,670.3 L418.0,668.1 L419.0,665.9 L420.0,663.7 L421.0,661.5 L422.0,659.3 L423.0,657.1 L424.0,654.9 L425.0,652.7 L426.0,650.5 L427.0,648.3 L428.0,646.1 L429.0,643.9 L430.0,641.7 L431.0,639.5 L432.0,637.3 L433.0,635.1 L434.0,632.9 L435.0,630.7 L436.0,628.6 L437.0,626.4 L438.0,624.3 L439.0,622.1 L440.0,620.0 L441.0,617.9 L442.0,615.8 L443.0,613.7 L444.0,611.7 L445.0,609.6 L446.0,607.6 L447.0,605.5 L448.0,603.5 L449.0,601.5 L450.0,599.5 L451.0,597.5 L452.0,595.5 L453.0,593.5 L454.0,591.5 L455.0,589.5 L456.0,587.5 L457.0,585.5 L458.0,583.5 L459.0,581.5 L460.0,579.6 L461.0,577.6 L462.0,575.7 L463.0,573.7 L464.0,571.8 L465.0,569.8 L466.0,567.8 L467.0,565.8 L468.0,564.0 L469.0,562.4 L470.0,561.0 L471.0,559.7 L472.0,558.3 L473.0,557.0 L474.0,555.7 L475.0,554.3 L476.0,553.0 L477.0,551.7 L478.0,550.3 L479.0,549.0 L480.0,547.7 L481.0,546.3 L482.0,545.0 L483.0,543.7 L484.0,542.3 L485.0,541.0 L486.0,539.7 L487.0,538.3 L488.0,537.3 L489.0,536.8 L490.0,536.5 L491.0,536.2 L492.0,535.8 L493.0,535.5 L494.0,535.2 L495.0,534.8 L496.0,534.5 L497.0,534.2 L498.0,533.8 L499.0,533.5 L500.0,533.2 L501.0,532.9 L502.0,532.6 L503.0,532.2 L504.0,531.9 L505.0,531.6 L506.0,531.4 L507.0,532.1 L508.0,533.2 L509.0,534.3 L510.0,535.4 L511.0,536.5 L512.0,537.7 L513.0,538.8 L514.0,539.9 L515.0,541.1 L516.0,542.5 L517.0,543.8 L518.0,545.2 L519.0,546.6 L520.0,548.0 L521.0,549.4 L522.0,550.9 L523.0,552.5 L524.0,554.1 L525.0,555.9 L526.0,557.6 L527.0,559.4 L528.0,561.2 L529.0,563.1 L530.0,565.1 L531.0,567.0 L532.0,569.1 L533.0,571.1 L534.0,573.2 L535.0,575.4 L536.0,577.6 L537.0,579.7 L538.0,582.0 L539.0,584.2 L540.0,586.4 L541.0,588.6 L542.0,590.8 L543.0,593.1 L544.0,595.2 L545.0,597.4 L546.0,599.5 L547.0,601.6 L548.0,603.7 L549.0,605.7 L550.0,607.7 L551.0,609.7 L552.0,611.7 L553.0,613.6 L554.0,615.4 L555.0,617.3 L556.0,619.1 L557.0,620.8 L558.0,622.6 L559.0,624.2 L560.0,625.9 L561.0,627.4 L562.0,629.0 L563.0,630.4 L564.0,631.8 L565.0,633.2 L566.0,634.5 L567.0,635.7 L568.0,636.8 L569.0,637.9 L570.0,639.0 L571.0,639.9 L572.0,640.8 L573.0,641.7 L574.0,642.5 L575.0,643.2 L576.0,643.9 L577.0,644.5 L578.0,645.0 L579.0,645.5 L580.0,645.9 L581.0,646.2 L582.0,646.5 L583.0,646.8 L584.0,646.9 L585.0,647.0 L586.0,647.1 L587.0,647.0 L588.0,646.9 L589.0,646.8 L590.0,646.5 L591.0,646.2 L592.0,645.8 L593.0,645.3 L594.0,644.7 L595.0,644.1 L596.0,643.3 L597.0,642.5 L598.0,641.6 L599.0,640.6 L600.0,639.6 L601.0,638.5 L602.0,637.3 L603.0,636.1 L604.0,634.8 L605.0,633.5 L606.0,632.2 L607.0,630.9 L608.0,629.5 L609.0,628.0 L610.0,626.6 L611.0,625.1 L612.0,623.7 L613.0,622.2 L614.0,620.7 L615.0,619.2 L616.0,617.7 L617.0,616.2 L618.0,614.7 L619.0,613.2 L620.0,611.7 L621.0,610.2 L622.0,608.7 L623.0,607.2 L624.0,605.7 L625.0,604.2 L626.0,602.7 L627.0,601.1 L628.0,599.6 L629.0,598.0 L630.0,596.4 L631.0,594.8 L632.0,593.2 L633.0,591.6 L634.0,589.9 L635.0,588.2 L636.0,586.6 L637.0,584.9 L638.0,583.2 L639.0,581.4 L640.0,579.7 L641.0,578.0 L642.0,576.4 L643.0,574.7 L644.0,573.0 L645.0,571.4 L646.0,569.8 L647.0,568.2 L648.0,566.6 L649.0,565.0 L650.0,563.5 L651.0,561.9 L652.0,560.4 L653.0,558.8 L654.0,557.3 L655.0,555.7 L656.0,554.1 L657.0,552.6 L658.0,551.0 L659.0,549.3 L660.0,547.7 L661.0,546.0 L662.0,544.4 L663.0,542.7 L664.0,541.0 L665.0,539.3 L666.0,537.5 L667.0,535.8 L668.0,534.1 L669.0,532.4 L670.0,530.6 L671.0,528.9 L672.0,527.1 L673.0,525.3 L674.0,523.5 L675.0,521.6 L676.0,519.7 L677.0,517.9 L678.0,516.0 L679.0,514.2 L680.0,512.5 L681.0,510.6 L682.0,508.9 L683.0,507.2 L684.0,505.7 L685.0,504.2 L686.0,503.1 L687.0,502.3 L688.0,501.8 L689.0,501.4 L690.0,501.0 L691.0,500.8 L692.0,500.5 L693.0,500.2 L694.0,500.0 L695.0,499.8 L696.0,499.6 L697.0,499.4 L698.0,499.2 L699.0,499.0 L700.0,498.8 L701.0,498.6 L702.0,498.4 L703.0,497.8 L704.0,497.2 L705.0,496.5 L706.0,495.8 L707.0,495.1 L708.0,494.5 L709.0,493.9 L710.0,493.8 L711.0,493.8 L712.0,493.8 L713.0,493.8 L714.0,493.8 L715.0,493.8 L716.0,493.8 L717.0,493.9 L718.0,494.3 L719.0,494.9 L720.0,495.6 L721.0,496.2 L722.0,496.8 L723.0,497.5 L724.0,498.1 L725.0,498.8 L726.0,499.6 L727.0,500.8 L728.0,502.1 L729.0,503.3 L730.0,504.6 L731.0,505.8 L732.0,507.1 L733.0,508.8 L734.0,510.8 L735.0,512.8 L736.0,514.8 L737.0,516.8 L738.0,518.8 L739.0,520.8 L740.0,522.8 L741.0,524.8 L742.0,526.8 L743.0,528.8 L744.0,530.7 L745.0,532.1 L746.0,533.4 L747.0,534.6 L748.0,535.9 L749.0,537.1 L750.0,538.4 L751.0,539.5 L752.0,540.3 L753.0,541.1 L754.0,541.9 L755.0,542.7 L756.0,543.5 L757.0,544.3 L758.0,545.1 L759.0,546.1 L760.0,548.5 L761.0,551.3 L762.0,554.2 L763.0,557.0 L764.0,559.9 L765.0,562.7 L766.0,565.6 L767.0,568.4 L768.0,571.3 L769.0,574.0 L770.0,575.8 L771.0,577.6 L772.0,579.3 L773.0,581.1 L774.0,582.8 L775.0,584.6 L776.0,586.3 L777.0,588.1 L778.0,589.8 L779.0,591.6 L780.0,593.3 L781.0,595.1 L782.0,596.9 L783.0,599.2 L784.0,601.9 L785.0,604.5 L786.0,607.2 L787.0,609.9 L788.0,612.5 L789.0,615.2 L790.0,617.9 L791.0,620.5 L792.0,623.1 L793.0,625.5 L794.0,627.8 L795.0,630.1 L796.0,632.4 L797.0,634.7 L798.0,637.0 L799.0,639.2 L800.0,641.3 L801.0,643.4 L802.0,645.5 L803.0,647.5 L804.0,649.4 L805.0,651.3 L806.0,653.2 L807.0,655.1 L808.0,656.9 L809.0,658.7 L810.0,660.5 L811.0,662.3 L812.0,664.2 L813.0,666.0 L814.0,667.8 L815.0,669.7 L816.0,671.6 L817.0,673.4 L818.0,675.3 L819.0,677.2 L820.0,679.0 L821.0,680.8 L822.0,682.6 L823.0,684.3 L824.0,686.0 L825.0,687.7 L826.0,689.3 L827.0,690.9 L828.0,692.5 L829.0,694.1 L830.0,695.6 L831.0,697.1 L832.0,698.5 L833.0,700.0 L834.0,701.4 L835.0,702.8 L836.0,704.2 L837.0,705.6 L838.0,706.9 L839.0,708.2 L840.0,709.5 L841.0,710.8 L842.0,712.0 L843.0,713.3 L844.0,714.5 L845.0,715.7 L846.0,716.8 L847.0,717.9 L848.0,719.0 L849.0,720.1 L850.0,721.1 L851.0,722.1 L852.0,723.0 L853.0,723.9 L854.0,724.9 L855.0,725.8 L856.0,726.6 L857.0,727.5 L858.0,728.5 L859.0,729.4 L860.0,730.3 L861.0,731.3 L862.0,732.3 L863.0,733.3 L864.0,734.4 L865.0,735.4 L866.0,736.5 L867.0,737.6 L868.0,738.7 L869.0,739.9 L870.0,741.0 L871.0,742.2 L872.0,743.3 L873.0,744.5 L874.0,745.7 L875.0,746.9 L876.0,748.1 L877.0,749.3 L878.0,750.6 L879.0,751.8 L880.0,753.0 L881.0,754.3 L882.0,755.5 L883.0,756.7 L884.0,758.0 L885.0,759.2 L886.0,760.5 L887.0,761.7 L888.0,763.0 L889.0,764.2 L890.0,765.5 L891.0,766.8 L892.0,768.0 L893.0,769.3 L894.0,770.6 L895.0,771.8 L896.0,773.1 L897.0,774.4 L898.0,775.8 L899.0,777.1 L900.0,778.5 L901.0,779.9 L902.0,781.3 L903.0,782.7 L904.0,784.1 L905.0,785.6 L906.0,787.1 L907.0,788.6 L908.0,790.1 L909.0,791.7 L910.0,793.3 L911.0,794.9 L912.0,796.6 L913.0,798.3 L914.0,800.1 L915.0,801.8 L916.0,803.7 L917.0,805.5 L918.0,807.4 L919.0,809.3 L920.0,811.2 L921.0,813.2 L922.0,815.1 L923.0,817.1 L924.0,819.0 L925.0,820.9 L926.0,822.8 L927.0,824.7 L928.0,826.5 L929.0,828.4 L930.0,830.2 L931.0,832.0 L932.0,833.8 L933.0,835.6 L934.0,837.4 L935.0,839.2 L936.0,841.0 L937.0,842.8 L938.0,844.7 L939.0,846.5 L940.0,848.4 L941.0,850.2 L942.0,852.1 L943.0,854.1 L944.0,856.0 L945.0,858.0 L946.0,860.0 L947.0,862.0 L948.0,864.0 L949.0,866.0 L950.0,868.1 L951.0,870.2 L952.0,872.3 L953.0,874.4 L954.0,876.6 L955.0,878.8 L956.0,881.0 L957.0,883.2 L958.0,885.5 L959.0,887.7 L960.0,890.0 L961.0,892.2 L962.0,894.4 L963.0,896.6 L964.0,898.7 L965.0,900.8 L966.0,902.8 L967.0,904.7 L968.0,906.5 L969.0,908.3 L970.0,910.0 L971.0,911.7 L972.0,913.2 L973.0,914.8 L974.0,916.2 L975.0,917.7 L976.0,919.1 L977.0,920.5 L978.0,921.9 L979.0,923.3 L980.0,924.6 L981.0,925.9 L982.0,927.2 L983.0,928.4 L984.0,929.6 L985.0,930.8 L986.0,931.9 L987.0,933.1 L988.0,934.1 L989.0,935.2 L990.0,936.3 L991.0,937.3 L992.0,938.3 L993.0,939.3 L994.0,940.3 L995.0,941.3 L996.0,942.2 L997.0,943.2 L998.0,944.1 L999.0,945.0 L1000.0,945.9 L1001.0,946.8 L1002.0,947.7 L1003.0,948.5 L1004.0,949.3 L1005.0,950.1 L1006.0,950.9 L1007.0,951.7 L1008.0,952.5 L1009.0,953.2 L1010.0,954.0 L1011.0,954.7 L1012.0,955.5 L1013.0,956.2 L1014.0,956.9 L1015.0,957.6 L1016.0,958.3 L1017.0,959.0 L1018.0,959.6 L1019.0,960.2 L1020.0,960.8 L1021.0,961.4 L1022.0,961.9 L1023.0,962.4 L1024.0,962.8 L1025.0,963.2 L1026.0,963.6 L1027.0,964.0 L1028.0,964.4 L1029.0,964.7 L1030.0,965.1 L1031.0,965.4 L1032.0,965.8 L1033.0,966.1 L1034.0,966.4 L1035.0,966.7 L1036.0,967.1 L1037.0,967.4 L1038.0,967.7 L1039.0,968.0 L1040.0,968.3 L1041.0,968.5 L1042.0,968.8 L1043.0,969.1 L1044.0,969.3 L1045.0,969.6 L1046.0,969.8 L1047.0,970.0 L1048.0,970.2 L1049.0,970.5 L1050.0,970.7 L1051.0,970.9 L1052.0,971.1 L1053.0,971.3 L1054.0,971.5 L1055.0,971.7 L1056.0,971.9 L1057.0,972.1 L1058.0,972.2 L1059.0,972.4 L1060.0,972.5 L1061.0,972.6 L1062.0,972.7 L1063.0,972.8 L1064.0,972.9 L1065.0,972.9 L1066.0,973.0 L1067.0,973.0 L1068.0,973.0 L1069.0,973.0 L1070.0,973.0 L1071.0,973.0 L1072.0,973.0 L1073.0,973.0 L1074.0,973.1 L1075.0,973.1 L1076.0,973.1 L1077.0,973.1 L1078.0,973.1 L1079.0,973.1 L1080.0,973.1 L1081.0,973.2 L1082.0,973.2 L1083.0,973.3 L1084.0,973.3 L1085.0,973.4 L1086.0,973.4 L1087.0,973.5 L1088.0,973.5 L1089.0,973.6 L1090.0,973.7 L1091.0,973.7 L1092.0,973.8 L1093.0,973.9 L1094.0,973.9 L1095.0,974.0 L1096.0,974.1 L1097.0,974.2 L1098.0,974.3 L1099.0,974.4 L1100.0,974.5 L1101.0,974.7 L1102.0,974.8 L1103.0,975.0 L1104.0,975.2 L1105.0,975.3 L1106.0,975.5 L1107.0,975.7 L1108.0,975.9 L1109.0,976.1 L1110.0,976.3 L1111.0,976.6 L1112.0,976.8 L1113.0,977.0 L1114.0,977.2 L1115.0,977.5 L1116.0,977.7 L1117.0,978.0 L1118.0,978.2 L1119.0,978.5 L1120.0,978.8 L1121.0,979.1 L1122.0,979.4 L1123.0,979.8 L1124.0,980.1 L1125.0,980.5 L1126.0,980.9 L1127.0,981.3 L1128.0,981.7 L1129.0,982.1 L1130.0,982.5 L1131.0,982.9 L1132.0,983.3 L1133.0,983.7 L1134.0,984.2 L1135.0,984.6 L1136.0,985.1 L1137.0,985.5 L1138.0,986.0 L1139.0,986.5 L1140.0,987.0 L1141.0,987.5 L1142.0,988.1 L1143.0,988.6 L1144.0,989.2 L1145.0,989.8 L1146.0,990.4 L1147.0,991.1 L1148.0,991.7 L1149.0,992.4 L1150.0,993.0 L1151.0,993.7 L1152.0,994.3 L1153.0,995.0 L1154.0,995.7 L1155.0,996.3 L1156.0,997.0 L1157.0,997.7 L1158.0,998.3 L1159.0,999.0 L1160.0,999.7 L1161.0,1000.3 L1162.0,1001.0 L1163.0,1001.7 L1164.0,1002.3 L1165.0,1003.0 L1166.0,1003.7 L1167.0,1004.3 L1168.0,1005.0 L1169.0,1005.7 L1170.0,1006.3 L1171.0,1007.0 L1172.0,1007.7 L1173.0,1008.4 L1174.0,1009.0 L1175.0,1009.7 L1176.0,1010.4 L1177.0,1011.1 L1178.0,1011.8 L1179.0,1012.5 L1180.0,1013.2 L1181.0,1014.0 L1182.0,1014.7 L1183.0,1015.5 L1184.0,1016.3 L1185.0,1017.1 L1186.0,1017.9 L1187.0,1018.7 L1188.0,1019.5 L1189.0,1020.3 L1190.0,1021.1 L1191.0,1022.0 L1192.0,1022.8 L1193.0,1023.6 L1194.0,1024.5 L1195.0,1025.3 L1196.0,1026.2 L1197.0,1027.0 L1198.0,1027.9 L1199.0,1028.8 L1200.0,1029.7 L1201.0,1030.6 L1202.0,1031.5 L1203.0,1032.4 L1204.0,1033.4 L1205.0,1034.3 L1206.0,1035.3 L1207.0,1036.3 L1208.0,1037.3 L1209.0,1038.3 L1210.0,1039.2 L1211.0,1040.2 L1212.0,1041.2 L1213.0,1042.2 L1214.0,1043.3 L1215.0,1044.3 L1216.0,1045.3 L1217.0,1046.3 L1218.0,1047.4 L1219.0,1048.4 L1220.0,1049.5 L1221.0,1050.6 L1222.0,1051.7 L1223.0,1052.8 L1224.0,1053.9 L1225.0,1055.1 L1226.0,1056.2 L1227.0,1057.4 L1228.0,1058.6 L1229.0,1059.8 L1230.0,1060.9 L1231.0,1062.1 L1232.0,1063.3 L1233.0,1064.5 L1234.0,1065.6 L1235.0,1066.8 L1236.0,1068.0 L1237.0,1069.1 L1238.0,1070.3 L1239.0,1071.4 L1240.0,1072.5 L1241.0,1073.6 L1242.0,1074.8 L1243.0,1075.9 L1244.0,1077.0 L1245.0,1078.2 L1246.0,1079.4 L1247.0,1080.6 L1248.0,1081.8 L1249.0,1083.1 L1250.0,1084.4 L1251.0,1085.7 L1252.0,1087.0 L1253.0,1088.4 L1254.0,1089.7 L1255.0,1091.1 L1256.0,1092.5 L1257.0,1093.9 L1258.0,1095.3 L1259.0,1096.8 L1260.0,1098.2 L1261.0,1099.7 L1262.0,1101.2 L1263.0,1102.7 L1264.0,1104.2 L1265.0,1105.8 L1266.0,1107.3 L1267.0,1108.9 L1268.0,1110.5 L1269.0,1112.1 L1270.0,1113.8 L1271.0,1115.4 L1272.0,1117.1 L1273.0,1118.8 L1274.0,1120.5 L1275.0,1122.2 L1276.0,1123.9 L1277.0,1125.6 L1278.0,1127.4 L1279.0,1129.1 L1280.0,1130.9 L1281.0,1132.7 L1282.0,1134.5 L1283.0,1136.3 L1284.0,1138.2 L1285.0,1140.0 L1286.0,1141.9 L1287.0,1143.7 L1288.0,1145.6 L1289.0,1147.5 L1290.0,1149.4 L1291.0,1151.2 L1292.0,1153.1 L1293.0,1155.0 L1294.0,1156.9 L1295.0,1158.7 L1296.0,1160.6 L1297.0,1162.5 L1298.0,1164.4 L1299.0,1166.2 L1300.0,1168.1 L1301.0,1170.0 L1302.0,1171.9 L1303.0,1173.7 L1304.0,1175.6 L1305.0,1177.5 L1306.0,1179.4 L1307.0,1181.2 L1308.0,1183.1 L1309.0,1185.0 L1310.0,1186.8 L1311.0,1188.7 L1312.0,1190.6 L1313.0,1192.4 L1314.0,1194.3 L1315.0,1196.2 L1316.0,1198.0 L1317.0,1199.8 L1318.0,1201.7 L1319.0,1203.5 L1320.0,1205.3 L1321.0,1207.1 L1322.0,1208.9 L1323.0,1210.6 L1324.0,1212.4 L1325.0,1214.2 L1326.0,1215.9 L1327.0,1217.6 L1328.0,1219.4 L1329.0,1221.0 L1330.0,1222.7 L1331.0,1224.4 L1332.0,1226.0 L1333.0,1227.7 L1334.0,1229.3 L1335.0,1230.9 L1336.0,1232.4 L1337.0,1234.0 L1338.0,1235.5 L1339.0,1237.0 L1340.0,1238.5 L1341.0,1240.0 L1342.0,1241.5 L1343.0,1242.9 L1344.0,1244.4 L1345.0,1245.8 L1346.0,1247.3 L1347.0,1248.7 L1348.0,1250.1 L1349.0,1251.4 L1350.0,1252.8 L1351.0,1254.2 L1352.0,1255.5 L1353.0,1256.8 L1354.0,1258.2 L1355.0,1259.5 L1356.0,1260.8 L1357.0,1262.0 L1358.0,1263.3 L1359.0,1264.5 L1360.0,1265.7 L1361.0,1266.9 L1362.0,1268.0 L1363.0,1269.2 L1364.0,1270.3 L1365.0,1271.3 L1366.0,1272.4 L1367.0,1273.4 L1368.0,1274.5 L1369.0,1275.5 L1370.0,1276.5 L1371.0,1277.5 L1372.0,1278.5 L1373.0,1279.4 L1374.0,1280.4 L1375.0,1281.3 L1376.0,1282.3 L1377.0,1283.2 L1378.0,1284.1 L1379.0,1285.0 L1380.0,1285.9 L1381.0,1286.7 L1382.0,1287.6 L1383.0,1288.4 L1384.0,1289.2 L1385.0,1290.0 L1386.0,1290.8 L1387.0,1291.6 L1388.0,1292.4 L1389.0,1293.1 L1390.0,1293.9 L1391.0,1294.6 L1392.0,1295.3 L1393.0,1296.0 L1394.0,1296.7 L1395.0,1297.4 L1396.0,1298.0 L1397.0,1298.6 L1398.0,1299.2 L1399.0,1299.7 L1400.0,1300.3 L1401.0,1300.8 L1402.0,1301.3 L1403.0,1301.8 L1404.0,1302.3 L1405.0,1302.8 L1406.0,1303.3 L1407.0,1303.8 L1408.0,1304.3 L1409.0,1304.8 L1410.0,1305.3 L1411.0,1305.7 L1412.0,1306.2 L1413.0,1306.6 L1414.0,1307.1 L1415.0,1307.5 L1416.0,1307.9 L1417.0,1308.3 L1418.0,1308.7 L1419.0,1309.0 L1420.0,1309.4 L1421.0,1309.7 L1422.0,1310.1 L1423.0,1310.4 L1424.0,1310.8 L1425.0,1311.1 L1426.0,1311.4 L1427.0,1311.8 L1428.0,1312.1 L1429.0,1312.4 L1430.0,1312.7 L1431.0,1313.0 L1432.0,1313.4 L1433.0,1313.7 L1434.0,1314.0 L1435.0,1314.3 L1436.0,1314.5 L1437.0,1314.8 L1438.0,1315.1 L1439.0,1315.4 L1440.0,1315.6 L1441.0,1315.9 L1442.0,1316.1 L1443.0,1316.4 L1444.0,1316.6 L1445.0,1316.9 L1446.0,1317.1 L1447.0,1317.4 L1448.0,1317.6 L1449.0,1317.9 L1450.0,1318.1 L1451.0,1318.3 L1452.0,1318.6 L1453.0,1318.8 L1454.0,1319.0 L1455.0,1319.2 L1456.0,1319.4 L1457.0,1319.6 L1458.0,1319.8 L1459.0,1320.0 L1460.0,1320.1 L1461.0,1320.3 L1462.0,1320.5 L1463.0,1320.6 L1464.0,1320.8 L1465.0,1321.0 L1466.0,1321.1 L1467.0,1321.3 L1468.0,1321.4 L1469.0,1321.5 L1470.0,1321.7 L1471.0,1321.8 L1472.0,1321.9 L1473.0,1322.0 L1474.0,1322.1 L1475.0,1322.2 L1476.0,1322.3 L1477.0,1322.4 L1478.0,1322.5 L1479.0,1322.6 L1480.0,1322.6 L1481.0,1322.7 L1482.0,1322.8 L1483.0,1322.9 L1484.0,1322.9 L1485.0,1322.9 L1486.0,1323.0 L1487.0,1323.0 L1488.0,1323.0 L1489.0,1322.9 L1490.0,1322.9 L1491.0,1322.8 L1492.0,1322.7 L1493.0,1322.6 L1494.0,1322.4 L1495.0,1322.3 L1496.0,1322.1 L1497.0,1321.9 L1498.0,1321.8 L1499.0,1321.6 L1500.0,1321.4 L1501.0,1321.2 L1502.0,1321.0 L1503.0,1320.9 L1504.0,1320.7 L1505.0,1320.6 L1506.0,1320.4 L1507.0,1320.3 L1508.0,1320.2 L1509.0,1320.1 L1510.0,1320.0 L1511.0,1320.0 L1512.0,1319.9 L1513.0,1319.9 L1514.0,1319.9 L1515.0,1319.9 L1516.0,1320.0 L1517.0,1320.0 L1518.0,1320.1 L1519.0,1320.1 L1520.0,1320.2 L1521.0,1320.2 L1522.0,1320.3 L1523.0,1320.4 L1524.0,1320.4 L1525.0,1320.5 L1526.0,1320.6 L1527.0,1320.6 L1528.0,1320.7 L1529.0,1320.8 L1530.0,1320.8 L1531.0,1320.9 L1532.0,1321.0 L1533.0,1321.0 L1534.0,1321.1 L1535.0,1321.2 L1536.0,1321.2 L1537.0,1321.3 L1538.0,1321.3 L1539.0,1321.4 L1540.0,1321.4 L1541.0,1321.5 L1542.0,1321.5 L1543.0,1321.6 L1544.0,1321.6 L1545.0,1321.6 L1546.0,1321.7 L1547.0,1321.7 L1548.0,1321.8 L1549.0,1321.8 L1550.0,1321.8 L1551.0,1321.9 L1552.0,1321.9 L1553.0,1321.9 L1554.0,1322.0 L1555.0,1322.0 L1556.0,1322.0 L1557.0,1322.1 L1558.0,1322.1 L1559.0,1322.1 L1560.0,1322.2 L1561.0,1322.2 L1562.0,1322.2 L1563.0,1322.2 L1564.0,1322.3 L1565.0,1322.3 L1566.0,1322.3 L1567.0,1322.4 L1568.0,1322.4 L1569.0,1322.4 L1570.0,1322.5 L1571.0,1322.5 L1572.0,1322.5 L1573.0,1322.6 L1574.0,1322.6 L1575.0,1322.6 L1576.0,1322.7 L1577.0,1322.7 L1578.0,1322.7 L1579.0,1322.7 L1580.0,1322.7 L1581.0,1322.8 L1582.0,1322.8 L1583.0,1322.8 L1584.0,1322.8 L1585.0,1322.8 L1586.0,1322.8 L1587.0,1322.8 L1588.0,1322.8 L1589.0,1322.8 L1590.0,1322.8 L1591.0,1322.8 L1592.0,1322.8 L1593.0,1322.8 L1594.0,1322.8 L1595.0,1322.8 L1596.0,1322.8 L1597.0,1322.8 L1598.0,1322.8 L1599.0,1322.8 L1600.0,1322.8 L1601.0,1322.8 L1602.0,1322.8 L1603.0,1322.8 L1604.0,1322.8 L1605.0,1322.8 L1606.0,1322.8 L1607.0,1322.8 L1608.0,1322.8 L1609.0,1322.8 L1610.0,1322.8 L1611.0,1322.8 L1612.0,1322.8 L1613.0,1322.8 L1614.0,1322.8 L1615.0,1322.8 L1616.0,1322.8 L1617.0,1322.8 L1618.0,1322.8 L1619.0,1322.8 L1620.0,1322.8 L1621.0,1322.8 L1622.0,1322.8 L1623.0,1322.8 L1624.0,1322.8 L1625.0,1322.8 L1626.0,1322.8 L1627.0,1322.8 L1628.0,1322.8 L1629.0,1322.8 L1630.0,1322.8 L1631.0,1322.8 L1632.0,1322.9 L1633.0,1322.9 L1634.0,1322.9 L1635.0,1322.9 L1636.0,1322.9 L1637.0,1322.9 L1638.0,1322.9 L1639.0,1322.9 L1640.0,1322.9 L1641.0,1322.9 L1642.0,1322.9 L1643.0,1322.9 L1644.0,1322.9 L1645.0,1322.9 L1646.0,1322.9 L1647.0,1322.9 L1648.0,1322.9 L1649.0,1322.9 L1650.0,1322.9 L1651.0,1322.9 L1652.0,1322.9 L1653.0,1322.9 L1654.0,1322.9 L1655.0,1322.9 L1656.0,1322.9 L1657.0,1322.9 L1658.0,1322.9 L1659.0,1322.9 L1660.0,1322.9 L1661.0,1322.9 L1662.0,1322.9 L1663.0,1322.9 L1664.0,1322.9 L1665.0,1322.9 L1666.0,1322.9 L1667.0,1322.9 L1668.0,1322.9 L1669.0,1322.9 L1670.0,1322.9 L1671.0,1322.9 L1672.0,1322.9 L1673.0,1322.9 L1674.0,1322.9 L1675.0,1322.9 L1676.0,1322.9 L1677.0,1322.9 L1678.0,1322.9 L1679.0,1322.9 L1680.0,1322.9 L1681.0,1322.9 L1682.0,1322.9 L1683.0,1322.9 L1684.0,1322.9 L1685.0,1322.9 L1686.0,1322.9 L1687.0,1322.9 L1688.0,1322.9 L1689.0,1322.9 L1690.0,1322.9 L1691.0,1322.9 L1692.0,1322.9 L1693.0,1322.9 L1694.0,1322.9 L1695.0,1322.9 L1696.0,1322.9 L1697.0,1322.9 L1698.0,1322.9 L1699.0,1322.9 L1700.0,1322.9 L1701.0,1322.9 L1702.0,1322.9 L1703.0,1322.9 L1704.0,1322.9 L1705.0,1322.9 L1706.0,1322.9 L1707.0,1322.9 L1708.0,1322.9 L1709.0,1322.9 L1710.0,1322.9 L1711.0,1322.9 L1712.0,1322.9 L1713.0,1322.9 L1714.0,1322.9 L1715.0,1322.9 L1716.0,1322.9 L1717.0,1322.9 L1718.0,1322.9 L1719.0,1322.9 L1720.0,1322.9 L1721.0,1322.9 L1722.0,1322.9 L1723.0,1322.9 L1724.0,1322.9 L1725.0,1322.9 L1726.0,1322.9 L1727.0,1322.9 L1728.0,1322.9 L1729.0,1322.9 L1730.0,1322.9 L1731.0,1322.9 L1732.0,1322.9 L1733.0,1322.9 L1734.0,1323.0 L1735.0,1323.0 L1736.0,1323.0 L1737.0,1323.0 L1738.0,1323.0 L1739.0,1323.0 L1740.0,1323.0 L1741.0,1323.0 L1742.0,1323.0 L1743.0,1323.0 L1744.0,1323.0 L1745.0,1323.0 L1746.0,1323.0 L1747.0,1323.0 L1748.0,1323.0 L1749.0,1323.0 L1750.0,1323.0 L1751.0,1323.0 L1752.0,1323.0 L1753.0,1323.0 L1754.0,1323.0 L1755.0,1323.0 L1756.0,1323.0 L1757.0,1323.0 L1758.0,1323.0 L1759.0,1323.0 L1760.0,1323.0 L1761.0,1323.0 L1762.0,1323.0 L1763.0,1323.0 L1764.0,1323.0 L1765.0,1323.0 L1766.0,1323.0 L1767.0,1323.0 L1768.0,1323.0 L1769.0,1323.0 L1770.0,1323.0 L1771.0,1323.0 L1772.0,1323.0 L1773.0,1323.0 L1774.0,1323.0 L1775.0,1323.0 L1776.0,1323.0 L1777.0,1323.0 L1778.0,1323.0 L1779.0,1323.0 L1780.0,1323.0 L1781.0,1323.0 L1782.0,1323.0 L1783.0,1323.0 L1784.0,1323.0 L1785.0,1323.0" stroke="#F4822C"/>
<path d="M233.0,929.5 L234.0,930.2 L235.0,931.0 L236.0,931.7 L237.0,932.5 L238.0,933.2 L239.0,933.9 L240.0,934.6 L241.0,935.3 L242.0,935.9 L243.0,936.6 L244.0,937.2 L245.0,937.7 L246.0,938.3 L247.0,938.8 L248.0,939.3 L249.0,939.8 L250.0,940.3 L251.0,940.8 L252.0,941.3 L253.0,941.7 L254.0,942.2 L255.0,942.7 L256.0,943.2 L257.0,943.7 L258.0,944.1 L259.0,944.6 L260.0,945.1 L261.0,945.5 L262.0,945.9 L263.0,946.3 L264.0,946.7 L265.0,947.1 L266.0,947.4 L267.0,947.6 L268.0,947.9 L269.0,948.0 L270.0,948.2 L271.0,948.3 L272.0,948.4 L273.0,948.4 L274.0,948.4 L275.0,948.3 L276.0,948.3 L277.0,948.1 L278.0,948.0 L279.0,947.7 L280.0,947.5 L281.0,947.1 L282.0,946.8 L283.0,946.4 L284.0,945.9 L285.0,945.4 L286.0,944.8 L287.0,944.2 L288.0,943.6 L289.0,943.0 L290.0,942.3 L291.0,941.5 L292.0,940.8 L293.0,940.0 L294.0,939.2 L295.0,938.3 L296.0,937.4 L297.0,936.5 L298.0,935.5 L299.0,934.6 L300.0,933.6 L301.0,932.5 L302.0,931.5 L303.0,930.5 L304.0,929.4 L305.0,928.4 L306.0,927.3 L307.0,926.2 L308.0,925.2 L309.0,924.1 L310.0,923.1 L311.0,922.0 L312.0,920.9 L313.0,919.9 L314.0,918.8 L315.0,917.7 L316.0,916.6 L317.0,915.6 L318.0,914.5 L319.0,913.4 L320.0,912.3 L321.0,911.2 L322.0,910.1 L323.0,908.9 L324.0,907.8 L325.0,906.6 L326.0,905.5 L327.0,904.3 L328.0,903.1 L329.0,901.8 L330.0,900.6 L331.0,899.4 L332.0,898.1 L333.0,896.8 L334.0,895.5 L335.0,894.2 L336.0,892.9 L337.0,891.5 L338.0,890.2 L339.0,888.8 L340.0,887.4 L341.0,886.0 L342.0,884.5 L343.0,883.1 L344.0,881.6 L345.0,880.1 L346.0,878.6 L347.0,877.0 L348.0,875.5 L349.0,873.9 L350.0,872.3 L351.0,870.7 L352.0,869.1 L353.0,867.4 L354.0,865.7 L355.0,863.9 L356.0,862.1 L357.0,860.3 L358.0,858.5 L359.0,856.6 L360.0,854.6 L361.0,852.6 L362.0,850.7 L363.0,848.7 L364.0,846.6 L365.0,844.6 L366.0,842.6 L367.0,840.6 L368.0,838.6 L369.0,836.6 L370.0,834.6 L371.0,832.6 L372.0,830.6 L373.0,828.6 L374.0,826.5 L375.0,824.5 L376.0,822.3 L377.0,820.2 L378.0,818.1 L379.0,815.9 L380.0,813.8 L381.0,811.6 L382.0,809.5 L383.0,807.4 L384.0,805.3 L385.0,803.2 L386.0,801.1 L387.0,799.0 L388.0,797.0 L389.0,794.9 L390.0,792.9 L391.0,790.9 L392.0,788.9 L393.0,787.0 L394.0,785.0 L395.0,783.1 L396.0,781.2 L397.0,779.3 L398.0,777.4 L399.0,775.6 L400.0,773.8 L401.0,772.0 L402.0,770.2 L403.0,768.5 L404.0,766.8 L405.0,765.1 L406.0,763.4 L407.0,761.8 L408.0,760.2 L409.0,758.5 L410.0,756.9 L411.0,755.4 L412.0,753.8 L413.0,752.2 L414.0,750.6 L415.0,749.1 L416.0,747.5 L417.0,746.0 L418.0,744.4 L419.0,742.9 L420.0,741.4 L421.0,739.8 L422.0,738.3 L423.0,736.8 L424.0,735.2 L425.0,733.7 L426.0,732.2 L427.0,730.7 L428.0,729.2 L429.0,727.7 L430.0,726.2 L431.0,724.7 L432.0,723.2 L433.0,721.8 L434.0,720.3 L435.0,718.9 L436.0,717.5 L437.0,716.1 L438.0,714.6 L439.0,713.3 L440.0,711.9 L441.0,710.5 L442.0,709.2 L443.0,707.9 L444.0,706.6 L445.0,705.3 L446.0,704.1 L447.0,702.8 L448.0,701.6 L449.0,700.4 L450.0,699.3 L451.0,698.1 L452.0,697.0 L453.0,695.9 L454.0,694.7 L455.0,693.6 L456.0,692.5 L457.0,691.3 L458.0,690.2 L459.0,689.1 L460.0,687.9 L461.0,686.8 L462.0,685.6 L463.0,684.4 L464.0,683.3 L465.0,682.1 L466.0,681.0 L467.0,679.8 L468.0,678.7 L469.0,677.5 L470.0,676.4 L471.0,675.3 L472.0,674.2 L473.0,673.1 L474.0,672.1 L475.0,671.1 L476.0,670.0 L477.0,669.1 L478.0,668.1 L479.0,667.1 L480.0,666.2 L481.0,665.3 L482.0,664.3 L483.0,663.4 L484.0,662.5 L485.0,661.6 L486.0,660.8 L487.0,659.9 L488.0,659.0 L489.0,658.2 L490.0,657.3 L491.0,656.5 L492.0,655.7 L493.0,654.9 L494.0,654.1 L495.0,653.3 L496.0,652.5 L497.0,651.8 L498.0,651.1 L499.0,650.4 L500.0,649.7 L501.0,649.1 L502.0,648.5 L503.0,647.9 L504.0,647.4 L505.0,646.9 L506.0,646.5 L507.0,646.2 L508.0,645.8 L509.0,645.6 L510.0,645.3 L511.0,645.2 L512.0,645.0 L513.0,645.0 L514.0,645.0 L515.0,645.0 L516.0,645.1 L517.0,645.3 L518.0,645.6 L519.0,646.0 L520.0,646.4 L521.0,646.9 L522.0,647.5 L523.0,648.1 L524.0,648.8 L525.0,649.5 L526.0,650.3 L527.0,651.1 L528.0,651.9 L529.0,652.7 L530.0,653.6 L531.0,654.5 L532.0,655.4 L533.0,656.3 L534.0,657.2 L535.0,658.2 L536.0,659.2 L537.0,660.1 L538.0,661.2 L539.0,662.2 L540.0,663.3 L541.0,664.4 L542.0,665.5 L543.0,666.6 L544.0,667.8 L545.0,669.1 L546.0,670.3 L547.0,671.6 L548.0,672.9 L549.0,674.2 L550.0,675.5 L551.0,676.9 L552.0,678.1 L553.0,679.4 L554.0,680.6 L555.0,681.8 L556.0,682.9 L557.0,683.9 L558.0,684.9 L559.0,685.8 L560.0,686.7 L561.0,687.5 L562.0,688.3 L563.0,689.0 L564.0,689.7 L565.0,690.3 L566.0,690.8 L567.0,691.3 L568.0,691.7 L569.0,692.0 L570.0,692.2 L571.0,692.4 L572.0,692.5 L573.0,692.6 L574.0,692.6 L575.0,692.5 L576.0,692.4 L577.0,692.2 L578.0,692.0 L579.0,691.8 L580.0,691.5 L581.0,691.2 L582.0,690.8 L583.0,690.4 L584.0,690.0 L585.0,689.6 L586.0,689.1 L587.0,688.5 L588.0,688.0 L589.0,687.3 L590.0,686.7 L591.0,686.0 L592.0,685.3 L593.0,684.6 L594.0,683.8 L595.0,683.0 L596.0,682.1 L597.0,681.2 L598.0,680.3 L599.0,679.3 L600.0,678.3 L601.0,677.2 L602.0,676.1 L603.0,674.9 L604.0,673.7 L605.0,672.5 L606.0,671.3 L607.0,670.0 L608.0,668.6 L609.0,667.3 L610.0,665.8 L611.0,664.4 L612.0,662.9 L613.0,661.4 L614.0,659.8 L615.0,658.2 L616.0,656.5 L617.0,654.8 L618.0,653.1 L619.0,651.3 L620.0,649.5 L621.0,647.6 L622.0,645.8 L623.0,644.0 L624.0,642.1 L625.0,640.3 L626.0,638.1 L627.0,635.8 L628.0,633.5 L629.0,631.1 L630.0,628.6 L631.0,626.1 L632.0,623.6 L633.0,621.1 L634.0,618.6 L635.0,616.1 L636.0,613.6 L637.0,611.1 L638.0,608.6 L639.0,605.6 L640.0,602.3 L641.0,599.0 L642.0,595.6 L643.0,592.3 L644.0,589.0 L645.0,585.6 L646.0,582.3 L647.0,579.0 L648.0,575.7 L649.0,572.8 L650.0,570.3 L651.0,567.8 L652.0,565.3 L653.0,562.8 L654.0,560.3 L655.0,557.8 L656.0,555.3 L657.0,552.8 L658.0,550.3 L659.0,547.9 L660.0,545.3 L661.0,542.2 L662.0,538.8 L663.0,535.3 L664.0,531.8 L665.0,528.3 L666.0,524.8 L667.0,521.3 L668.0,517.6 L669.0,513.8 L670.0,510.1 L671.0,506.3 L672.0,502.6 L673.0,498.8 L674.0,495.3 L675.0,492.4 L676.0,489.6 L677.0,486.8 L678.0,484.0 L679.0,481.2 L680.0,478.3 L681.0,475.5 L682.0,472.6 L683.0,469.8 L684.0,466.9 L685.0,464.4 L686.0,462.1 L687.0,459.8 L688.0,457.6 L689.0,455.3 L690.0,452.8 L691.0,448.9 L692.0,444.4 L693.0,440.0 L694.0,435.9 L695.0,432.2 L696.0,428.6 L697.0,425.0 L698.0,421.3 L699.0,417.3 L700.0,413.3 L701.0,409.5 L702.0,406.6 L703.0,403.9 L704.0,401.2 L705.0,398.6 L706.0,395.9 L707.0,393.5 L708.0,391.2 L709.0,388.9 L710.0,386.5 L711.0,384.2 L712.0,381.4 L713.0,378.7 L714.0,375.9 L715.0,373.1 L716.0,370.8 L717.0,368.8 L718.0,366.9 L719.0,365.3 L720.0,364.4 L721.0,363.5 L722.0,362.6 L723.0,361.8 L724.0,360.9 L725.0,359.7 L726.0,358.1 L727.0,356.5 L728.0,354.8 L729.0,352.1 L730.0,347.7 L731.0,343.3 L732.0,340.9 L733.0,339.2 L734.0,337.6 L735.0,336.0 L736.0,334.8 L737.0,333.8 L738.0,332.8 L739.0,331.8 L740.0,330.7 L741.0,329.6 L742.0,328.2 L743.0,326.9 L744.0,325.6 L745.0,324.0 L746.0,320.8 L747.0,316.3 L748.0,311.6 L749.0,306.8 L750.0,303.0 L751.0,300.8 L752.0,299.1 L753.0,299.6 L754.0,300.8 L755.0,301.9 L756.0,303.1 L757.0,304.1 L758.0,303.5 L759.0,302.6 L760.0,301.6 L761.0,300.6 L762.0,299.6 L763.0,299.1 L764.0,298.8 L765.0,298.5 L766.0,298.1 L767.0,297.5 L768.0,294.7 L769.0,290.9 L770.0,285.7 L771.0,278.5 L772.0,274.1 L773.0,271.9 L774.0,271.0 L775.0,273.9 L776.0,277.4 L777.0,282.3 L778.0,287.5 L779.0,287.5 L780.0,286.6 L781.0,285.2 L782.0,280.8 L783.0,274.6 L784.0,272.3 L785.0,271.1 L786.0,271.8 L787.0,274.8 L788.0,278.4 L789.0,283.9 L790.0,289.9 L791.0,295.9 L792.0,301.8 L793.0,307.1 L794.0,312.0 L795.0,314.9 L796.0,312.8 L797.0,310.1 L798.0,307.4 L799.0,305.2 L800.0,303.2 L801.0,301.2 L802.0,299.2 L803.0,297.6 L804.0,298.6 L805.0,300.6 L806.0,302.6 L807.0,304.5 L808.0,306.1 L809.0,307.3 L810.0,308.6 L811.0,309.8 L812.0,311.1 L813.0,312.3 L814.0,313.7 L815.0,315.9 L816.0,318.2 L817.0,320.5 L818.0,322.9 L819.0,325.2 L820.0,327.7 L821.0,330.2 L822.0,332.6 L823.0,334.2 L824.0,335.3 L825.0,336.3 L826.0,337.3 L827.0,338.3 L828.0,339.3 L829.0,340.4 L830.0,342.2 L831.0,344.2 L832.0,346.2 L833.0,348.3 L834.0,351.0 L835.0,353.9 L836.0,356.9 L837.0,360.1 L838.0,363.4 L839.0,366.6 L840.0,368.6 L841.0,370.3 L842.0,372.0 L843.0,373.6 L844.0,375.2 L845.0,376.5 L846.0,377.7 L847.0,378.8 L848.0,379.9 L849.0,381.1 L850.0,382.5 L851.0,386.1 L852.0,389.1 L853.0,390.5 L854.0,391.7 L855.0,392.9 L856.0,393.9 L857.0,394.4 L858.0,394.8 L859.0,395.1 L860.0,395.5 L861.0,395.9 L862.0,396.4 L863.0,397.8 L864.0,400.4 L865.0,403.2 L866.0,405.9 L867.0,408.4 L868.0,410.9 L869.0,413.3 L870.0,414.7 L871.0,415.8 L872.0,416.8 L873.0,417.8 L874.0,418.8 L875.0,419.8 L876.0,421.0 L877.0,423.3 L878.0,425.8 L879.0,428.3 L880.0,430.2 L881.0,431.8 L882.0,433.4 L883.0,435.1 L884.0,437.1 L885.0,439.6 L886.0,442.1 L887.0,444.4 L888.0,446.3 L889.0,448.1 L890.0,449.9 L891.0,451.6 L892.0,453.1 L893.0,454.5 L894.0,456.0 L895.0,457.4 L896.0,458.9 L897.0,460.7 L898.0,463.1 L899.0,465.6 L900.0,468.1 L901.0,470.6 L902.0,473.1 L903.0,475.6 L904.0,478.1 L905.0,480.6 L906.0,483.1 L907.0,485.6 L908.0,488.1 L909.0,490.6 L910.0,493.1 L911.0,495.6 L912.0,498.1 L913.0,500.6 L914.0,503.1 L915.0,505.6 L916.0,508.1 L917.0,510.5 L918.0,512.7 L919.0,514.8 L920.0,516.9 L921.0,519.0 L922.0,521.2 L923.0,523.3 L924.0,525.5 L925.0,527.8 L926.0,530.1 L927.0,532.4 L928.0,534.6 L929.0,537.0 L930.0,539.5 L931.0,542.3 L932.0,545.0 L933.0,547.8 L934.0,551.0 L935.0,555.8 L936.0,561.1 L937.0,566.2 L938.0,571.2 L939.0,576.1 L940.0,581.0 L941.0,585.9 L942.0,590.7 L943.0,595.5 L944.0,600.2 L945.0,604.9 L946.0,609.6 L947.0,614.3 L948.0,619.0 L949.0,623.6 L950.0,628.2 L951.0,632.8 L952.0,637.4 L953.0,641.9 L954.0,646.4 L955.0,650.9 L956.0,655.4 L957.0,659.9 L958.0,664.4 L959.0,668.8 L960.0,673.3 L961.0,677.7 L962.0,682.1 L963.0,686.5 L964.0,690.8 L965.0,695.1 L966.0,699.4 L967.0,703.7 L968.0,707.9 L969.0,712.2 L970.0,716.4 L971.0,720.6 L972.0,724.8 L973.0,729.0 L974.0,733.2 L975.0,737.4 L976.0,741.5 L977.0,745.6 L978.0,749.6 L979.0,753.6 L980.0,757.5 L981.0,761.4 L982.0,765.2 L983.0,768.9 L984.0,772.5 L985.0,776.2 L986.0,779.8 L987.0,783.3 L988.0,786.9 L989.0,790.4 L990.0,793.9 L991.0,797.5 L992.0,801.0 L993.0,804.6 L994.0,808.1 L995.0,811.7 L996.0,815.3 L997.0,819.0 L998.0,822.7 L999.0,826.4 L1000.0,830.1 L1001.0,833.9 L1002.0,837.6 L1003.0,841.4 L1004.0,845.2 L1005.0,848.9 L1006.0,852.5 L1007.0,856.1 L1008.0,859.5 L1009.0,862.9 L1010.0,866.0 L1011.0,869.1 L1012.0,871.9 L1013.0,874.6 L1014.0,877.2 L1015.0,879.5 L1016.0,881.8 L1017.0,883.9 L1018.0,885.9 L1019.0,887.8 L1020.0,889.6 L1021.0,891.4 L1022.0,893.0 L1023.0,894.6 L1024.0,896.1 L1025.0,897.5 L1026.0,898.9 L1027.0,900.2 L1028.0,901.5 L1029.0,902.7 L1030.0,903.9 L1031.0,905.0 L1032.0,906.1 L1033.0,907.1 L1034.0,908.1 L1035.0,909.0 L1036.0,909.9 L1037.0,910.8 L1038.0,911.6 L1039.0,912.4 L1040.0,913.2 L1041.0,914.0 L1042.0,914.7 L1043.0,915.4 L1044.0,916.1 L1045.0,916.8 L1046.0,917.5 L1047.0,918.1 L1048.0,918.8 L1049.0,919.4 L1050.0,920.0 L1051.0,920.5 L1052.0,921.1 L1053.0,921.6 L1054.0,922.1 L1055.0,922.6 L1056.0,923.0 L1057.0,923.5 L1058.0,923.9 L1059.0,924.3 L1060.0,924.6 L1061.0,925.0 L1062.0,925.3 L1063.0,925.5 L1064.0,925.7 L1065.0,925.9 L1066.0,926.0 L1067.0,926.1 L1068.0,926.2 L1069.0,926.2 L1070.0,926.2 L1071.0,926.1 L1072.0,926.1 L1073.0,926.0 L1074.0,925.9 L1075.0,925.8 L1076.0,925.6 L1077.0,925.5 L1078.0,925.3 L1079.0,925.2 L1080.0,925.0 L1081.0,924.8 L1082.0,924.6 L1083.0,924.4 L1084.0,924.2 L1085.0,924.0 L1086.0,923.8 L1087.0,923.5 L1088.0,923.3 L1089.0,923.1 L1090.0,922.8 L1091.0,922.6 L1092.0,922.3 L1093.0,922.1 L1094.0,921.8 L1095.0,921.6 L1096.0,921.3 L1097.0,921.0 L1098.0,920.8 L1099.0,920.5 L1100.0,920.2 L1101.0,920.0 L1102.0,919.7 L1103.0,919.4 L1104.0,919.2 L1105.0,918.9 L1106.0,918.7 L1107.0,918.5 L1108.0,918.2 L1109.0,918.0 L1110.0,917.8 L1111.0,917.6 L1112.0,917.3 L1113.0,917.2 L1114.0,917.0 L1115.0,916.8 L1116.0,916.6 L1117.0,916.5 L1118.0,916.4 L1119.0,916.2 L1120.0,916.1 L1121.0,916.0 L1122.0,915.9 L1123.0,915.9 L1124.0,915.8 L1125.0,915.7 L1126.0,915.6 L1127.0,915.6 L1128.0,915.5 L1129.0,915.5 L1130.0,915.4 L1131.0,915.4 L1132.0,915.4 L1133.0,915.3 L1134.0,915.3 L1135.0,915.3 L1136.0,915.3 L1137.0,915.3 L1138.0,915.3 L1139.0,915.3 L1140.0,915.3 L1141.0,915.3 L1142.0,915.3 L1143.0,915.3 L1144.0,915.3 L1145.0,915.4 L1146.0,915.4 L1147.0,915.5 L1148.0,915.5 L1149.0,915.6 L1150.0,915.6 L1151.0,915.7 L1152.0,915.7 L1153.0,915.7 L1154.0,915.8 L1155.0,915.8 L1156.0,915.9 L1157.0,915.9 L1158.0,916.0 L1159.0,916.0 L1160.0,916.1 L1161.0,916.5 L1162.0,919.6 L1163.0,923.2 L1164.0,924.0 L1165.0,924.5 L1166.0,924.9 L1167.0,925.4 L1168.0,925.8 L1169.0,926.3 L1170.0,926.7 L1171.0,927.2 L1172.0,927.6 L1173.0,928.1 L1174.0,928.6 L1175.0,929.0 L1176.0,929.5 L1177.0,929.9 L1178.0,930.4 L1179.0,930.8 L1180.0,931.3 L1181.0,931.7 L1182.0,932.2 L1183.0,932.6 L1184.0,933.0 L1185.0,933.5 L1186.0,933.9 L1187.0,934.4 L1188.0,934.8 L1189.0,935.2 L1190.0,935.7 L1191.0,936.1 L1192.0,936.6 L1193.0,937.0 L1194.0,937.4 L1195.0,937.9 L1196.0,938.3 L1197.0,938.7 L1198.0,939.2 L1199.0,939.6 L1200.0,940.1 L1201.0,940.5 L1202.0,941.0 L1203.0,941.5 L1204.0,941.9 L1205.0,942.4 L1206.0,942.9 L1207.0,943.4 L1208.0,944.0 L1209.0,944.5 L1210.0,945.1 L1211.0,945.6 L1212.0,946.2 L1213.0,946.8 L1214.0,947.5 L1215.0,948.1 L1216.0,948.7 L1217.0,949.3 L1218.0,950.0 L1219.0,950.6 L1220.0,951.3 L1221.0,951.9 L1222.0,952.6 L1223.0,953.2 L1224.0,953.8 L1225.0,954.5 L1226.0,955.2 L1227.0,955.8 L1228.0,956.5 L1229.0,957.2 L1230.0,957.9 L1231.0,958.6 L1232.0,959.3 L1233.0,960.0 L1234.0,960.8 L1235.0,961.5 L1236.0,962.3 L1237.0,963.0 L1238.0,963.8 L1239.0,964.6 L1240.0,965.3 L1241.0,966.1 L1242.0,966.9 L1243.0,967.7 L1244.0,968.5 L1245.0,969.3 L1246.0,970.1 L1247.0,970.8 L1248.0,971.6 L1249.0,972.4 L1250.0,973.2 L1251.0,974.1 L1252.0,974.9 L1253.0,975.7 L1254.0,976.5 L1255.0,977.4 L1256.0,978.2 L1257.0,979.1 L1258.0,980.0 L1259.0,980.9 L1260.0,981.8 L1261.0,982.7 L1262.0,983.6 L1263.0,984.5 L1264.0,985.4 L1265.0,986.3 L1266.0,987.2 L1267.0,988.2 L1268.0,989.1 L1269.0,990.1 L1270.0,991.0 L1271.0,992.0 L1272.0,993.0 L1273.0,994.1 L1274.0,995.1 L1275.0,996.2 L1276.0,997.3 L1277.0,998.5 L1278.0,999.7 L1279.0,1000.9 L1280.0,1002.1 L1281.0,1003.4 L1282.0,1004.6 L1283.0,1005.9 L1284.0,1007.2 L1285.0,1008.5 L1286.0,1009.8 L1287.0,1011.1 L1288.0,1012.5 L1289.0,1013.8 L1290.0,1015.2 L1291.0,1016.6 L1292.0,1018.0 L1293.0,1019.4 L1294.0,1020.8 L1295.0,1022.3 L1296.0,1023.7 L1297.0,1025.2 L1298.0,1026.7 L1299.0,1028.3 L1300.0,1029.8 L1301.0,1031.4 L1302.0,1033.0 L1303.0,1034.7 L1304.0,1036.3 L1305.0,1038.1 L1306.0,1039.8 L1307.0,1041.6 L1308.0,1043.5 L1309.0,1045.3 L1310.0,1047.2 L1311.0,1049.2 L1312.0,1051.1 L1313.0,1053.1 L1314.0,1055.0 L1315.0,1057.0 L1316.0,1058.9 L1317.0,1060.9 L1318.0,1062.8 L1319.0,1064.8 L1320.0,1066.7 L1321.0,1068.6 L1322.0,1070.6 L1323.0,1072.5 L1324.0,1074.4 L1325.0,1076.3 L1326.0,1078.2 L1327.0,1080.1 L1328.0,1082.0 L1329.0,1083.9 L1330.0,1085.8 L1331.0,1087.7 L1332.0,1089.7 L1333.0,1091.6 L1334.0,1093.6 L1335.0,1095.6 L1336.0,1097.6 L1337.0,1099.7 L1338.0,1101.8 L1339.0,1103.9 L1340.0,1106.0 L1341.0,1108.2 L1342.0,1110.4 L1343.0,1112.6 L1344.0,1114.8 L1345.0,1117.0 L1346.0,1119.2 L1347.0,1121.5 L1348.0,1123.8 L1349.0,1126.0 L1350.0,1128.3 L1351.0,1130.6 L1352.0,1132.8 L1353.0,1135.1 L1354.0,1137.4 L1355.0,1139.7 L1356.0,1141.9 L1357.0,1144.2 L1358.0,1146.4 L1359.0,1148.6 L1360.0,1150.8 L1361.0,1152.9 L1362.0,1155.1 L1363.0,1157.2 L1364.0,1159.3 L1365.0,1161.3 L1366.0,1163.4 L1367.0,1165.4 L1368.0,1167.5 L1369.0,1169.5 L1370.0,1171.5 L1371.0,1173.5 L1372.0,1175.4 L1373.0,1177.4 L1374.0,1179.3 L1375.0,1181.3 L1376.0,1183.2 L1377.0,1185.1 L1378.0,1187.0 L1379.0,1188.9 L1380.0,1190.8 L1381.0,1192.7 L1382.0,1194.5 L1383.0,1196.4 L1384.0,1198.3 L1385.0,1200.1 L1386.0,1202.0 L1387.0,1203.9 L1388.0,1205.7 L1389.0,1207.5 L1390.0,1209.4 L1391.0,1211.2 L1392.0,1213.1 L1393.0,1214.9 L1394.0,1216.7 L1395.0,1218.6 L1396.0,1220.4 L1397.0,1222.2 L1398.0,1224.1 L1399.0,1225.9 L1400.0,1227.7 L1401.0,1229.6 L1402.0,1231.4 L1403.0,1233.3 L1404.0,1235.1 L1405.0,1237.0 L1406.0,1238.8 L1407.0,1240.6 L1408.0,1242.4 L1409.0,1244.2 L1410.0,1246.0 L1411.0,1247.7 L1412.0,1249.4 L1413.0,1251.1 L1414.0,1252.7 L1415.0,1254.2 L1416.0,1255.7 L1417.0,1257.2 L1418.0,1258.7 L1419.0,1260.1 L1420.0,1261.4 L1421.0,1262.8 L1422.0,1264.1 L1423.0,1265.4 L1424.0,1266.7 L1425.0,1267.9 L1426.0,1269.1 L1427.0,1270.4 L1428.0,1271.6 L1429.0,1272.8 L1430.0,1273.9 L1431.0,1275.1 L1432.0,1276.2 L1433.0,1277.3 L1434.0,1278.4 L1435.0,1279.5 L1436.0,1280.5 L1437.0,1281.5 L1438.0,1282.6 L1439.0,1283.6 L1440.0,1284.5 L1441.0,1285.5 L1442.0,1286.4 L1443.0,1287.4 L1444.0,1288.3 L1445.0,1289.1 L1446.0,1290.0 L1447.0,1290.9 L1448.0,1291.7 L1449.0,1292.6 L1450.0,1293.4 L1451.0,1294.2 L1452.0,1295.0 L1453.0,1295.8 L1454.0,1296.6 L1455.0,1297.3 L1456.0,1298.0 L1457.0,1298.7 L1458.0,1299.4 L1459.0,1300.1 L1460.0,1300.7 L1461.0,1301.3 L1462.0,1301.9 L1463.0,1302.5 L1464.0,1303.1 L1465.0,1303.7 L1466.0,1304.3 L1467.0,1304.9 L1468.0,1305.5 L1469.0,1306.0 L1470.0,1306.6 L1471.0,1307.1 L1472.0,1307.6 L1473.0,1308.1 L1474.0,1308.6 L1475.0,1309.1 L1476.0,1309.5 L1477.0,1309.9 L1478.0,1310.3 L1479.0,1310.6 L1480.0,1310.9 L1481.0,1311.2 L1482.0,1311.5 L1483.0,1311.8 L1484.0,1312.1 L1485.0,1312.3 L1486.0,1312.6 L1487.0,1312.9 L1488.0,1313.1 L1489.0,1313.3 L1490.0,1313.6 L1491.0,1313.8 L1492.0,1314.1 L1493.0,1314.3 L1494.0,1314.5 L1495.0,1314.7 L1496.0,1314.9 L1497.0,1315.1 L1498.0,1315.3 L1499.0,1315.5 L1500.0,1315.7 L1501.0,1315.9 L1502.0,1316.1 L1503.0,1316.2 L1504.0,1316.4 L1505.0,1316.6 L1506.0,1316.7 L1507.0,1316.9 L1508.0,1317.1 L1509.0,1317.2 L1510.0,1317.4 L1511.0,1317.6 L1512.0,1317.7 L1513.0,1317.9 L1514.0,1318.1 L1515.0,1318.2 L1516.0,1318.4 L1517.0,1318.6 L1518.0,1318.7 L1519.0,1318.9 L1520.0,1319.1 L1521.0,1319.2 L1522.0,1319.4 L1523.0,1319.5 L1524.0,1319.6 L1525.0,1319.8 L1526.0,1319.9 L1527.0,1320.0 L1528.0,1320.1 L1529.0,1320.2 L1530.0,1320.2 L1531.0,1320.3 L1532.0,1320.4 L1533.0,1320.5 L1534.0,1320.5 L1535.0,1320.6 L1536.0,1320.6 L1537.0,1320.7 L1538.0,1320.8 L1539.0,1320.8 L1540.0,1320.9 L1541.0,1320.9 L1542.0,1321.0 L1543.0,1321.0 L1544.0,1321.1 L1545.0,1321.1 L1546.0,1321.1 L1547.0,1321.2 L1548.0,1321.2 L1549.0,1321.2 L1550.0,1321.3 L1551.0,1321.3 L1552.0,1321.3 L1553.0,1321.4 L1554.0,1321.4 L1555.0,1321.4 L1556.0,1321.4 L1557.0,1321.5 L1558.0,1321.5 L1559.0,1321.5 L1560.0,1321.5 L1561.0,1321.6 L1562.0,1321.6 L1563.0,1321.6 L1564.0,1321.6 L1565.0,1321.6 L1566.0,1321.7 L1567.0,1321.7 L1568.0,1321.7 L1569.0,1321.7 L1570.0,1321.8 L1571.0,1321.8 L1572.0,1321.8 L1573.0,1321.8 L1574.0,1321.9 L1575.0,1321.9 L1576.0,1321.9 L1577.0,1321.9 L1578.0,1321.9 L1579.0,1322.0 L1580.0,1322.0 L1581.0,1322.0 L1582.0,1322.0 L1583.0,1322.0 L1584.0,1322.1 L1585.0,1322.1 L1586.0,1322.1 L1587.0,1322.1 L1588.0,1322.1 L1589.0,1322.1 L1590.0,1322.1 L1591.0,1322.2 L1592.0,1322.2 L1593.0,1322.2 L1594.0,1322.2 L1595.0,1322.2 L1596.0,1322.2 L1597.0,1322.3 L1598.0,1322.3 L1599.0,1322.3 L1600.0,1322.3 L1601.0,1322.3 L1602.0,1322.3 L1603.0,1322.3 L1604.0,1322.4 L1605.0,1322.4 L1606.0,1322.4 L1607.0,1322.4 L1608.0,1322.4 L1609.0,1322.4 L1610.0,1322.4 L1611.0,1322.5 L1612.0,1322.5 L1613.0,1322.5 L1614.0,1322.5 L1615.0,1322.5 L1616.0,1322.5 L1617.0,1322.5 L1618.0,1322.6 L1619.0,1322.6 L1620.0,1322.6 L1621.0,1322.6 L1622.0,1322.6 L1623.0,1322.6 L1624.0,1322.6 L1625.0,1322.6 L1626.0,1322.6 L1627.0,1322.6 L1628.0,1322.6 L1629.0,1322.6 L1630.0,1322.6 L1631.0,1322.6 L1632.0,1322.6 L1633.0,1322.6 L1634.0,1322.6 L1635.0,1322.6 L1636.0,1322.6 L1637.0,1322.6 L1638.0,1322.6 L1639.0,1322.6 L1640.0,1322.6 L1641.0,1322.6 L1642.0,1322.6 L1643.0,1322.6 L1644.0,1322.6 L1645.0,1322.6 L1646.0,1322.6 L1647.0,1322.6 L1648.0,1322.6 L1649.0,1322.6 L1650.0,1322.6 L1651.0,1322.6 L1652.0,1322.6 L1653.0,1322.6 L1654.0,1322.6 L1655.0,1322.6 L1656.0,1322.6 L1657.0,1322.6 L1658.0,1322.6 L1659.0,1322.6 L1660.0,1322.6 L1661.0,1322.6 L1662.0,1322.7 L1663.0,1322.7 L1664.0,1322.7 L1665.0,1322.7 L1666.0,1322.7 L1667.0,1322.7 L1668.0,1322.7 L1669.0,1322.7 L1670.0,1322.7 L1671.0,1322.7 L1672.0,1322.7 L1673.0,1322.7 L1674.0,1322.7 L1675.0,1322.7 L1676.0,1322.7 L1677.0,1322.7 L1678.0,1322.7 L1679.0,1322.7 L1680.0,1322.7 L1681.0,1322.7 L1682.0,1322.7 L1683.0,1322.7 L1684.0,1322.7 L1685.0,1322.7 L1686.0,1322.7 L1687.0,1322.7 L1688.0,1322.7 L1689.0,1322.7 L1690.0,1322.7 L1691.0,1322.7 L1692.0,1322.7 L1693.0,1322.7 L1694.0,1322.7 L1695.0,1322.7 L1696.0,1322.7 L1697.0,1322.7 L1698.0,1322.7 L1699.0,1322.7 L1700.0,1322.7 L1701.0,1322.7 L1702.0,1322.7 L1703.0,1322.7 L1704.0,1322.7 L1705.0,1322.7 L1706.0,1322.7 L1707.0,1322.7 L1708.0,1322.7 L1709.0,1322.7 L1710.0,1322.7 L1711.0,1322.7 L1712.0,1322.7 L1713.0,1322.7 L1714.0,1322.7 L1715.0,1322.7 L1716.0,1322.7 L1717.0,1322.7 L1718.0,1322.7 L1719.0,1322.7 L1720.0,1322.7 L1721.0,1322.7 L1722.0,1322.7 L1723.0,1322.7 L1724.0,1322.7 L1725.0,1322.7 L1726.0,1322.7 L1727.0,1322.7 L1728.0,1322.7 L1729.0,1322.7 L1730.0,1322.7 L1731.0,1322.7 L1732.0,1322.7 L1733.0,1322.7 L1734.0,1322.7 L1735.0,1322.7 L1736.0,1322.7 L1737.0,1322.7 L1738.0,1322.7 L1739.0,1322.7 L1740.0,1322.7 L1741.0,1322.7 L1742.0,1322.7 L1743.0,1322.7 L1744.0,1322.8 L1745.0,1322.8 L1746.0,1322.8 L1747.0,1322.8 L1748.0,1322.8 L1749.0,1322.8 L1750.0,1322.8 L1751.0,1322.8 L1752.0,1322.8 L1753.0,1322.8 L1754.0,1322.8 L1755.0,1322.8 L1756.0,1322.8 L1757.0,1322.8 L1758.0,1322.8 L1759.0,1322.8 L1760.0,1322.8 L1761.0,1322.8 L1762.0,1322.8 L1763.0,1322.8 L1764.0,1322.8 L1765.0,1322.8 L1766.0,1322.8 L1767.0,1322.8 L1768.0,1322.8 L1769.0,1322.8 L1770.0,1322.8 L1771.0,1322.8 L1772.0,1322.8 L1773.0,1322.8 L1774.0,1322.8 L1775.0,1322.8 L1776.0,1322.8 L1777.0,1322.8 L1778.0,1322.8 L1779.0,1322.8 L1780.0,1322.8 L1781.0,1322.8 L1782.0,1322.8 L1783.0,1322.8 L1784.0,1322.8 L1785.0,1322.8" stroke="#000000"/>
<path d="M233.0,878.0 L234.0,878.3 L235.0,878.6 L236.0,878.9 L237.0,879.2 L238.0,879.4 L239.0,879.7 L240.0,880.0 L241.0,880.3 L242.0,880.6 L243.0,880.9 L244.0,881.1 L245.0,881.4 L246.0,881.7 L247.0,881.9 L248.0,882.2 L249.0,882.4 L250.0,882.7 L251.0,882.9 L252.0,883.1 L253.0,883.3 L254.0,883.4 L255.0,883.6 L256.0,883.7 L257.0,883.7 L258.0,883.7 L259.0,883.7 L260.0,883.7 L261.0,883.5 L262.0,883.4 L263.0,883.2 L264.0,883.0 L265.0,882.8 L266.0,882.5 L267.0,882.3 L268.0,882.0 L269.0,881.7 L270.0,881.4 L271.0,881.1 L272.0,880.8 L273.0,880.5 L274.0,880.2 L275.0,879.9 L276.0,879.6 L277.0,879.3 L278.0,879.0 L279.0,878.6 L280.0,878.3 L281.0,877.9 L282.0,877.5 L283.0,877.0 L284.0,876.5 L285.0,876.0 L286.0,875.4 L287.0,874.8 L288.0,874.1 L289.0,873.4 L290.0,872.7 L291.0,872.0 L292.0,871.2 L293.0,870.4 L294.0,869.6 L295.0,868.8 L296.0,867.9 L297.0,867.1 L298.0,866.2 L299.0,865.4 L300.0,864.5 L301.0,863.7 L302.0,862.8 L303.0,861.9 L304.0,860.9 L305.0,860.0 L306.0,859.0 L307.0,858.0 L308.0,857.0 L309.0,856.0 L310.0,855.0 L311.0,853.9 L312.0,852.8 L313.0,851.8 L314.0,850.7 L315.0,849.6 L316.0,848.5 L317.0,847.4 L318.0,846.4 L319.0,845.3 L320.0,844.2 L321.0,843.1 L322.0,842.0 L323.0,841.0 L324.0,839.9 L325.0,838.8 L326.0,837.7 L327.0,836.7 L328.0,835.6 L329.0,834.5 L330.0,833.4 L331.0,832.3 L332.0,831.2 L333.0,830.0 L334.0,828.8 L335.0,827.6 L336.0,826.3 L337.0,825.0 L338.0,823.6 L339.0,822.2 L340.0,820.7 L341.0,819.2 L342.0,817.7 L343.0,816.2 L344.0,814.6 L345.0,813.1 L346.0,811.6 L347.0,810.0 L348.0,808.5 L349.0,807.0 L350.0,805.5 L351.0,804.0 L352.0,802.4 L353.0,800.9 L354.0,799.3 L355.0,797.7 L356.0,796.2 L357.0,794.6 L358.0,792.9 L359.0,791.3 L360.0,789.7 L361.0,788.0 L362.0,786.4 L363.0,784.7 L364.0,783.0 L365.0,781.4 L366.0,779.7 L367.0,778.0 L368.0,776.3 L369.0,774.6 L370.0,772.8 L371.0,771.1 L372.0,769.3 L373.0,767.5 L374.0,765.7 L375.0,763.8 L376.0,761.9 L377.0,760.0 L378.0,758.0 L379.0,756.1 L380.0,754.0 L381.0,752.0 L382.0,749.9 L383.0,747.9 L384.0,745.8 L385.0,743.6 L386.0,741.5 L387.0,739.4 L388.0,737.3 L389.0,735.2 L390.0,733.1 L391.0,731.1 L392.0,729.1 L393.0,727.1 L394.0,725.2 L395.0,723.3 L396.0,721.5 L397.0,719.7 L398.0,718.0 L399.0,716.4 L400.0,714.8 L401.0,713.2 L402.0,711.7 L403.0,710.2 L404.0,708.7 L405.0,707.2 L406.0,705.7 L407.0,704.1 L408.0,702.6 L409.0,701.0 L410.0,699.4 L411.0,697.8 L412.0,696.1 L413.0,694.5 L414.0,692.8 L415.0,691.2 L416.0,689.6 L417.0,688.0 L418.0,686.4 L419.0,684.9 L420.0,683.4 L421.0,682.0 L422.0,680.6 L423.0,679.1 L424.0,677.7 L425.0,676.3 L426.0,675.0 L427.0,673.6 L428.0,672.2 L429.0,670.8 L430.0,669.4 L431.0,668.1 L432.0,666.7 L433.0,665.3 L434.0,663.9 L435.0,662.5 L436.0,661.1 L437.0,659.8 L438.0,658.3 L439.0,656.9 L440.0,655.5 L441.0,654.1 L442.0,652.6 L443.0,651.2 L444.0,649.7 L445.0,648.2 L446.0,646.8 L447.0,645.3 L448.0,643.8 L449.0,642.3 L450.0,640.8 L451.0,639.3 L452.0,637.8 L453.0,636.3 L454.0,634.8 L455.0,633.3 L456.0,631.8 L457.0,630.3 L458.0,628.8 L459.0,627.3 L460.0,625.8 L461.0,624.3 L462.0,622.8 L463.0,621.3 L464.0,619.8 L465.0,618.3 L466.0,616.8 L467.0,615.3 L468.0,613.8 L469.0,612.3 L470.0,610.8 L471.0,609.3 L472.0,607.8 L473.0,606.3 L474.0,604.8 L475.0,603.3 L476.0,601.8 L477.0,600.3 L478.0,598.8 L479.0,597.3 L480.0,595.9 L481.0,594.4 L482.0,592.9 L483.0,591.5 L484.0,590.1 L485.0,588.7 L486.0,587.3 L487.0,586.0 L488.0,584.6 L489.0,583.4 L490.0,582.1 L491.0,580.9 L492.0,579.7 L493.0,578.5 L494.0,577.4 L495.0,576.2 L496.0,575.1 L497.0,574.0 L498.0,572.9 L499.0,571.8 L500.0,570.7 L501.0,569.6 L502.0,568.5 L503.0,567.4 L504.0,566.3 L505.0,565.5 L506.0,564.9 L507.0,564.3 L508.0,563.8 L509.0,563.2 L510.0,562.6 L511.0,562.1 L512.0,561.5 L513.0,561.0 L514.0,560.4 L515.0,559.9 L516.0,559.3 L517.0,558.8 L518.0,558.2 L519.0,557.7 L520.0,557.9 L521.0,559.4 L522.0,560.9 L523.0,562.2 L524.0,563.5 L525.0,564.8 L526.0,566.1 L527.0,567.4 L528.0,568.7 L529.0,570.1 L530.0,571.6 L531.0,573.1 L532.0,574.6 L533.0,576.2 L534.0,577.9 L535.0,579.7 L536.0,581.5 L537.0,583.4 L538.0,585.3 L539.0,587.3 L540.0,589.4 L541.0,591.5 L542.0,593.6 L543.0,595.7 L544.0,597.9 L545.0,600.1 L546.0,602.2 L547.0,604.4 L548.0,606.5 L549.0,608.7 L550.0,610.8 L551.0,612.9 L552.0,615.0 L553.0,617.1 L554.0,619.2 L555.0,621.2 L556.0,623.3 L557.0,625.3 L558.0,627.3 L559.0,629.3 L560.0,631.3 L561.0,633.3 L562.0,635.2 L563.0,637.1 L564.0,639.0 L565.0,640.9 L566.0,642.7 L567.0,644.5 L568.0,646.2 L569.0,647.9 L570.0,649.5 L571.0,651.1 L572.0,652.7 L573.0,654.2 L574.0,655.7 L575.0,657.1 L576.0,658.5 L577.0,659.9 L578.0,661.3 L579.0,662.7 L580.0,664.0 L581.0,665.3 L582.0,666.5 L583.0,667.7 L584.0,668.9 L585.0,670.0 L586.0,671.1 L587.0,672.1 L588.0,673.1 L589.0,674.0 L590.0,674.9 L591.0,675.8 L592.0,676.7 L593.0,677.5 L594.0,678.3 L595.0,679.1 L596.0,679.8 L597.0,680.5 L598.0,681.2 L599.0,681.9 L600.0,682.5 L601.0,683.1 L602.0,683.6 L603.0,684.1 L604.0,684.5 L605.0,684.9 L606.0,685.2 L607.0,685.5 L608.0,685.7 L609.0,685.9 L610.0,686.0 L611.0,686.0 L612.0,686.1 L613.0,686.0 L614.0,685.9 L615.0,685.7 L616.0,685.5 L617.0,685.2 L618.0,684.9 L619.0,684.5 L620.0,684.0 L621.0,683.4 L622.0,682.8 L623.0,682.2 L624.0,681.4 L625.0,680.6 L626.0,679.8 L627.0,678.9 L628.0,678.0 L629.0,677.0 L630.0,676.1 L631.0,675.1 L632.0,674.0 L633.0,673.0 L634.0,671.9 L635.0,670.8 L636.0,669.6 L637.0,668.4 L638.0,667.1 L639.0,665.8 L640.0,664.5 L641.0,663.1 L642.0,661.6 L643.0,660.2 L644.0,658.6 L645.0,657.1 L646.0,655.5 L647.0,654.0 L648.0,652.4 L649.0,650.7 L650.0,649.1 L651.0,647.4 L652.0,645.7 L653.0,644.0 L654.0,642.3 L655.0,640.5 L656.0,638.7 L657.0,636.8 L658.0,635.0 L659.0,633.1 L660.0,631.1 L661.0,629.2 L662.0,627.2 L663.0,625.3 L664.0,623.3 L665.0,621.3 L666.0,619.3 L667.0,617.3 L668.0,615.3 L669.0,613.3 L670.0,611.3 L671.0,609.3 L672.0,607.3 L673.0,605.3 L674.0,603.4 L675.0,601.4 L676.0,599.4 L677.0,597.5 L678.0,595.6 L679.0,593.7 L680.0,591.8 L681.0,589.9 L682.0,588.1 L683.0,586.3 L684.0,584.6 L685.0,582.9 L686.0,581.1 L687.0,579.5 L688.0,577.8 L689.0,576.2 L690.0,574.6 L691.0,573.0 L692.0,571.4 L693.0,569.8 L694.0,568.2 L695.0,566.5 L696.0,564.9 L697.0,563.3 L698.0,561.8 L699.0,560.3 L700.0,559.2 L701.0,558.0 L702.0,556.9 L703.0,555.8 L704.0,554.7 L705.0,553.5 L706.0,552.4 L707.0,551.3 L708.0,550.2 L709.0,549.0 L710.0,547.9 L711.0,546.8 L712.0,545.7 L713.0,544.9 L714.0,544.1 L715.0,543.4 L716.0,542.6 L717.0,541.9 L718.0,541.1 L719.0,539.5 L720.0,536.2 L721.0,532.7 L722.0,529.5 L723.0,528.6 L724.0,528.1 L725.0,527.8 L726.0,527.4 L727.0,527.0 L728.0,526.6 L729.0,526.3 L730.0,525.9 L731.0,525.5 L732.0,525.1 L733.0,524.8 L734.0,524.4 L735.0,523.9 L736.0,522.7 L737.0,520.8 L738.0,518.8 L739.0,516.8 L740.0,514.8 L741.0,512.8 L742.0,510.9 L743.0,509.7 L744.0,508.6 L745.0,507.6 L746.0,506.6 L747.0,505.6 L748.0,504.6 L749.0,503.6 L750.0,502.6 L751.0,501.6 L752.0,500.6 L753.0,499.6 L754.0,498.6 L755.0,497.7 L756.0,496.8 L757.0,496.2 L758.0,495.6 L759.0,495.0 L760.0,494.4 L761.0,493.8 L762.0,493.2 L763.0,492.6 L764.0,492.0 L765.0,491.5 L766.0,491.3 L767.0,491.9 L768.0,492.5 L769.0,493.1 L770.0,493.7 L771.0,494.3 L772.0,494.9 L773.0,495.5 L774.0,496.1 L775.0,496.6 L776.0,497.0 L777.0,497.1 L778.0,497.1 L779.0,497.1 L780.0,497.1 L781.0,497.1 L782.0,497.1 L783.0,497.1 L784.0,497.2 L785.0,498.1 L786.0,499.3 L787.0,500.4 L788.0,501.5 L789.0,502.6 L790.0,503.7 L791.0,504.8 L792.0,505.9 L793.0,507.0 L794.0,508.1 L795.0,509.3 L796.0,510.4 L797.0,511.5 L798.0,512.6 L799.0,513.7 L800.0,514.6 L801.0,515.5 L802.0,516.4 L803.0,517.3 L804.0,518.2 L805.0,519.1 L806.0,520.0 L807.0,520.9 L808.0,521.8 L809.0,522.7 L810.0,523.6 L811.0,524.4 L812.0,525.3 L813.0,526.2 L814.0,527.0 L815.0,527.9 L816.0,528.7 L817.0,529.5 L818.0,530.3 L819.0,531.1 L820.0,531.9 L821.0,532.7 L822.0,533.5 L823.0,534.2 L824.0,535.0 L825.0,535.7 L826.0,536.5 L827.0,537.3 L828.0,538.1 L829.0,538.9 L830.0,539.7 L831.0,540.6 L832.0,541.4 L833.0,542.4 L834.0,543.4 L835.0,544.4 L836.0,545.5 L837.0,546.7 L838.0,547.9 L839.0,549.2 L840.0,550.5 L841.0,551.9 L842.0,553.3 L843.0,554.7 L844.0,556.2 L845.0,557.6 L846.0,559.1 L847.0,560.6 L848.0,562.2 L849.0,563.7 L850.0,565.3 L851.0,566.9 L852.0,568.6 L853.0,570.3 L854.0,572.2 L855.0,574.1 L856.0,576.2 L857.0,578.5 L858.0,581.0 L859.0,583.7 L860.0,586.6 L861.0,589.8 L862.0,593.3 L863.0,597.0 L864.0,601.0 L865.0,605.2 L866.0,609.6 L867.0,614.2 L868.0,619.0 L869.0,623.9 L870.0,629.1 L871.0,634.4 L872.0,639.9 L873.0,645.5 L874.0,651.3 L875.0,657.3 L876.0,663.3 L877.0,669.5 L878.0,675.9 L879.0,682.3 L880.0,688.8 L881.0,695.3 L882.0,701.9 L883.0,708.5 L884.0,715.1 L885.0,721.8 L886.0,728.4 L887.0,735.1 L888.0,741.7 L889.0,748.4 L890.0,755.1 L891.0,761.7 L892.0,768.4 L893.0,775.1 L894.0,781.7 L895.0,788.4 L896.0,795.1 L897.0,801.7 L898.0,808.4 L899.0,815.1 L900.0,821.8 L901.0,828.4 L902.0,835.1 L903.0,841.8 L904.0,848.5 L905.0,855.2 L906.0,861.9 L907.0,868.6 L908.0,875.2 L909.0,881.9 L910.0,888.5 L911.0,895.1 L912.0,901.7 L913.0,908.2 L914.0,914.6 L915.0,920.9 L916.0,927.2 L917.0,933.5 L918.0,939.6 L919.0,945.7 L920.0,951.7 L921.0,957.6 L922.0,963.4 L923.0,969.2 L924.0,974.8 L925.0,980.3 L926.0,985.7 L927.0,990.9 L928.0,996.0 L929.0,1001.0 L930.0,1005.8 L931.0,1010.5 L932.0,1015.1 L933.0,1019.6 L934.0,1024.0 L935.0,1028.3 L936.0,1032.5 L937.0,1036.6 L938.0,1040.6 L939.0,1044.5 L940.0,1048.3 L941.0,1052.0 L942.0,1055.6 L943.0,1059.1 L944.0,1062.5 L945.0,1065.7 L946.0,1068.8 L947.0,1071.8 L948.0,1074.7 L949.0,1077.5 L950.0,1080.2 L951.0,1082.8 L952.0,1085.3 L953.0,1087.8 L954.0,1090.1 L955.0,1092.4 L956.0,1094.7 L957.0,1096.8 L958.0,1098.9 L959.0,1101.0 L960.0,1102.9 L961.0,1104.9 L962.0,1106.8 L963.0,1108.6 L964.0,1110.4 L965.0,1112.1 L966.0,1113.8 L967.0,1115.4 L968.0,1117.0 L969.0,1118.6 L970.0,1120.1 L971.0,1121.6 L972.0,1123.0 L973.0,1124.4 L974.0,1125.8 L975.0,1127.1 L976.0,1128.4 L977.0,1129.7 L978.0,1130.8 L979.0,1132.0 L980.0,1133.1 L981.0,1134.1 L982.0,1135.1 L983.0,1136.1 L984.0,1137.1 L985.0,1138.0 L986.0,1138.9 L987.0,1139.8 L988.0,1140.7 L989.0,1141.5 L990.0,1142.3 L991.0,1143.1 L992.0,1143.9 L993.0,1144.7 L994.0,1145.4 L995.0,1146.1 L996.0,1146.7 L997.0,1147.3 L998.0,1147.9 L999.0,1148.5 L1000.0,1149.0 L1001.0,1149.6 L1002.0,1150.1 L1003.0,1150.6 L1004.0,1151.1 L1005.0,1151.5 L1006.0,1152.0 L1007.0,1152.5 L1008.0,1152.9 L1009.0,1153.3 L1010.0,1153.7 L1011.0,1154.1 L1012.0,1154.4 L1013.0,1154.8 L1014.0,1155.1 L1015.0,1155.4 L1016.0,1155.6 L1017.0,1155.9 L1018.0,1156.2 L1019.0,1156.4 L1020.0,1156.7 L1021.0,1156.9 L1022.0,1157.1 L1023.0,1157.4 L1024.0,1157.6 L1025.0,1157.8 L1026.0,1158.0 L1027.0,1158.2 L1028.0,1158.3 L1029.0,1158.5 L1030.0,1158.7 L1031.0,1158.8 L1032.0,1159.0 L1033.0,1159.1 L1034.0,1159.2 L1035.0,1159.4 L1036.0,1159.5 L1037.0,1159.6 L1038.0,1159.7 L1039.0,1159.8 L1040.0,1159.9 L1041.0,1160.0 L1042.0,1160.0 L1043.0,1160.1 L1044.0,1160.1 L1045.0,1160.2 L1046.0,1160.2 L1047.0,1160.2 L1048.0,1160.2 L1049.0,1160.1 L1050.0,1160.1 L1051.0,1160.1 L1052.0,1160.1 L1053.0,1160.0 L1054.0,1160.0 L1055.0,1159.9 L1056.0,1159.9 L1057.0,1159.8 L1058.0,1159.7 L1059.0,1159.7 L1060.0,1159.6 L1061.0,1159.5 L1062.0,1159.4 L1063.0,1159.4 L1064.0,1159.2 L1065.0,1159.1 L1066.0,1159.0 L1067.0,1158.9 L1068.0,1158.7 L1069.0,1158.6 L1070.0,1158.5 L1071.0,1158.3 L1072.0,1158.1 L1073.0,1158.0 L1074.0,1157.8 L1075.0,1157.7 L1076.0,1157.5 L1077.0,1157.3 L1078.0,1157.1 L1079.0,1157.0 L1080.0,1156.8 L1081.0,1156.6 L1082.0,1156.4 L1083.0,1156.3 L1084.0,1156.1 L1085.0,1155.9 L1086.0,1155.7 L1087.0,1155.5 L1088.0,1155.3 L1089.0,1155.1 L1090.0,1154.9 L1091.0,1154.7 L1092.0,1154.4 L1093.0,1154.2 L1094.0,1154.0 L1095.0,1153.8 L1096.0,1153.6 L1097.0,1153.4 L1098.0,1153.2 L1099.0,1153.0 L1100.0,1152.7 L1101.0,1152.5 L1102.0,1152.3 L1103.0,1152.1 L1104.0,1151.9 L1105.0,1151.7 L1106.0,1151.5 L1107.0,1151.3 L1108.0,1151.1 L1109.0,1150.9 L1110.0,1150.7 L1111.0,1150.6 L1112.0,1150.4 L1113.0,1150.2 L1114.0,1150.0 L1115.0,1149.8 L1116.0,1149.7 L1117.0,1149.5 L1118.0,1149.3 L1119.0,1149.2 L1120.0,1149.0 L1121.0,1148.8 L1122.0,1148.7 L1123.0,1148.5 L1124.0,1148.3 L1125.0,1148.2 L1126.0,1148.0 L1127.0,1147.9 L1128.0,1147.8 L1129.0,1147.7 L1130.0,1147.6 L1131.0,1147.6 L1132.0,1147.5 L1133.0,1147.5 L1134.0,1147.4 L1135.0,1147.4 L1136.0,1147.4 L1137.0,1147.3 L1138.0,1147.3 L1139.0,1147.2 L1140.0,1147.1 L1141.0,1147.0 L1142.0,1146.9 L1143.0,1146.8 L1144.0,1146.6 L1145.0,1146.4 L1146.0,1146.2 L1147.0,1146.0 L1148.0,1145.7 L1149.0,1145.5 L1150.0,1145.3 L1151.0,1145.0 L1152.0,1144.8 L1153.0,1144.5 L1154.0,1144.3 L1155.0,1144.0 L1156.0,1143.8 L1157.0,1143.5 L1158.0,1143.3 L1159.0,1143.0 L1160.0,1142.8 L1161.0,1142.5 L1162.0,1142.3 L1163.0,1142.0 L1164.0,1141.8 L1165.0,1141.5 L1166.0,1141.3 L1167.0,1141.0 L1168.0,1140.8 L1169.0,1140.6 L1170.0,1140.3 L1171.0,1140.1 L1172.0,1139.9 L1173.0,1139.7 L1174.0,1139.5 L1175.0,1139.3 L1176.0,1139.1 L1177.0,1138.9 L1178.0,1138.8 L1179.0,1138.6 L1180.0,1138.4 L1181.0,1138.3 L1182.0,1138.1 L1183.0,1137.9 L1184.0,1137.8 L1185.0,1137.6 L1186.0,1137.5 L1187.0,1137.3 L1188.0,1137.2 L1189.0,1137.0 L1190.0,1136.9 L1191.0,1136.7 L1192.0,1136.6 L1193.0,1136.4 L1194.0,1136.2 L1195.0,1136.1 L1196.0,1135.9 L1197.0,1135.8 L1198.0,1135.6 L1199.0,1135.5 L1200.0,1135.3 L1201.0,1135.2 L1202.0,1135.0 L1203.0,1134.9 L1204.0,1134.7 L1205.0,1134.6 L1206.0,1134.4 L1207.0,1134.3 L1208.0,1134.1 L1209.0,1133.9 L1210.0,1133.8 L1211.0,1133.7 L1212.0,1133.5 L1213.0,1133.4 L1214.0,1133.2 L1215.0,1133.1 L1216.0,1133.0 L1217.0,1132.8 L1218.0,1132.7 L1219.0,1132.6 L1220.0,1132.5 L1221.0,1132.4 L1222.0,1132.3 L1223.0,1132.2 L1224.0,1132.1 L1225.0,1132.1 L1226.0,1132.0 L1227.0,1131.9 L1228.0,1131.8 L1229.0,1131.7 L1230.0,1131.6 L1231.0,1131.6 L1232.0,1131.5 L1233.0,1131.4 L1234.0,1131.3 L1235.0,1131.3 L1236.0,1131.2 L1237.0,1131.1 L1238.0,1131.1 L1239.0,1131.0 L1240.0,1131.0 L1241.0,1130.9 L1242.0,1130.9 L1243.0,1130.8 L1244.0,1130.8 L1245.0,1130.7 L1246.0,1130.7 L1247.0,1130.6 L1248.0,1130.6 L1249.0,1130.6 L1250.0,1130.5 L1251.0,1130.5 L1252.0,1130.5 L1253.0,1130.4 L1254.0,1130.4 L1255.0,1130.4 L1256.0,1130.4 L1257.0,1130.4 L1258.0,1130.5 L1259.0,1130.5 L1260.0,1130.5 L1261.0,1130.6 L1262.0,1130.7 L1263.0,1130.7 L1264.0,1130.8 L1265.0,1130.9 L1266.0,1131.0 L1267.0,1131.0 L1268.0,1131.1 L1269.0,1131.2 L1270.0,1131.3 L1271.0,1131.4 L1272.0,1131.5 L1273.0,1131.6 L1274.0,1131.7 L1275.0,1131.8 L1276.0,1131.9 L1277.0,1132.0 L1278.0,1132.1 L1279.0,1132.3 L1280.0,1132.4 L1281.0,1132.6 L1282.0,1132.7 L1283.0,1132.9 L1284.0,1133.0 L1285.0,1133.2 L1286.0,1133.3 L1287.0,1133.5 L1288.0,1133.7 L1289.0,1133.8 L1290.0,1134.0 L1291.0,1134.2 L1292.0,1134.4 L1293.0,1134.5 L1294.0,1134.7 L1295.0,1134.9 L1296.0,1135.1 L1297.0,1135.2 L1298.0,1135.4 L1299.0,1135.6 L1300.0,1135.8 L1301.0,1136.0 L1302.0,1136.2 L1303.0,1136.4 L1304.0,1136.6 L1305.0,1136.8 L1306.0,1137.0 L1307.0,1137.2 L1308.0,1137.5 L1309.0,1137.7 L1310.0,1137.9 L1311.0,1138.1 L1312.0,1138.3 L1313.0,1138.5 L1314.0,1138.7 L1315.0,1139.0 L1316.0,1139.2 L1317.0,1139.4 L1318.0,1139.6 L1319.0,1139.9 L1320.0,1140.1 L1321.0,1140.3 L1322.0,1140.6 L1323.0,1140.8 L1324.0,1141.1 L1325.0,1141.3 L1326.0,1141.6 L1327.0,1141.8 L1328.0,1142.1 L1329.0,1142.3 L1330.0,1142.6 L1331.0,1142.8 L1332.0,1143.0 L1333.0,1143.3 L1334.0,1143.5 L1335.0,1143.8 L1336.0,1144.0 L1337.0,1144.2 L1338.0,1144.5 L1339.0,1144.7 L1340.0,1144.9 L1341.0,1145.1 L1342.0,1145.4 L1343.0,1145.6 L1344.0,1145.8 L1345.0,1146.0 L1346.0,1146.2 L1347.0,1146.4 L1348.0,1146.6 L1349.0,1146.8 L1350.0,1147.0 L1351.0,1147.3 L1352.0,1147.5 L1353.0,1147.7 L1354.0,1147.9 L1355.0,1148.1 L1356.0,1148.3 L1357.0,1148.6 L1358.0,1148.8 L1359.0,1149.0 L1360.0,1149.3 L1361.0,1149.5 L1362.0,1149.7 L1363.0,1150.0 L1364.0,1150.2 L1365.0,1150.5 L1366.0,1150.7 L1367.0,1151.0 L1368.0,1151.2 L1369.0,1151.5 L1370.0,1151.8 L1371.0,1152.0 L1372.0,1152.3 L1373.0,1152.5 L1374.0,1152.8 L1375.0,1153.0 L1376.0,1153.2 L1377.0,1153.5 L1378.0,1153.9 L1379.0,1154.6 L1380.0,1155.3 L1381.0,1156.0 L1382.0,1156.7 L1383.0,1157.4 L1384.0,1158.1 L1385.0,1158.4 L1386.0,1158.7 L1387.0,1158.9 L1388.0,1159.1 L1389.0,1159.3 L1390.0,1159.6 L1391.0,1159.8 L1392.0,1160.0 L1393.0,1160.2 L1394.0,1160.4 L1395.0,1160.7 L1396.0,1160.9 L1397.0,1161.1 L1398.0,1161.4 L1399.0,1161.6 L1400.0,1161.9 L1401.0,1162.2 L1402.0,1162.6 L1403.0,1162.9 L1404.0,1163.3 L1405.0,1163.7 L1406.0,1164.1 L1407.0,1164.4 L1408.0,1164.8 L1409.0,1165.2 L1410.0,1165.6 L1411.0,1166.0 L1412.0,1166.4 L1413.0,1166.8 L1414.0,1167.2 L1415.0,1167.7 L1416.0,1168.1 L1417.0,1168.5 L1418.0,1169.0 L1419.0,1169.4 L1420.0,1169.9 L1421.0,1170.4 L1422.0,1170.9 L1423.0,1171.3 L1424.0,1171.8 L1425.0,1172.3 L1426.0,1172.8 L1427.0,1173.3 L1428.0,1173.8 L1429.0,1174.3 L1430.0,1174.8 L1431.0,1175.4 L1432.0,1175.9 L1433.0,1176.4 L1434.0,1177.0 L1435.0,1177.5 L1436.0,1178.1 L1437.0,1178.6 L1438.0,1179.2 L1439.0,1179.8 L1440.0,1180.4 L1441.0,1181.0 L1442.0,1181.6 L1443.0,1182.2 L1444.0,1182.8 L1445.0,1183.4 L1446.0,1184.0 L1447.0,1184.6 L1448.0,1185.2 L1449.0,1185.9 L1450.0,1186.5 L1451.0,1187.2 L1452.0,1187.8 L1453.0,1188.5 L1454.0,1189.2 L1455.0,1189.8 L1456.0,1190.5 L1457.0,1191.2 L1458.0,1191.9 L1459.0,1192.6 L1460.0,1193.4 L1461.0,1194.1 L1462.0,1194.8 L1463.0,1195.5 L1464.0,1196.3 L1465.0,1197.0 L1466.0,1197.8 L1467.0,1198.6 L1468.0,1199.4 L1469.0,1200.2 L1470.0,1201.0 L1471.0,1201.9 L1472.0,1202.8 L1473.0,1203.7 L1474.0,1204.6 L1475.0,1205.6 L1476.0,1206.5 L1477.0,1207.5 L1478.0,1208.5 L1479.0,1209.5 L1480.0,1210.5 L1481.0,1211.4 L1482.0,1212.4 L1483.0,1213.4 L1484.0,1214.4 L1485.0,1215.4 L1486.0,1216.4 L1487.0,1217.4 L1488.0,1218.4 L1489.0,1219.4 L1490.0,1220.4 L1491.0,1221.4 L1492.0,1222.4 L1493.0,1223.4 L1494.0,1224.4 L1495.0,1225.4 L1496.0,1226.4 L1497.0,1227.4 L1498.0,1228.4 L1499.0,1229.4 L1500.0,1230.4 L1501.0,1231.4 L1502.0,1232.4 L1503.0,1233.3 L1504.0,1234.3 L1505.0,1235.3 L1506.0,1236.3 L1507.0,1237.3 L1508.0,1238.2 L1509.0,1239.2 L1510.0,1240.1 L1511.0,1241.0 L1512.0,1241.9 L1513.0,1242.7 L1514.0,1243.5 L1515.0,1244.3 L1516.0,1245.1 L1517.0,1245.9 L1518.0,1246.7 L1519.0,1247.4 L1520.0,1248.1 L1521.0,1248.8 L1522.0,1249.5 L1523.0,1250.2 L1524.0,1250.9 L1525.0,1251.6 L1526.0,1252.3 L1527.0,1253.0 L1528.0,1253.6 L1529.0,1254.3 L1530.0,1254.9 L1531.0,1255.6 L1532.0,1256.2 L1533.0,1256.8 L1534.0,1257.5 L1535.0,1258.1 L1536.0,1258.7 L1537.0,1259.3 L1538.0,1259.9 L1539.0,1260.5 L1540.0,1261.1 L1541.0,1261.7 L1542.0,1262.3 L1543.0,1262.8 L1544.0,1263.4 L1545.0,1264.0 L1546.0,1264.5 L1547.0,1265.1 L1548.0,1265.6 L1549.0,1266.2 L1550.0,1266.7 L1551.0,1267.2 L1552.0,1267.7 L1553.0,1268.2 L1554.0,1268.7 L1555.0,1269.2 L1556.0,1269.7 L1557.0,1270.2 L1558.0,1270.7 L1559.0,1271.2 L1560.0,1271.7 L1561.0,1272.1 L1562.0,1272.6 L1563.0,1273.1 L1564.0,1273.5 L1565.0,1273.9 L1566.0,1274.4 L1567.0,1274.8 L1568.0,1275.2 L1569.0,1275.6 L1570.0,1276.0 L1571.0,1276.4 L1572.0,1276.8 L1573.0,1277.2 L1574.0,1277.7 L1575.0,1278.1 L1576.0,1278.5 L1577.0,1278.9 L1578.0,1279.3 L1579.0,1279.7 L1580.0,1280.1 L1581.0,1280.5 L1582.0,1280.9 L1583.0,1281.3 L1584.0,1281.7 L1585.0,1282.1 L1586.0,1282.6 L1587.0,1283.0 L1588.0,1283.4 L1589.0,1283.8 L1590.0,1284.2 L1591.0,1284.6 L1592.0,1285.0 L1593.0,1285.5 L1594.0,1285.9 L1595.0,1286.3 L1596.0,1286.7 L1597.0,1287.1 L1598.0,1287.5 L1599.0,1287.8 L1600.0,1288.2 L1601.0,1288.6 L1602.0,1288.9 L1603.0,1289.3 L1604.0,1289.7 L1605.0,1290.0 L1606.0,1290.4 L1607.0,1290.7 L1608.0,1291.0 L1609.0,1291.4 L1610.0,1291.7 L1611.0,1292.0 L1612.0,1292.4 L1613.0,1292.7 L1614.0,1293.0 L1615.0,1293.3 L1616.0,1293.6 L1617.0,1293.9 L1618.0,1294.2 L1619.0,1294.5 L1620.0,1294.8 L1621.0,1295.1 L1622.0,1295.3 L1623.0,1295.6 L1624.0,1295.8 L1625.0,1296.1 L1626.0,1296.3 L1627.0,1296.5 L1628.0,1296.8 L1629.0,1297.0 L1630.0,1297.2 L1631.0,1297.4 L1632.0,1297.6 L1633.0,1297.8 L1634.0,1298.0 L1635.0,1298.2 L1636.0,1298.4 L1637.0,1298.6 L1638.0,1298.8 L1639.0,1299.0 L1640.0,1299.2 L1641.0,1299.4 L1642.0,1299.5 L1643.0,1299.7 L1644.0,1299.8 L1645.0,1300.0 L1646.0,1300.1 L1647.0,1300.2 L1648.0,1300.4 L1649.0,1300.5 L1650.0,1300.6 L1651.0,1300.8 L1652.0,1300.9 L1653.0,1301.0 L1654.0,1301.2 L1655.0,1301.3 L1656.0,1301.4 L1657.0,1301.5 L1658.0,1301.7 L1659.0,1301.8 L1660.0,1301.9 L1661.0,1302.0 L1662.0,1302.1 L1663.0,1302.2 L1664.0,1302.3 L1665.0,1302.4 L1666.0,1302.5 L1667.0,1302.6 L1668.0,1302.7 L1669.0,1302.8 L1670.0,1302.8 L1671.0,1302.9 L1672.0,1303.0 L1673.0,1303.1 L1674.0,1303.1 L1675.0,1303.2 L1676.0,1303.3 L1677.0,1303.3 L1678.0,1303.4 L1679.0,1303.5 L1680.0,1303.6 L1681.0,1303.6 L1682.0,1303.7 L1683.0,1303.8 L1684.0,1303.8 L1685.0,1303.9 L1686.0,1304.0 L1687.0,1304.1 L1688.0,1304.1 L1689.0,1304.2 L1690.0,1304.3 L1691.0,1304.3 L1692.0,1304.4 L1693.0,1304.5 L1694.0,1304.6 L1695.0,1304.6 L1696.0,1304.7 L1697.0,1304.8 L1698.0,1304.8 L1699.0,1304.9 L1700.0,1304.9 L1701.0,1305.0 L1702.0,1305.0 L1703.0,1305.1 L1704.0,1305.1 L1705.0,1305.2 L1706.0,1305.2 L1707.0,1305.3 L1708.0,1305.3 L1709.0,1305.3 L1710.0,1305.4 L1711.0,1305.4 L1712.0,1305.4 L1713.0,1305.5 L1714.0,1305.5 L1715.0,1305.6 L1716.0,1305.6 L1717.0,1305.6 L1718.0,1305.7 L1719.0,1305.7 L1720.0,1305.8 L1721.0,1305.8 L1722.0,1305.8 L1723.0,1305.9 L1724.0,1305.9 L1725.0,1305.9 L1726.0,1306.0 L1727.0,1306.0 L1728.0,1306.0 L1729.0,1306.1 L1730.0,1306.1 L1731.0,1306.2 L1732.0,1306.2 L1733.0,1306.2 L1734.0,1306.3 L1735.0,1306.3 L1736.0,1306.3 L1737.0,1306.4 L1738.0,1306.4 L1739.0,1306.4 L1740.0,1306.5 L1741.0,1306.5 L1742.0,1306.5 L1743.0,1306.5 L1744.0,1306.6 L1745.0,1306.6 L1746.0,1306.6 L1747.0,1306.6 L1748.0,1306.6 L1749.0,1306.7 L1750.0,1306.7 L1751.0,1306.7 L1752.0,1306.7 L1753.0,1306.7 L1754.0,1306.7 L1755.0,1306.8 L1756.0,1306.8 L1757.0,1306.8 L1758.0,1306.8 L1759.0,1306.8 L1760.0,1306.9 L1761.0,1306.9 L1762.0,1306.9 L1763.0,1306.9 L1764.0,1306.9 L1765.0,1306.9 L1766.0,1307.0 L1767.0,1307.0 L1768.0,1307.0 L1769.0,1307.0 L1770.0,1307.0 L1771.0,1307.1 L1772.0,1307.1 L1773.0,1307.1 L1774.0,1307.1 L1775.0,1307.1 L1776.0,1307.1 L1777.0,1307.2 L1778.0,1307.2 L1779.0,1307.2 L1780.0,1307.2 L1781.0,1307.2 L1782.0,1307.2 L1783.0,1307.3 L1784.0,1307.3 L1785.0,1307.3" stroke="#055E92"/>
<path d="M233.0,1001.0 L234.0,1000.9 L235.0,1000.9 L236.0,1000.8 L237.0,1000.7 L238.0,1000.7 L239.0,1000.6 L240.0,1000.5 L241.0,1000.5 L242.0,1000.4 L243.0,1000.3 L244.0,1000.3 L245.0,1000.2 L246.0,1000.1 L247.0,1000.1 L248.0,1000.0 L249.0,999.9 L250.0,999.8 L251.0,999.8 L252.0,999.7 L253.0,999.6 L254.0,999.5 L255.0,999.3 L256.0,999.2 L257.0,999.0 L258.0,998.8 L259.0,998.6 L260.0,998.4 L261.0,998.2 L262.0,997.9 L263.0,997.6 L264.0,997.3 L265.0,997.0 L266.0,996.7 L267.0,996.3 L268.0,996.0 L269.0,995.6 L270.0,995.3 L271.0,994.9 L272.0,994.6 L273.0,994.2 L274.0,993.8 L275.0,993.5 L276.0,993.1 L277.0,992.7 L278.0,992.3 L279.0,992.0 L280.0,991.6 L281.0,991.2 L282.0,990.8 L283.0,990.4 L284.0,990.0 L285.0,989.6 L286.0,989.1 L287.0,988.7 L288.0,988.3 L289.0,987.8 L290.0,987.4 L291.0,986.9 L292.0,986.4 L293.0,985.9 L294.0,985.4 L295.0,984.8 L296.0,984.3 L297.0,983.7 L298.0,983.1 L299.0,982.5 L300.0,981.9 L301.0,981.3 L302.0,980.6 L303.0,980.0 L304.0,979.3 L305.0,978.6 L306.0,977.9 L307.0,977.1 L308.0,976.3 L309.0,975.5 L310.0,974.6 L311.0,973.7 L312.0,972.7 L313.0,971.7 L314.0,970.7 L315.0,969.6 L316.0,968.5 L317.0,967.4 L318.0,966.2 L319.0,964.9 L320.0,963.7 L321.0,962.4 L322.0,961.1 L323.0,959.7 L324.0,958.4 L325.0,957.0 L326.0,955.7 L327.0,954.4 L328.0,953.1 L329.0,951.8 L330.0,950.5 L331.0,949.3 L332.0,948.1 L333.0,946.9 L334.0,945.7 L335.0,944.5 L336.0,943.3 L337.0,942.1 L338.0,940.9 L339.0,939.8 L340.0,938.6 L341.0,937.4 L342.0,936.2 L343.0,935.0 L344.0,933.7 L345.0,932.5 L346.0,931.3 L347.0,930.0 L348.0,928.8 L349.0,927.5 L350.0,926.3 L351.0,925.0 L352.0,923.7 L353.0,922.4 L354.0,921.1 L355.0,919.8 L356.0,918.6 L357.0,917.2 L358.0,915.9 L359.0,914.6 L360.0,913.3 L361.0,912.0 L362.0,910.6 L363.0,909.3 L364.0,908.0 L365.0,906.6 L366.0,905.2 L367.0,903.9 L368.0,902.5 L369.0,901.1 L370.0,899.7 L371.0,898.3 L372.0,896.8 L373.0,895.4 L374.0,893.9 L375.0,892.4 L376.0,890.9 L377.0,889.4 L378.0,887.8 L379.0,886.3 L380.0,884.7 L381.0,883.2 L382.0,881.6 L383.0,880.0 L384.0,878.4 L385.0,876.8 L386.0,875.2 L387.0,873.6 L388.0,872.0 L389.0,870.4 L390.0,868.7 L391.0,867.1 L392.0,865.4 L393.0,863.7 L394.0,862.0 L395.0,860.3 L396.0,858.6 L397.0,856.9 L398.0,855.1 L399.0,853.3 L400.0,851.5 L401.0,849.8 L402.0,848.0 L403.0,846.2 L404.0,844.4 L405.0,842.6 L406.0,840.8 L407.0,839.0 L408.0,837.2 L409.0,835.5 L410.0,833.7 L411.0,831.9 L412.0,830.2 L413.0,828.4 L414.0,826.6 L415.0,824.8 L416.0,823.1 L417.0,821.3 L418.0,819.5 L419.0,817.7 L420.0,815.9 L421.0,814.2 L422.0,812.4 L423.0,810.6 L424.0,808.9 L425.0,807.1 L426.0,805.4 L427.0,803.6 L428.0,801.9 L429.0,800.2 L430.0,798.4 L431.0,796.6 L432.0,794.8 L433.0,793.0 L434.0,791.2 L435.0,789.4 L436.0,787.5 L437.0,785.6 L438.0,783.7 L439.0,781.8 L440.0,779.9 L441.0,778.0 L442.0,776.0 L443.0,774.1 L444.0,772.2 L445.0,770.2 L446.0,768.3 L447.0,766.3 L448.0,764.3 L449.0,762.3 L450.0,760.3 L451.0,758.3 L452.0,756.2 L453.0,754.2 L454.0,752.1 L455.0,750.0 L456.0,747.9 L457.0,745.7 L458.0,743.6 L459.0,741.4 L460.0,739.3 L461.0,737.1 L462.0,735.0 L463.0,732.8 L464.0,730.6 L465.0,728.5 L466.0,726.3 L467.0,724.2 L468.0,722.0 L469.0,719.9 L470.0,717.8 L471.0,715.7 L472.0,713.6 L473.0,711.6 L474.0,709.5 L475.0,707.6 L476.0,705.6 L477.0,703.7 L478.0,701.8 L479.0,699.9 L480.0,698.0 L481.0,696.2 L482.0,694.4 L483.0,692.5 L484.0,690.7 L485.0,688.9 L486.0,687.1 L487.0,685.3 L488.0,683.5 L489.0,681.7 L490.0,679.9 L491.0,678.1 L492.0,676.3 L493.0,674.5 L494.0,672.7 L495.0,670.9 L496.0,669.1 L497.0,667.3 L498.0,665.5 L499.0,663.7 L500.0,662.0 L501.0,660.2 L502.0,658.5 L503.0,656.8 L504.0,655.1 L505.0,653.4 L506.0,651.8 L507.0,650.3 L508.0,648.8 L509.0,647.3 L510.0,645.9 L511.0,644.6 L512.0,643.3 L513.0,642.0 L514.0,640.7 L515.0,639.5 L516.0,638.3 L517.0,637.1 L518.0,635.9 L519.0,634.8 L520.0,633.6 L521.0,632.4 L522.0,631.3 L523.0,630.1 L524.0,629.0 L525.0,627.9 L526.0,626.8 L527.0,625.6 L528.0,624.6 L529.0,623.5 L530.0,622.4 L531.0,621.4 L532.0,620.3 L533.0,619.3 L534.0,618.3 L535.0,617.3 L536.0,616.2 L537.0,615.2 L538.0,614.2 L539.0,613.2 L540.0,612.2 L541.0,611.2 L542.0,610.1 L543.0,609.1 L544.0,608.0 L545.0,606.9 L546.0,605.8 L547.0,604.6 L548.0,603.5 L549.0,602.2 L550.0,601.0 L551.0,599.7 L552.0,598.4 L553.0,597.1 L554.0,595.7 L555.0,594.4 L556.0,593.0 L557.0,591.6 L558.0,590.2 L559.0,588.8 L560.0,587.4 L561.0,585.9 L562.0,584.5 L563.0,583.0 L564.0,581.5 L565.0,580.0 L566.0,578.5 L567.0,577.0 L568.0,575.5 L569.0,573.9 L570.0,572.3 L571.0,570.8 L572.0,569.2 L573.0,567.6 L574.0,566.0 L575.0,564.4 L576.0,562.8 L577.0,561.2 L578.0,559.5 L579.0,557.9 L580.0,556.3 L581.0,554.7 L582.0,553.1 L583.0,551.4 L584.0,549.6 L585.0,547.9 L586.0,546.2 L587.0,544.4 L588.0,542.7 L589.0,540.9 L590.0,539.2 L591.0,537.4 L592.0,535.7 L593.0,533.9 L594.0,532.2 L595.0,530.5 L596.0,529.5 L597.0,528.5 L598.0,527.5 L599.0,526.5 L600.0,525.5 L601.0,524.5 L602.0,523.5 L603.0,522.5 L604.0,521.5 L605.0,520.5 L606.0,519.7 L607.0,519.0 L608.0,518.2 L609.0,517.5 L610.0,516.7 L611.0,516.1 L612.0,516.3 L613.0,518.1 L614.0,520.1 L615.0,522.1 L616.0,524.1 L617.0,525.4 L618.0,525.5 L619.0,525.5 L620.0,525.5 L621.0,525.5 L622.0,525.5 L623.0,525.5 L624.0,525.5 L625.0,525.6 L626.0,526.7 L627.0,527.9 L628.0,529.2 L629.0,530.4 L630.0,531.7 L631.0,532.9 L632.0,534.1 L633.0,535.1 L634.0,536.1 L635.0,537.1 L636.0,538.1 L637.0,539.1 L638.0,540.1 L639.0,541.1 L640.0,542.1 L641.0,543.1 L642.0,543.9 L643.0,544.1 L644.0,544.3 L645.0,544.5 L646.0,544.6 L647.0,544.8 L648.0,545.0 L649.0,545.1 L650.0,545.3 L651.0,545.5 L652.0,545.7 L653.0,546.0 L654.0,546.3 L655.0,546.6 L656.0,547.0 L657.0,547.3 L658.0,547.6 L659.0,548.0 L660.0,548.3 L661.0,548.6 L662.0,548.6 L663.0,547.5 L664.0,546.3 L665.0,545.0 L666.0,543.8 L667.0,542.5 L668.0,541.2 L669.0,539.8 L670.0,538.2 L671.0,536.5 L672.0,534.8 L673.0,533.2 L674.0,531.5 L675.0,529.8 L676.0,528.2 L677.0,526.5 L678.0,524.8 L679.0,522.9 L680.0,520.7 L681.0,518.4 L682.0,516.2 L683.0,513.9 L684.0,511.7 L685.0,509.4 L686.0,507.2 L687.0,504.9 L688.0,502.7 L689.0,500.4 L690.0,498.2 L691.0,495.9 L692.0,493.7 L693.0,491.4 L694.0,489.2 L695.0,486.9 L696.0,484.7 L697.0,482.5 L698.0,480.9 L699.0,479.3 L700.0,477.7 L701.0,476.1 L702.0,474.5 L703.0,472.9 L704.0,471.3 L705.0,469.7 L706.0,468.0 L707.0,466.2 L708.0,464.5 L709.0,462.7 L710.0,461.0 L711.0,459.2 L712.0,457.2 L713.0,453.9 L714.0,450.4 L715.0,446.9 L716.0,443.0 L717.0,439.0 L718.0,435.2 L719.0,432.2 L720.0,430.8 L721.0,429.5 L722.0,428.4 L723.0,427.9 L724.0,427.5 L725.0,427.1 L726.0,426.8 L727.0,426.4 L728.0,426.0 L729.0,425.0 L730.0,423.1 L731.0,421.1 L732.0,419.1 L733.0,417.0 L734.0,414.7 L735.0,412.3 L736.0,409.9 L737.0,407.2 L738.0,402.3 L739.0,397.1 L740.0,392.8 L741.0,389.7 L742.0,386.7 L743.0,384.1 L744.0,383.2 L745.0,382.5 L746.0,381.9 L747.0,381.2 L748.0,380.4 L749.0,379.3 L750.0,378.1 L751.0,376.9 L752.0,375.5 L753.0,372.4 L754.0,369.0 L755.0,365.6 L756.0,363.4 L757.0,362.3 L758.0,361.3 L759.0,360.9 L760.0,361.9 L761.0,363.0 L762.0,364.2 L763.0,365.3 L764.0,365.0 L765.0,360.5 L766.0,355.4 L767.0,349.8 L768.0,344.0 L769.0,339.1 L770.0,336.3 L771.0,337.2 L772.0,338.6 L773.0,340.0 L774.0,340.9 L775.0,340.3 L776.0,339.5 L777.0,338.6 L778.0,337.8 L779.0,337.0 L780.0,336.5 L781.0,336.0 L782.0,335.5 L783.0,335.0 L784.0,333.4 L785.0,327.7 L786.0,321.2 L787.0,313.4 L788.0,304.5 L789.0,295.6 L790.0,287.9 L791.0,283.3 L792.0,281.1 L793.0,280.6 L794.0,280.5 L795.0,281.9 L796.0,287.0 L797.0,289.2 L798.0,288.4 L799.0,287.2 L800.0,285.9 L801.0,284.3 L802.0,282.2 L803.0,280.0 L804.0,277.8 L805.0,275.9 L806.0,274.8 L807.0,274.0 L808.0,274.4 L809.0,275.7 L810.0,277.0 L811.0,278.3 L812.0,279.9 L813.0,282.8 L814.0,286.7 L815.0,290.0 L816.0,291.3 L817.0,292.3 L818.0,293.1 L819.0,292.6 L820.0,291.4 L821.0,290.2 L822.0,288.9 L823.0,286.4 L824.0,283.2 L825.0,280.3 L826.0,279.1 L827.0,278.1 L828.0,277.1 L829.0,276.3 L830.0,277.3 L831.0,278.6 L832.0,280.0 L833.0,281.5 L834.0,283.0 L835.0,284.7 L836.0,286.4 L837.0,288.0 L838.0,289.8 L839.0,292.6 L840.0,295.8 L841.0,298.5 L842.0,299.3 L843.0,299.9 L844.0,300.6 L845.0,301.2 L846.0,301.8 L847.0,302.6 L848.0,304.2 L849.0,306.9 L850.0,309.6 L851.0,312.4 L852.0,315.4 L853.0,318.4 L854.0,321.4 L855.0,324.8 L856.0,328.3 L857.0,331.7 L858.0,334.1 L859.0,335.5 L860.0,336.8 L861.0,338.0 L862.0,339.3 L863.0,340.5 L864.0,341.9 L865.0,344.4 L866.0,347.4 L867.0,350.3 L868.0,352.9 L869.0,354.9 L870.0,356.9 L871.0,359.0 L872.0,361.1 L873.0,363.4 L874.0,365.8 L875.0,368.2 L876.0,370.7 L877.0,373.7 L878.0,376.7 L879.0,379.7 L880.0,382.7 L881.0,385.7 L882.0,388.7 L883.0,392.1 L884.0,396.0 L885.0,399.9 L886.0,403.2 L887.0,406.2 L888.0,409.2 L889.0,412.0 L890.0,414.7 L891.0,417.2 L892.0,419.0 L893.0,420.7 L894.0,422.4 L895.0,424.0 L896.0,425.9 L897.0,429.6 L898.0,433.7 L899.0,438.1 L900.0,442.9 L901.0,446.9 L902.0,450.4 L903.0,453.9 L904.0,457.2 L905.0,460.5 L906.0,463.7 L907.0,466.9 L908.0,470.0 L909.0,473.0 L910.0,476.0 L911.0,479.0 L912.0,482.0 L913.0,484.8 L914.0,487.3 L915.0,489.7 L916.0,492.1 L917.0,494.5 L918.0,496.9 L919.0,499.4 L920.0,501.8 L921.0,504.2 L922.0,506.6 L923.0,509.1 L924.0,512.2 L925.0,516.1 L926.0,520.1 L927.0,524.1 L928.0,528.1 L929.0,532.1 L930.0,536.1 L931.0,540.1 L932.0,544.0 L933.0,547.4 L934.0,550.7 L935.0,554.1 L936.0,557.4 L937.0,560.7 L938.0,564.1 L939.0,567.4 L940.0,570.8 L941.0,574.3 L942.0,577.7 L943.0,581.3 L944.0,584.8 L945.0,588.3 L946.0,591.8 L947.0,595.3 L948.0,598.8 L949.0,602.3 L950.0,605.7 L951.0,609.2 L952.0,612.6 L953.0,616.0 L954.0,619.4 L955.0,622.8 L956.0,626.2 L957.0,629.6 L958.0,632.9 L959.0,636.3 L960.0,639.6 L961.0,642.9 L962.0,646.3 L963.0,649.6 L964.0,652.9 L965.0,656.2 L966.0,659.5 L967.0,662.7 L968.0,666.0 L969.0,669.2 L970.0,672.4 L971.0,675.5 L972.0,678.7 L973.0,681.8 L974.0,684.9 L975.0,688.1 L976.0,691.2 L977.0,694.3 L978.0,697.4 L979.0,700.5 L980.0,703.7 L981.0,706.9 L982.0,710.1 L983.0,713.3 L984.0,716.6 L985.0,719.9 L986.0,723.2 L987.0,726.5 L988.0,729.9 L989.0,733.3 L990.0,736.8 L991.0,740.3 L992.0,743.8 L993.0,747.3 L994.0,750.9 L995.0,754.5 L996.0,758.2 L997.0,761.9 L998.0,765.6 L999.0,769.4 L1000.0,773.2 L1001.0,777.0 L1002.0,780.9 L1003.0,784.8 L1004.0,788.7 L1005.0,792.7 L1006.0,796.7 L1007.0,800.7 L1008.0,804.7 L1009.0,808.8 L1010.0,812.9 L1011.0,817.1 L1012.0,821.3 L1013.0,825.5 L1014.0,829.9 L1015.0,834.3 L1016.0,838.7 L1017.0,843.3 L1018.0,847.9 L1019.0,852.5 L1020.0,857.1 L1021.0,861.8 L1022.0,866.4 L1023.0,870.9 L1024.0,875.4 L1025.0,879.7 L1026.0,883.9 L1027.0,887.9 L1028.0,891.8 L1029.0,895.6 L1030.0,899.3 L1031.0,902.9 L1032.0,906.4 L1033.0,909.8 L1034.0,913.2 L1035.0,916.6 L1036.0,920.0 L1037.0,923.3 L1038.0,926.7 L1039.0,930.0 L1040.0,933.3 L1041.0,936.7 L1042.0,940.0 L1043.0,943.3 L1044.0,946.7 L1045.0,950.0 L1046.0,953.3 L1047.0,956.6 L1048.0,959.9 L1049.0,963.2 L1050.0,966.5 L1051.0,969.7 L1052.0,973.0 L1053.0,976.2 L1054.0,979.3 L1055.0,982.5 L1056.0,985.6 L1057.0,988.6 L1058.0,991.6 L1059.0,994.5 L1060.0,997.4 L1061.0,1000.2 L1062.0,1002.9 L1063.0,1005.6 L1064.0,1008.1 L1065.0,1010.6 L1066.0,1013.0 L1067.0,1015.3 L1068.0,1017.5 L1069.0,1019.7 L1070.0,1021.7 L1071.0,1023.8 L1072.0,1025.7 L1073.0,1027.7 L1074.0,1029.5 L1075.0,1031.3 L1076.0,1033.1 L1077.0,1034.9 L1078.0,1036.6 L1079.0,1038.2 L1080.0,1039.8 L1081.0,1041.4 L1082.0,1042.9 L1083.0,1044.3 L1084.0,1045.7 L1085.0,1047.0 L1086.0,1048.2 L1087.0,1049.4 L1088.0,1050.5 L1089.0,1051.5 L1090.0,1052.5 L1091.0,1053.4 L1092.0,1054.2 L1093.0,1055.0 L1094.0,1055.7 L1095.0,1056.3 L1096.0,1056.9 L1097.0,1057.4 L1098.0,1057.8 L1099.0,1058.2 L1100.0,1058.5 L1101.0,1058.8 L1102.0,1059.1 L1103.0,1059.3 L1104.0,1059.5 L1105.0,1059.7 L1106.0,1059.9 L1107.0,1060.0 L1108.0,1060.1 L1109.0,1060.1 L1110.0,1060.1 L1111.0,1060.1 L1112.0,1060.1 L1113.0,1060.1 L1114.0,1060.0 L1115.0,1059.9 L1116.0,1059.9 L1117.0,1059.8 L1118.0,1059.7 L1119.0,1059.5 L1120.0,1059.4 L1121.0,1059.3 L1122.0,1059.1 L1123.0,1059.0 L1124.0,1058.8 L1125.0,1058.7 L1126.0,1058.5 L1127.0,1058.3 L1128.0,1058.1 L1129.0,1057.8 L1130.0,1057.6 L1131.0,1057.4 L1132.0,1057.1 L1133.0,1056.9 L1134.0,1056.6 L1135.0,1056.4 L1136.0,1056.1 L1137.0,1055.9 L1138.0,1055.6 L1139.0,1055.3 L1140.0,1055.1 L1141.0,1054.8 L1142.0,1054.5 L1143.0,1054.2 L1144.0,1053.8 L1145.0,1053.5 L1146.0,1053.2 L1147.0,1052.8 L1148.0,1052.4 L1149.0,1052.0 L1150.0,1051.6 L1151.0,1051.2 L1152.0,1050.8 L1153.0,1050.4 L1154.0,1049.9 L1155.0,1049.5 L1156.0,1049.1 L1157.0,1048.7 L1158.0,1048.2 L1159.0,1047.8 L1160.0,1047.4 L1161.0,1047.0 L1162.0,1046.5 L1163.0,1046.1 L1164.0,1045.7 L1165.0,1045.3 L1166.0,1044.9 L1167.0,1044.5 L1168.0,1044.1 L1169.0,1043.7 L1170.0,1043.3 L1171.0,1043.0 L1172.0,1042.6 L1173.0,1042.2 L1174.0,1041.8 L1175.0,1041.5 L1176.0,1041.1 L1177.0,1040.8 L1178.0,1040.4 L1179.0,1040.0 L1180.0,1039.7 L1181.0,1039.3 L1182.0,1039.0 L1183.0,1038.6 L1184.0,1038.2 L1185.0,1037.9 L1186.0,1037.5 L1187.0,1037.2 L1188.0,1036.8 L1189.0,1036.5 L1190.0,1036.1 L1191.0,1035.7 L1192.0,1035.4 L1193.0,1035.0 L1194.0,1034.7 L1195.0,1034.3 L1196.0,1034.0 L1197.0,1033.6 L1198.0,1033.2 L1199.0,1032.9 L1200.0,1032.5 L1201.0,1032.2 L1202.0,1031.8 L1203.0,1031.5 L1204.0,1031.1 L1205.0,1030.8 L1206.0,1030.4 L1207.0,1030.0 L1208.0,1029.7 L1209.0,1029.3 L1210.0,1029.0 L1211.0,1028.7 L1212.0,1028.3 L1213.0,1028.0 L1214.0,1027.7 L1215.0,1027.3 L1216.0,1027.0 L1217.0,1026.7 L1218.0,1026.4 L1219.0,1026.1 L1220.0,1025.8 L1221.0,1025.5 L1222.0,1025.2 L1223.0,1024.9 L1224.0,1024.6 L1225.0,1024.3 L1226.0,1024.1 L1227.0,1023.8 L1228.0,1023.5 L1229.0,1023.2 L1230.0,1022.9 L1231.0,1022.6 L1232.0,1022.3 L1233.0,1022.1 L1234.0,1021.8 L1235.0,1021.5 L1236.0,1021.2 L1237.0,1020.9 L1238.0,1020.6 L1239.0,1020.3 L1240.0,1020.1 L1241.0,1019.8 L1242.0,1019.5 L1243.0,1019.2 L1244.0,1018.9 L1245.0,1018.6 L1246.0,1018.3 L1247.0,1018.1 L1248.0,1017.8 L1249.0,1017.5 L1250.0,1017.2 L1251.0,1016.9 L1252.0,1016.6 L1253.0,1016.4 L1254.0,1016.1 L1255.0,1015.8 L1256.0,1015.5 L1257.0,1015.3 L1258.0,1015.0 L1259.0,1014.8 L1260.0,1014.6 L1261.0,1014.4 L1262.0,1014.2 L1263.0,1014.0 L1264.0,1013.9 L1265.0,1013.7 L1266.0,1013.6 L1267.0,1013.5 L1268.0,1013.4 L1269.0,1013.3 L1270.0,1013.2 L1271.0,1013.1 L1272.0,1013.0 L1273.0,1012.9 L1274.0,1012.8 L1275.0,1012.8 L1276.0,1012.7 L1277.0,1012.6 L1278.0,1012.5 L1279.0,1012.5 L1280.0,1012.4 L1281.0,1012.3 L1282.0,1012.3 L1283.0,1012.2 L1284.0,1012.2 L1285.0,1012.1 L1286.0,1012.1 L1287.0,1012.0 L1288.0,1012.0 L1289.0,1011.9 L1290.0,1011.9 L1291.0,1011.9 L1292.0,1011.8 L1293.0,1011.8 L1294.0,1011.8 L1295.0,1011.8 L1296.0,1011.8 L1297.0,1011.8 L1298.0,1011.9 L1299.0,1011.9 L1300.0,1012.0 L1301.0,1012.1 L1302.0,1012.2 L1303.0,1012.3 L1304.0,1012.4 L1305.0,1012.5 L1306.0,1012.6 L1307.0,1012.8 L1308.0,1012.9 L1309.0,1013.0 L1310.0,1013.2 L1311.0,1013.3 L1312.0,1013.5 L1313.0,1013.6 L1314.0,1013.8 L1315.0,1014.0 L1316.0,1014.1 L1317.0,1014.3 L1318.0,1014.5 L1319.0,1014.7 L1320.0,1014.9 L1321.0,1015.1 L1322.0,1015.3 L1323.0,1015.5 L1324.0,1015.7 L1325.0,1015.9 L1326.0,1016.1 L1327.0,1016.4 L1328.0,1016.6 L1329.0,1016.9 L1330.0,1017.2 L1331.0,1017.5 L1332.0,1017.8 L1333.0,1018.2 L1334.0,1018.6 L1335.0,1019.0 L1336.0,1019.4 L1337.0,1019.9 L1338.0,1020.3 L1339.0,1020.8 L1340.0,1021.3 L1341.0,1021.8 L1342.0,1022.3 L1343.0,1022.8 L1344.0,1023.3 L1345.0,1023.8 L1346.0,1024.3 L1347.0,1024.8 L1348.0,1025.3 L1349.0,1025.8 L1350.0,1026.3 L1351.0,1026.8 L1352.0,1027.4 L1353.0,1027.9 L1354.0,1028.5 L1355.0,1029.0 L1356.0,1029.6 L1357.0,1030.2 L1358.0,1030.8 L1359.0,1031.4 L1360.0,1032.0 L1361.0,1032.6 L1362.0,1033.2 L1363.0,1033.9 L1364.0,1034.5 L1365.0,1035.2 L1366.0,1035.8 L1367.0,1036.4 L1368.0,1037.1 L1369.0,1037.7 L1370.0,1038.4 L1371.0,1039.0 L1372.0,1039.7 L1373.0,1040.4 L1374.0,1041.1 L1375.0,1041.8 L1376.0,1042.5 L1377.0,1043.3 L1378.0,1044.0 L1379.0,1044.8 L1380.0,1045.6 L1381.0,1046.4 L1382.0,1047.3 L1383.0,1048.1 L1384.0,1048.9 L1385.0,1049.7 L1386.0,1050.5 L1387.0,1051.2 L1388.0,1052.0 L1389.0,1052.7 L1390.0,1053.4 L1391.0,1054.1 L1392.0,1054.8 L1393.0,1055.5 L1394.0,1056.2 L1395.0,1056.8 L1396.0,1057.5 L1397.0,1058.1 L1398.0,1058.8 L1399.0,1059.4 L1400.0,1060.0 L1401.0,1060.7 L1402.0,1061.3 L1403.0,1062.0 L1404.0,1062.6 L1405.0,1063.3 L1406.0,1063.9 L1407.0,1064.6 L1408.0,1065.2 L1409.0,1065.9 L1410.0,1066.5 L1411.0,1067.2 L1412.0,1067.8 L1413.0,1068.5 L1414.0,1069.2 L1415.0,1069.8 L1416.0,1070.5 L1417.0,1071.2 L1418.0,1071.8 L1419.0,1072.5 L1420.0,1073.2 L1421.0,1073.9 L1422.0,1074.5 L1423.0,1075.2 L1424.0,1075.9 L1425.0,1076.6 L1426.0,1077.4 L1427.0,1078.1 L1428.0,1078.9 L1429.0,1079.7 L1430.0,1080.5 L1431.0,1081.3 L1432.0,1082.1 L1433.0,1083.0 L1434.0,1083.9 L1435.0,1084.7 L1436.0,1085.6 L1437.0,1086.5 L1438.0,1087.4 L1439.0,1088.3 L1440.0,1089.3 L1441.0,1090.2 L1442.0,1091.1 L1443.0,1092.0 L1444.0,1093.0 L1445.0,1093.9 L1446.0,1094.8 L1447.0,1095.8 L1448.0,1096.7 L1449.0,1097.7 L1450.0,1098.6 L1451.0,1099.6 L1452.0,1100.6 L1453.0,1101.5 L1454.0,1102.5 L1455.0,1103.5 L1456.0,1104.5 L1457.0,1105.5 L1458.0,1106.5 L1459.0,1107.5 L1460.0,1108.5 L1461.0,1109.5 L1462.0,1110.6 L1463.0,1111.6 L1464.0,1112.6 L1465.0,1113.7 L1466.0,1114.8 L1467.0,1115.9 L1468.0,1117.0 L1469.0,1118.1 L1470.0,1119.3 L1471.0,1120.5 L1472.0,1121.7 L1473.0,1123.0 L1474.0,1124.3 L1475.0,1125.6 L1476.0,1126.8 L1477.0,1128.2 L1478.0,1129.5 L1479.0,1130.8 L1480.0,1132.1 L1481.0,1133.5 L1482.0,1134.8 L1483.0,1136.1 L1484.0,1137.5 L1485.0,1138.8 L1486.0,1140.1 L1487.0,1141.5 L1488.0,1142.8 L1489.0,1144.1 L1490.0,1145.7 L1491.0,1147.3 L1492.0,1149.0 L1493.0,1150.6 L1494.0,1152.3 L1495.0,1153.9 L1496.0,1155.5 L1497.0,1157.2 L1498.0,1158.8 L1499.0,1160.4 L1500.0,1162.0 L1501.0,1163.5 L1502.0,1165.0 L1503.0,1166.5 L1504.0,1168.0 L1505.0,1169.5 L1506.0,1171.0 L1507.0,1172.5 L1508.0,1174.0 L1509.0,1175.5 L1510.0,1177.0 L1511.0,1178.5 L1512.0,1180.0 L1513.0,1181.5 L1514.0,1183.0 L1515.0,1184.5 L1516.0,1186.0 L1517.0,1187.5 L1518.0,1189.0 L1519.0,1190.5 L1520.0,1192.0 L1521.0,1193.5 L1522.0,1195.0 L1523.0,1196.5 L1524.0,1198.0 L1525.0,1199.5 L1526.0,1201.0 L1527.0,1202.5 L1528.0,1204.0 L1529.0,1205.5 L1530.0,1207.0 L1531.0,1208.5 L1532.0,1210.0 L1533.0,1211.5 L1534.0,1213.0 L1535.0,1214.4 L1536.0,1215.9 L1537.0,1217.4 L1538.0,1218.8 L1539.0,1220.3 L1540.0,1221.7 L1541.0,1223.2 L1542.0,1224.6 L1543.0,1226.0 L1544.0,1227.4 L1545.0,1228.8 L1546.0,1230.1 L1547.0,1231.5 L1548.0,1232.8 L1549.0,1234.2 L1550.0,1235.5 L1551.0,1236.8 L1552.0,1238.1 L1553.0,1239.3 L1554.0,1240.6 L1555.0,1241.8 L1556.0,1243.0 L1557.0,1244.2 L1558.0,1245.3 L1559.0,1246.5 L1560.0,1247.6 L1561.0,1248.7 L1562.0,1249.9 L1563.0,1251.0 L1564.0,1252.1 L1565.0,1253.1 L1566.0,1254.2 L1567.0,1255.3 L1568.0,1256.3 L1569.0,1257.4 L1570.0,1258.4 L1571.0,1259.4 L1572.0,1260.4 L1573.0,1261.4 L1574.0,1262.4 L1575.0,1263.4 L1576.0,1264.4 L1577.0,1265.3 L1578.0,1266.2 L1579.0,1267.2 L1580.0,1268.1 L1581.0,1269.0 L1582.0,1269.8 L1583.0,1270.7 L1584.0,1271.5 L1585.0,1272.4 L1586.0,1273.2 L1587.0,1274.0 L1588.0,1274.8 L1589.0,1275.6 L1590.0,1276.4 L1591.0,1277.2 L1592.0,1277.9 L1593.0,1278.7 L1594.0,1279.4 L1595.0,1280.2 L1596.0,1280.9 L1597.0,1281.6 L1598.0,1282.3 L1599.0,1282.9 L1600.0,1283.6 L1601.0,1284.2 L1602.0,1284.9 L1603.0,1285.5 L1604.0,1286.1 L1605.0,1286.7 L1606.0,1287.3 L1607.0,1287.9 L1608.0,1288.5 L1609.0,1289.0 L1610.0,1289.6 L1611.0,1290.1 L1612.0,1290.6 L1613.0,1291.2 L1614.0,1291.7 L1615.0,1292.1 L1616.0,1292.6 L1617.0,1293.0 L1618.0,1293.5 L1619.0,1293.9 L1620.0,1294.3 L1621.0,1294.7 L1622.0,1295.2 L1623.0,1295.6 L1624.0,1295.9 L1625.0,1296.3 L1626.0,1296.7 L1627.0,1297.1 L1628.0,1297.5 L1629.0,1297.8 L1630.0,1298.2 L1631.0,1298.5 L1632.0,1298.9 L1633.0,1299.2 L1634.0,1299.5 L1635.0,1299.8 L1636.0,1300.1 L1637.0,1300.5 L1638.0,1300.8 L1639.0,1301.1 L1640.0,1301.4 L1641.0,1301.7 L1642.0,1302.0 L1643.0,1302.2 L1644.0,1302.5 L1645.0,1302.8 L1646.0,1303.1 L1647.0,1303.4 L1648.0,1303.6 L1649.0,1303.9 L1650.0,1304.1 L1651.0,1304.4 L1652.0,1304.6 L1653.0,1304.8 L1654.0,1305.0 L1655.0,1305.2 L1656.0,1305.4 L1657.0,1305.6 L1658.0,1305.7 L1659.0,1305.9 L1660.0,1306.1 L1661.0,1306.3 L1662.0,1306.4 L1663.0,1306.6 L1664.0,1306.8 L1665.0,1306.9 L1666.0,1307.1 L1667.0,1307.3 L1668.0,1307.4 L1669.0,1307.6 L1670.0,1307.7 L1671.0,1307.9 L1672.0,1308.0 L1673.0,1308.2 L1674.0,1308.3 L1675.0,1308.4 L1676.0,1308.5 L1677.0,1308.6 L1678.0,1308.7 L1679.0,1308.8 L1680.0,1308.9 L1681.0,1309.0 L1682.0,1309.1 L1683.0,1309.1 L1684.0,1309.2 L1685.0,1309.3 L1686.0,1309.4 L1687.0,1309.5 L1688.0,1309.5 L1689.0,1309.6 L1690.0,1309.7 L1691.0,1309.8 L1692.0,1309.9 L1693.0,1309.9 L1694.0,1310.0 L1695.0,1310.1 L1696.0,1310.2 L1697.0,1310.2 L1698.0,1310.3 L1699.0,1310.4 L1700.0,1310.4 L1701.0,1310.5 L1702.0,1310.5 L1703.0,1310.6 L1704.0,1310.6 L1705.0,1310.7 L1706.0,1310.7 L1707.0,1310.8 L1708.0,1310.8 L1709.0,1310.8 L1710.0,1310.9 L1711.0,1310.9 L1712.0,1310.9 L1713.0,1311.0 L1714.0,1311.0 L1715.0,1311.1 L1716.0,1311.1 L1717.0,1311.1 L1718.0,1311.2 L1719.0,1311.2 L1720.0,1311.2 L1721.0,1311.3 L1722.0,1311.3 L1723.0,1311.4 L1724.0,1311.4 L1725.0,1311.4 L1726.0,1311.5 L1727.0,1311.5 L1728.0,1311.5 L1729.0,1311.6 L1730.0,1311.6 L1731.0,1311.7 L1732.0,1311.7 L1733.0,1311.7 L1734.0,1311.8 L1735.0,1311.8 L1736.0,1311.8 L1737.0,1311.9 L1738.0,1311.9 L1739.0,1311.9 L1740.0,1312.0 L1741.0,1312.0 L1742.0,1312.0 L1743.0,1312.0 L1744.0,1312.1 L1745.0,1312.1 L1746.0,1312.1 L1747.0,1312.1 L1748.0,1312.2 L1749.0,1312.2 L1750.0,1312.2 L1751.0,1312.2 L1752.0,1312.2 L1753.0,1312.3 L1754.0,1312.3 L1755.0,1312.3 L1756.0,1312.3 L1757.0,1312.3 L1758.0,1312.4 L1759.0,1312.4 L1760.0,1312.4 L1761.0,1312.4 L1762.0,1312.4 L1763.0,1312.5 L1764.0,1312.5 L1765.0,1312.5 L1766.0,1312.5 L1767.0,1312.5 L1768.0,1312.6 L1769.0,1312.6 L1770.0,1312.6 L1771.0,1312.6 L1772.0,1312.6 L1773.0,1312.7 L1774.0,1312.7 L1775.0,1312.7 L1776.0,1312.7 L1777.0,1312.7 L1778.0,1312.8 L1779.0,1312.8 L1780.0,1312.8 L1781.0,1312.8 L1782.0,1312.8 L1783.0,1312.9 L1784.0,1312.9 L1785.0,1312.9" stroke="#69922F"/>
</g>
</g>
</svg>
</body></html>
